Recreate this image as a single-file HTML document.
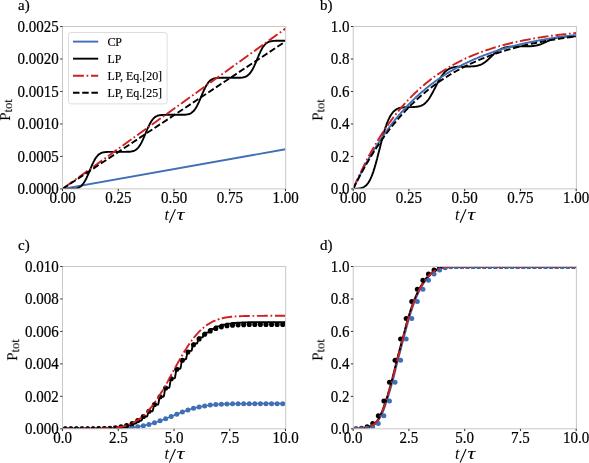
<!DOCTYPE html>
<html><head><meta charset="utf-8"><style>
html,body{margin:0;padding:0;background:#fff;}
svg{display:block;}
.tk{font-family:"Liberation Serif",serif;font-size:15.0px;fill:#000;stroke:#000;stroke-width:0.2px;}
.mt{font-family:"Liberation Serif",serif;font-size:16px;fill:#000;}
svg text{will-change:transform;}
.yl{font-family:"Liberation Serif",serif;font-size:15px;fill:#000;stroke:#000;stroke-width:0.05px;}
.lg{font-family:"Liberation Serif",serif;font-size:11.95px;fill:#000;stroke:#000;stroke-width:0.15px;}
</style></head><body>
<svg width="589" height="463" viewBox="0 0 589 463">
<rect width="589" height="463" fill="#fff"/>
<clipPath id="clipa"><rect x="62.50" y="26.50" width="223.00" height="162.40"/></clipPath>
<g clip-path="url(#clipa)">
<path d="M62.5,188.9 L285.5,149.3" fill="none" stroke="#3f6fb5" stroke-width="1.90" stroke-linejoin="round"/>
<path d="M62.5,188.9 L63.1,188.9 L63.6,188.9 L64.2,188.9 L64.7,188.9 L65.3,188.9 L65.8,188.9 L66.4,188.9 L67.0,188.9 L67.5,188.9 L68.1,188.9 L68.6,188.9 L69.2,188.9 L69.7,188.9 L70.3,188.9 L70.9,188.9 L71.4,188.9 L72.0,188.8 L72.5,188.8 L73.1,188.8 L73.7,188.7 L74.2,188.7 L74.8,188.6 L75.3,188.6 L75.9,188.5 L76.4,188.4 L77.0,188.2 L77.6,188.1 L78.1,187.9 L78.7,187.6 L79.2,187.3 L79.8,187.0 L80.3,186.6 L80.9,186.2 L81.5,185.7 L82.0,185.1 L82.6,184.5 L83.1,183.8 L83.7,183.0 L84.2,182.2 L84.8,181.2 L85.4,180.3 L85.9,179.2 L86.5,178.1 L87.0,176.9 L87.6,175.6 L88.1,174.4 L88.7,173.1 L89.3,171.7 L89.8,170.4 L90.4,169.0 L90.9,167.7 L91.5,166.4 L92.0,165.1 L92.6,163.9 L93.2,162.7 L93.7,161.6 L94.3,160.5 L94.8,159.5 L95.4,158.6 L95.9,157.7 L96.5,157.0 L97.1,156.3 L97.6,155.6 L98.2,155.1 L98.7,154.6 L99.3,154.1 L99.9,153.8 L100.4,153.4 L101.0,153.2 L101.5,152.9 L102.1,152.7 L102.6,152.5 L103.2,152.4 L103.8,152.3 L104.3,152.2 L104.9,152.1 L105.4,152.1 L106.0,152.0 L106.5,152.0 L107.1,152.0 L107.7,151.9 L108.2,151.9 L108.8,151.9 L109.3,151.9 L109.9,151.9 L110.4,151.9 L111.0,151.9 L111.6,151.9 L112.1,151.9 L112.7,151.9 L113.2,151.9 L113.8,151.9 L114.3,151.9 L114.9,151.9 L115.5,151.9 L116.0,151.9 L116.6,151.9 L117.1,151.9 L117.7,151.9 L118.2,151.9 L118.8,151.9 L119.4,151.9 L119.9,151.9 L120.5,151.9 L121.0,151.9 L121.6,151.9 L122.2,151.9 L122.7,151.9 L123.3,151.9 L123.8,151.9 L124.4,151.9 L124.9,151.9 L125.5,151.9 L126.1,151.8 L126.6,151.8 L127.2,151.8 L127.7,151.8 L128.3,151.8 L128.8,151.8 L129.4,151.7 L130.0,151.7 L130.5,151.6 L131.1,151.5 L131.6,151.4 L132.2,151.3 L132.7,151.2 L133.3,151.0 L133.9,150.8 L134.4,150.6 L135.0,150.3 L135.5,150.0 L136.1,149.6 L136.6,149.2 L137.2,148.7 L137.8,148.1 L138.3,147.5 L138.9,146.8 L139.4,146.0 L140.0,145.1 L140.6,144.2 L141.1,143.2 L141.7,142.2 L142.2,141.0 L142.8,139.8 L143.3,138.6 L143.9,137.3 L144.5,136.0 L145.0,134.7 L145.6,133.4 L146.1,132.0 L146.7,130.7 L147.2,129.4 L147.8,128.1 L148.4,126.9 L148.9,125.7 L149.5,124.6 L150.0,123.5 L150.6,122.5 L151.1,121.6 L151.7,120.7 L152.3,119.9 L152.8,119.2 L153.4,118.6 L153.9,118.0 L154.5,117.5 L155.0,117.1 L155.6,116.7 L156.2,116.4 L156.7,116.1 L157.3,115.9 L157.8,115.7 L158.4,115.5 L158.9,115.4 L159.5,115.3 L160.1,115.2 L160.6,115.1 L161.2,115.0 L161.7,115.0 L162.3,115.0 L162.9,114.9 L163.4,114.9 L164.0,114.9 L164.5,114.9 L165.1,114.9 L165.6,114.9 L166.2,114.9 L166.8,114.9 L167.3,114.9 L167.9,114.9 L168.4,114.8 L169.0,114.8 L169.5,114.8 L170.1,114.8 L170.7,114.8 L171.2,114.8 L171.8,114.8 L172.3,114.8 L172.9,114.8 L173.4,114.8 L174.0,114.8 L174.6,114.8 L175.1,114.8 L175.7,114.8 L176.2,114.8 L176.8,114.8 L177.3,114.8 L177.9,114.8 L178.5,114.8 L179.0,114.8 L179.6,114.8 L180.1,114.8 L180.7,114.8 L181.2,114.8 L181.8,114.8 L182.4,114.8 L182.9,114.8 L183.5,114.8 L184.0,114.8 L184.6,114.7 L185.2,114.7 L185.7,114.6 L186.3,114.6 L186.8,114.5 L187.4,114.4 L187.9,114.3 L188.5,114.2 L189.1,114.0 L189.6,113.8 L190.2,113.6 L190.7,113.3 L191.3,113.0 L191.8,112.6 L192.4,112.1 L193.0,111.6 L193.5,111.1 L194.1,110.5 L194.6,109.7 L195.2,109.0 L195.7,108.1 L196.3,107.2 L196.9,106.2 L197.4,105.1 L198.0,104.0 L198.5,102.8 L199.1,101.6 L199.6,100.3 L200.2,99.0 L200.8,97.7 L201.3,96.3 L201.9,95.0 L202.4,93.7 L203.0,92.4 L203.5,91.1 L204.1,89.8 L204.7,88.7 L205.2,87.5 L205.8,86.5 L206.3,85.5 L206.9,84.5 L207.5,83.7 L208.0,82.9 L208.6,82.2 L209.1,81.6 L209.7,81.0 L210.2,80.5 L210.8,80.1 L211.4,79.7 L211.9,79.4 L212.5,79.1 L213.0,78.9 L213.6,78.7 L214.1,78.5 L214.7,78.4 L215.3,78.2 L215.8,78.2 L216.4,78.1 L216.9,78.0 L217.5,78.0 L218.0,77.9 L218.6,77.9 L219.2,77.9 L219.7,77.9 L220.3,77.9 L220.8,77.8 L221.4,77.8 L221.9,77.8 L222.5,77.8 L223.1,77.8 L223.6,77.8 L224.2,77.8 L224.7,77.8 L225.3,77.8 L225.8,77.8 L226.4,77.8 L227.0,77.8 L227.5,77.8 L228.1,77.8 L228.6,77.8 L229.2,77.8 L229.8,77.8 L230.3,77.8 L230.9,77.8 L231.4,77.8 L232.0,77.8 L232.5,77.8 L233.1,77.8 L233.7,77.8 L234.2,77.8 L234.8,77.8 L235.3,77.8 L235.9,77.8 L236.4,77.8 L237.0,77.8 L237.6,77.8 L238.1,77.8 L238.7,77.8 L239.2,77.8 L239.8,77.7 L240.3,77.7 L240.9,77.7 L241.5,77.6 L242.0,77.6 L242.6,77.5 L243.1,77.4 L243.7,77.3 L244.2,77.1 L244.8,77.0 L245.4,76.8 L245.9,76.5 L246.5,76.3 L247.0,75.9 L247.6,75.6 L248.1,75.1 L248.7,74.6 L249.3,74.1 L249.8,73.4 L250.4,72.7 L250.9,71.9 L251.5,71.1 L252.0,70.2 L252.6,69.2 L253.2,68.1 L253.7,67.0 L254.3,65.8 L254.8,64.6 L255.4,63.3 L256.0,62.0 L256.5,60.6 L257.1,59.3 L257.6,58.0 L258.2,56.6 L258.7,55.3 L259.3,54.0 L259.9,52.8 L260.4,51.6 L261.0,50.5 L261.5,49.4 L262.1,48.4 L262.6,47.5 L263.2,46.7 L263.8,45.9 L264.3,45.2 L264.9,44.6 L265.4,44.0 L266.0,43.5 L266.5,43.1 L267.1,42.7 L267.7,42.3 L268.2,42.1 L268.8,41.8 L269.3,41.6 L269.9,41.5 L270.4,41.3 L271.0,41.2 L271.6,41.1 L272.1,41.1 L272.7,41.0 L273.2,40.9 L273.8,40.9 L274.4,40.9 L274.9,40.9 L275.5,40.8 L276.0,40.8 L276.6,40.8 L277.1,40.8 L277.7,40.8 L278.3,40.8 L278.8,40.8 L279.4,40.8 L279.9,40.8 L280.5,40.8 L281.0,40.8 L281.6,40.8 L282.2,40.8 L282.7,40.8 L283.3,40.8 L283.8,40.8 L284.4,40.8 L284.9,40.8 L285.5,40.8" fill="none" stroke="#000000" stroke-width="1.90" stroke-linejoin="round"/>
<path d="M62.5,188.9 L285.5,28.6" fill="none" stroke="#d01f20" stroke-width="1.90" stroke-dasharray="10.9,2.7,1.7,2.7" stroke-linejoin="round" stroke-dashoffset="-2"/>
<path d="M62.5,188.9 L285.5,41.4" fill="none" stroke="#000000" stroke-width="1.90" stroke-dasharray="6.5,2.7" stroke-linejoin="round"/>
</g>
<path d="M62.50,26.00 V189.40 M285.70,26.00 V189.40 M62.00,26.50 H286.20 M62.00,188.90 H286.20" fill="none" stroke="#c8c8c8" stroke-width="1"/>
<line x1="60.20" y1="188.90" x2="62.50" y2="188.90" stroke="#333333" stroke-width="1"/>
<text transform="translate(58.70,194.30) scale(1,1.080)" text-anchor="end" class="tk">0.0000</text>
<line x1="60.20" y1="156.42" x2="62.50" y2="156.42" stroke="#333333" stroke-width="1"/>
<text transform="translate(58.70,161.82) scale(1,1.080)" text-anchor="end" class="tk">0.0005</text>
<line x1="60.20" y1="123.94" x2="62.50" y2="123.94" stroke="#333333" stroke-width="1"/>
<text transform="translate(58.70,129.34) scale(1,1.080)" text-anchor="end" class="tk">0.0010</text>
<line x1="60.20" y1="91.46" x2="62.50" y2="91.46" stroke="#333333" stroke-width="1"/>
<text transform="translate(58.70,96.86) scale(1,1.080)" text-anchor="end" class="tk">0.0015</text>
<line x1="60.20" y1="58.98" x2="62.50" y2="58.98" stroke="#333333" stroke-width="1"/>
<text transform="translate(58.70,64.38) scale(1,1.080)" text-anchor="end" class="tk">0.0020</text>
<line x1="60.20" y1="26.50" x2="62.50" y2="26.50" stroke="#333333" stroke-width="1"/>
<text transform="translate(58.70,31.90) scale(1,1.080)" text-anchor="end" class="tk">0.0025</text>
<line x1="62.50" y1="188.90" x2="62.50" y2="191.20" stroke="#333333" stroke-width="1"/>
<text transform="translate(62.50,202.85) scale(1,1.080)" text-anchor="middle" class="tk">0.00</text>
<line x1="118.25" y1="188.90" x2="118.25" y2="191.20" stroke="#333333" stroke-width="1"/>
<text transform="translate(118.25,202.85) scale(1,1.080)" text-anchor="middle" class="tk">0.25</text>
<line x1="174.00" y1="188.90" x2="174.00" y2="191.20" stroke="#333333" stroke-width="1"/>
<text transform="translate(174.00,202.85) scale(1,1.080)" text-anchor="middle" class="tk">0.50</text>
<line x1="229.75" y1="188.90" x2="229.75" y2="191.20" stroke="#333333" stroke-width="1"/>
<text transform="translate(229.75,202.85) scale(1,1.080)" text-anchor="middle" class="tk">0.75</text>
<line x1="285.50" y1="188.90" x2="285.50" y2="191.20" stroke="#333333" stroke-width="1"/>
<text transform="translate(285.50,202.85) scale(1,1.080)" text-anchor="middle" class="tk">1.00</text>
<text x="18.00" y="10.30" class="tk">a)</text>
<text x="164.40" y="219.55" class="mt" font-style="italic" font-size="14.2">t</text>
<line x1="169.40" y1="222.75" x2="175.40" y2="209.15" stroke="#000" stroke-width="1.1"/>
<text transform="translate(176.60,219.55) scale(1.4,1)" class="mt" font-style="italic" font-size="15">τ</text>
<g transform="translate(10.10,110.00) rotate(-90)"><text x="0" y="0" text-anchor="middle" class="yl">P<tspan font-size="12.6" dy="2.0">tot</tspan></text></g>
<rect x="68.5" y="32.5" width="98.6" height="71.4" rx="2.5" fill="#ffffff" fill-opacity="0.8" stroke="#dddddd" stroke-width="1"/>
<line x1="73.0" y1="41.60" x2="98.2" y2="41.60" stroke="#3f6fb5" stroke-width="1.90"/>
<text x="107.4" y="45.80" class="lg">CP</text>
<line x1="73.0" y1="58.67" x2="98.2" y2="58.67" stroke="#000000" stroke-width="1.90"/>
<text x="107.4" y="62.87" class="lg">LP</text>
<line x1="73.0" y1="75.74" x2="98.2" y2="75.74" stroke="#d01f20" stroke-width="1.90" stroke-dasharray="10.9,2.7,1.7,2.7"/>
<text x="107.4" y="79.94" class="lg">LP, Eq.[20]</text>
<line x1="73.0" y1="92.81" x2="98.2" y2="92.81" stroke="#000000" stroke-width="1.90" stroke-dasharray="6.5,2.7"/>
<text x="107.4" y="97.01" class="lg">LP, Eq.[25]</text>
<clipPath id="clipb"><rect x="353.20" y="26.50" width="223.00" height="162.40"/></clipPath>
<g clip-path="url(#clipb)">
<path d="M353.2,188.9 L353.8,188.9 L354.3,188.9 L354.9,188.9 L355.4,188.8 L356.0,188.8 L356.5,188.8 L357.1,188.7 L357.7,188.7 L358.2,188.6 L358.8,188.5 L359.3,188.5 L359.9,188.4 L360.4,188.3 L361.0,188.1 L361.6,188.0 L362.1,187.8 L362.7,187.6 L363.2,187.3 L363.8,187.0 L364.3,186.7 L364.9,186.3 L365.5,185.9 L366.0,185.4 L366.6,184.9 L367.1,184.2 L367.7,183.6 L368.3,182.8 L368.8,181.9 L369.4,181.0 L369.9,180.0 L370.5,178.9 L371.0,177.6 L371.6,176.3 L372.2,174.9 L372.7,173.4 L373.3,171.8 L373.8,170.1 L374.4,168.4 L374.9,166.5 L375.5,164.6 L376.1,162.6 L376.6,160.5 L377.2,158.4 L377.7,156.3 L378.3,154.1 L378.8,151.9 L379.4,149.7 L380.0,147.5 L380.5,145.3 L381.1,143.1 L381.6,140.9 L382.2,138.8 L382.7,136.8 L383.3,134.8 L383.9,132.8 L384.4,130.9 L385.0,129.1 L385.5,127.4 L386.1,125.8 L386.6,124.2 L387.2,122.7 L387.8,121.3 L388.3,120.0 L388.9,118.8 L389.4,117.7 L390.0,116.6 L390.6,115.6 L391.1,114.7 L391.7,113.9 L392.2,113.2 L392.8,112.5 L393.3,111.8 L393.9,111.3 L394.5,110.8 L395.0,110.3 L395.6,109.9 L396.1,109.5 L396.7,109.2 L397.2,108.9 L397.8,108.7 L398.4,108.4 L398.9,108.2 L399.5,108.1 L400.0,107.9 L400.6,107.8 L401.1,107.7 L401.7,107.6 L402.3,107.5 L402.8,107.5 L403.4,107.4 L403.9,107.4 L404.5,107.3 L405.0,107.3 L405.6,107.3 L406.2,107.2 L406.7,107.2 L407.3,107.2 L407.8,107.2 L408.4,107.2 L408.9,107.2 L409.5,107.1 L410.1,107.1 L410.6,107.1 L411.2,107.1 L411.7,107.1 L412.3,107.1 L412.9,107.1 L413.4,107.0 L414.0,107.0 L414.5,107.0 L415.1,106.9 L415.6,106.9 L416.2,106.8 L416.8,106.8 L417.3,106.7 L417.9,106.6 L418.4,106.5 L419.0,106.4 L419.5,106.2 L420.1,106.1 L420.7,105.9 L421.2,105.7 L421.8,105.4 L422.3,105.1 L422.9,104.8 L423.4,104.5 L424.0,104.1 L424.6,103.7 L425.1,103.2 L425.7,102.7 L426.2,102.2 L426.8,101.6 L427.3,100.9 L427.9,100.2 L428.5,99.5 L429.0,98.7 L429.6,97.8 L430.1,97.0 L430.7,96.0 L431.2,95.1 L431.8,94.1 L432.4,93.1 L432.9,92.0 L433.5,90.9 L434.0,89.9 L434.6,88.8 L435.2,87.7 L435.7,86.6 L436.3,85.5 L436.8,84.4 L437.4,83.3 L437.9,82.3 L438.5,81.3 L439.1,80.3 L439.6,79.3 L440.2,78.4 L440.7,77.5 L441.3,76.6 L441.8,75.8 L442.4,75.0 L443.0,74.3 L443.5,73.6 L444.1,72.9 L444.6,72.3 L445.2,71.8 L445.7,71.3 L446.3,70.8 L446.9,70.3 L447.4,69.9 L448.0,69.5 L448.5,69.2 L449.1,68.9 L449.6,68.6 L450.2,68.3 L450.8,68.1 L451.3,67.9 L451.9,67.7 L452.4,67.6 L453.0,67.4 L453.6,67.3 L454.1,67.2 L454.7,67.1 L455.2,67.0 L455.8,66.9 L456.3,66.9 L456.9,66.8 L457.5,66.8 L458.0,66.7 L458.6,66.7 L459.1,66.7 L459.7,66.7 L460.2,66.6 L460.8,66.6 L461.4,66.6 L461.9,66.6 L462.5,66.6 L463.0,66.6 L463.6,66.6 L464.1,66.6 L464.7,66.6 L465.3,66.5 L465.8,66.5 L466.4,66.5 L466.9,66.5 L467.5,66.5 L468.0,66.5 L468.6,66.5 L469.2,66.5 L469.7,66.5 L470.3,66.5 L470.8,66.4 L471.4,66.4 L471.9,66.4 L472.5,66.4 L473.1,66.3 L473.6,66.3 L474.2,66.2 L474.7,66.2 L475.3,66.1 L475.9,66.0 L476.4,65.9 L477.0,65.8 L477.5,65.7 L478.1,65.6 L478.6,65.4 L479.2,65.2 L479.8,65.0 L480.3,64.8 L480.9,64.6 L481.4,64.3 L482.0,64.1 L482.5,63.8 L483.1,63.4 L483.7,63.1 L484.2,62.7 L484.8,62.3 L485.3,61.9 L485.9,61.5 L486.4,61.0 L487.0,60.6 L487.6,60.1 L488.1,59.6 L488.7,59.0 L489.2,58.5 L489.8,58.0 L490.3,57.4 L490.9,56.9 L491.5,56.3 L492.0,55.8 L492.6,55.3 L493.1,54.7 L493.7,54.2 L494.2,53.7 L494.8,53.2 L495.4,52.7 L495.9,52.3 L496.5,51.8 L497.0,51.4 L497.6,51.0 L498.2,50.6 L498.7,50.2 L499.3,49.9 L499.8,49.6 L500.4,49.3 L500.9,49.0 L501.5,48.7 L502.1,48.5 L502.6,48.3 L503.2,48.1 L503.7,47.9 L504.3,47.7 L504.8,47.5 L505.4,47.4 L506.0,47.3 L506.5,47.2 L507.1,47.1 L507.6,47.0 L508.2,46.9 L508.7,46.8 L509.3,46.8 L509.9,46.7 L510.4,46.7 L511.0,46.6 L511.5,46.6 L512.1,46.6 L512.6,46.5 L513.2,46.5 L513.8,46.5 L514.3,46.5 L514.9,46.5 L515.4,46.4 L516.0,46.4 L516.5,46.4 L517.1,46.4 L517.7,46.4 L518.2,46.4 L518.8,46.4 L519.3,46.4 L519.9,46.4 L520.5,46.4 L521.0,46.4 L521.6,46.4 L522.1,46.4 L522.7,46.4 L523.2,46.4 L523.8,46.4 L524.4,46.4 L524.9,46.4 L525.5,46.4 L526.0,46.3 L526.6,46.3 L527.1,46.3 L527.7,46.3 L528.3,46.3 L528.8,46.3 L529.4,46.3 L529.9,46.2 L530.5,46.2 L531.0,46.2 L531.6,46.1 L532.2,46.1 L532.7,46.0 L533.3,46.0 L533.8,45.9 L534.4,45.8 L534.9,45.7 L535.5,45.6 L536.1,45.5 L536.6,45.4 L537.2,45.3 L537.7,45.2 L538.3,45.0 L538.8,44.8 L539.4,44.7 L540.0,44.5 L540.5,44.3 L541.1,44.1 L541.6,43.9 L542.2,43.6 L542.8,43.4 L543.3,43.2 L543.9,42.9 L544.4,42.7 L545.0,42.4 L545.5,42.1 L546.1,41.9 L546.7,41.6 L547.2,41.3 L547.8,41.0 L548.3,40.8 L548.9,40.5 L549.4,40.3 L550.0,40.0 L550.6,39.8 L551.1,39.5 L551.7,39.3 L552.2,39.1 L552.8,38.9 L553.3,38.7 L553.9,38.5 L554.5,38.3 L555.0,38.1 L555.6,38.0 L556.1,37.8 L556.7,37.7 L557.2,37.5 L557.8,37.4 L558.4,37.3 L558.9,37.2 L559.5,37.1 L560.0,37.0 L560.6,36.9 L561.1,36.9 L561.7,36.8 L562.3,36.8 L562.8,36.7 L563.4,36.7 L563.9,36.6 L564.5,36.6 L565.1,36.6 L565.6,36.5 L566.2,36.5 L566.7,36.5 L567.3,36.5 L567.8,36.5 L568.4,36.4 L569.0,36.4 L569.5,36.4 L570.1,36.4 L570.6,36.4 L571.2,36.4 L571.7,36.4 L572.3,36.4 L572.9,36.4 L573.4,36.4 L574.0,36.4 L574.5,36.4 L575.1,36.4 L575.6,36.4 L576.2,36.4" fill="none" stroke="#000000" stroke-width="1.90" stroke-linejoin="round"/>
<path d="M353.2,188.9 L353.8,187.7 L354.3,186.5 L354.9,185.3 L355.4,184.2 L356.0,183.0 L356.5,181.9 L357.1,180.7 L357.7,179.6 L358.2,178.5 L358.8,177.4 L359.3,176.2 L359.9,175.1 L360.4,174.1 L361.0,173.0 L361.6,171.9 L362.1,170.8 L362.7,169.8 L363.2,168.7 L363.8,167.7 L364.3,166.6 L364.9,165.6 L365.5,164.6 L366.0,163.6 L366.6,162.6 L367.1,161.6 L367.7,160.6 L368.3,159.6 L368.8,158.6 L369.4,157.6 L369.9,156.7 L370.5,155.7 L371.0,154.8 L371.6,153.8 L372.2,152.9 L372.7,152.0 L373.3,151.0 L373.8,150.1 L374.4,149.2 L374.9,148.3 L375.5,147.4 L376.1,146.5 L376.6,145.6 L377.2,144.8 L377.7,143.9 L378.3,143.0 L378.8,142.2 L379.4,141.3 L380.0,140.5 L380.5,139.6 L381.1,138.8 L381.6,138.0 L382.2,137.2 L382.7,136.4 L383.3,135.6 L383.9,134.7 L384.4,134.0 L385.0,133.2 L385.5,132.4 L386.1,131.6 L386.6,130.8 L387.2,130.1 L387.8,129.3 L388.3,128.5 L388.9,127.8 L389.4,127.1 L390.0,126.3 L390.6,125.6 L391.1,124.9 L391.7,124.1 L392.2,123.4 L392.8,122.7 L393.3,122.0 L393.9,121.3 L394.5,120.6 L395.0,119.9 L395.6,119.2 L396.1,118.5 L396.7,117.9 L397.2,117.2 L397.8,116.5 L398.4,115.9 L398.9,115.2 L399.5,114.6 L400.0,113.9 L400.6,113.3 L401.1,112.6 L401.7,112.0 L402.3,111.4 L402.8,110.7 L403.4,110.1 L403.9,109.5 L404.5,108.9 L405.0,108.3 L405.6,107.7 L406.2,107.1 L406.7,106.5 L407.3,105.9 L407.8,105.3 L408.4,104.8 L408.9,104.2 L409.5,103.6 L410.1,103.0 L410.6,102.5 L411.2,101.9 L411.7,101.4 L412.3,100.8 L412.9,100.3 L413.4,99.7 L414.0,99.2 L414.5,98.7 L415.1,98.1 L415.6,97.6 L416.2,97.1 L416.8,96.6 L417.3,96.0 L417.9,95.5 L418.4,95.0 L419.0,94.5 L419.5,94.0 L420.1,93.5 L420.7,93.0 L421.2,92.5 L421.8,92.1 L422.3,91.6 L422.9,91.1 L423.4,90.6 L424.0,90.2 L424.6,89.7 L425.1,89.2 L425.7,88.8 L426.2,88.3 L426.8,87.8 L427.3,87.4 L427.9,86.9 L428.5,86.5 L429.0,86.1 L429.6,85.6 L430.1,85.2 L430.7,84.8 L431.2,84.3 L431.8,83.9 L432.4,83.5 L432.9,83.1 L433.5,82.7 L434.0,82.2 L434.6,81.8 L435.2,81.4 L435.7,81.0 L436.3,80.6 L436.8,80.2 L437.4,79.8 L437.9,79.4 L438.5,79.0 L439.1,78.7 L439.6,78.3 L440.2,77.9 L440.7,77.5 L441.3,77.1 L441.8,76.8 L442.4,76.4 L443.0,76.0 L443.5,75.7 L444.1,75.3 L444.6,75.0 L445.2,74.6 L445.7,74.2 L446.3,73.9 L446.9,73.5 L447.4,73.2 L448.0,72.9 L448.5,72.5 L449.1,72.2 L449.6,71.8 L450.2,71.5 L450.8,71.2 L451.3,70.8 L451.9,70.5 L452.4,70.2 L453.0,69.9 L453.6,69.6 L454.1,69.2 L454.7,68.9 L455.2,68.6 L455.8,68.3 L456.3,68.0 L456.9,67.7 L457.5,67.4 L458.0,67.1 L458.6,66.8 L459.1,66.5 L459.7,66.2 L460.2,65.9 L460.8,65.6 L461.4,65.3 L461.9,65.0 L462.5,64.8 L463.0,64.5 L463.6,64.2 L464.1,63.9 L464.7,63.7 L465.3,63.4 L465.8,63.1 L466.4,62.8 L466.9,62.6 L467.5,62.3 L468.0,62.0 L468.6,61.8 L469.2,61.5 L469.7,61.3 L470.3,61.0 L470.8,60.8 L471.4,60.5 L471.9,60.3 L472.5,60.0 L473.1,59.8 L473.6,59.5 L474.2,59.3 L474.7,59.0 L475.3,58.8 L475.9,58.6 L476.4,58.3 L477.0,58.1 L477.5,57.9 L478.1,57.6 L478.6,57.4 L479.2,57.2 L479.8,56.9 L480.3,56.7 L480.9,56.5 L481.4,56.3 L482.0,56.1 L482.5,55.8 L483.1,55.6 L483.7,55.4 L484.2,55.2 L484.8,55.0 L485.3,54.8 L485.9,54.6 L486.4,54.4 L487.0,54.2 L487.6,54.0 L488.1,53.8 L488.7,53.6 L489.2,53.4 L489.8,53.2 L490.3,53.0 L490.9,52.8 L491.5,52.6 L492.0,52.4 L492.6,52.2 L493.1,52.0 L493.7,51.8 L494.2,51.6 L494.8,51.4 L495.4,51.3 L495.9,51.1 L496.5,50.9 L497.0,50.7 L497.6,50.5 L498.2,50.4 L498.7,50.2 L499.3,50.0 L499.8,49.8 L500.4,49.7 L500.9,49.5 L501.5,49.3 L502.1,49.2 L502.6,49.0 L503.2,48.8 L503.7,48.7 L504.3,48.5 L504.8,48.3 L505.4,48.2 L506.0,48.0 L506.5,47.9 L507.1,47.7 L507.6,47.6 L508.2,47.4 L508.7,47.2 L509.3,47.1 L509.9,46.9 L510.4,46.8 L511.0,46.6 L511.5,46.5 L512.1,46.3 L512.6,46.2 L513.2,46.1 L513.8,45.9 L514.3,45.8 L514.9,45.6 L515.4,45.5 L516.0,45.4 L516.5,45.2 L517.1,45.1 L517.7,44.9 L518.2,44.8 L518.8,44.7 L519.3,44.5 L519.9,44.4 L520.5,44.3 L521.0,44.1 L521.6,44.0 L522.1,43.9 L522.7,43.8 L523.2,43.6 L523.8,43.5 L524.4,43.4 L524.9,43.3 L525.5,43.1 L526.0,43.0 L526.6,42.9 L527.1,42.8 L527.7,42.6 L528.3,42.5 L528.8,42.4 L529.4,42.3 L529.9,42.2 L530.5,42.1 L531.0,41.9 L531.6,41.8 L532.2,41.7 L532.7,41.6 L533.3,41.5 L533.8,41.4 L534.4,41.3 L534.9,41.2 L535.5,41.1 L536.1,41.0 L536.6,40.8 L537.2,40.7 L537.7,40.6 L538.3,40.5 L538.8,40.4 L539.4,40.3 L540.0,40.2 L540.5,40.1 L541.1,40.0 L541.6,39.9 L542.2,39.8 L542.8,39.7 L543.3,39.6 L543.9,39.5 L544.4,39.4 L545.0,39.3 L545.5,39.3 L546.1,39.2 L546.7,39.1 L547.2,39.0 L547.8,38.9 L548.3,38.8 L548.9,38.7 L549.4,38.6 L550.0,38.5 L550.6,38.4 L551.1,38.3 L551.7,38.3 L552.2,38.2 L552.8,38.1 L553.3,38.0 L553.9,37.9 L554.5,37.8 L555.0,37.7 L555.6,37.7 L556.1,37.6 L556.7,37.5 L557.2,37.4 L557.8,37.3 L558.4,37.3 L558.9,37.2 L559.5,37.1 L560.0,37.0 L560.6,36.9 L561.1,36.9 L561.7,36.8 L562.3,36.7 L562.8,36.6 L563.4,36.6 L563.9,36.5 L564.5,36.4 L565.1,36.4 L565.6,36.3 L566.2,36.2 L566.7,36.1 L567.3,36.1 L567.8,36.0 L568.4,35.9 L569.0,35.9 L569.5,35.8 L570.1,35.7 L570.6,35.7 L571.2,35.6 L571.7,35.5 L572.3,35.5 L572.9,35.4 L573.4,35.3 L574.0,35.3 L574.5,35.2 L575.1,35.1 L575.6,35.1 L576.2,35.0" fill="none" stroke="#3f6fb5" stroke-width="1.90" stroke-linejoin="round"/>
<path d="M353.2,188.9 L353.8,187.6 L354.3,186.3 L354.9,185.0 L355.4,183.8 L356.0,182.5 L356.5,181.2 L357.1,180.0 L357.7,178.8 L358.2,177.6 L358.8,176.3 L359.3,175.1 L359.9,173.9 L360.4,172.8 L361.0,171.6 L361.6,170.4 L362.1,169.3 L362.7,168.1 L363.2,167.0 L363.8,165.9 L364.3,164.7 L364.9,163.6 L365.5,162.5 L366.0,161.5 L366.6,160.4 L367.1,159.3 L367.7,158.2 L368.3,157.2 L368.8,156.1 L369.4,155.1 L369.9,154.1 L370.5,153.0 L371.0,152.0 L371.6,151.0 L372.2,150.0 L372.7,149.0 L373.3,148.0 L373.8,147.1 L374.4,146.1 L374.9,145.1 L375.5,144.2 L376.1,143.2 L376.6,142.3 L377.2,141.4 L377.7,140.5 L378.3,139.5 L378.8,138.6 L379.4,137.7 L380.0,136.9 L380.5,136.0 L381.1,135.1 L381.6,134.2 L382.2,133.4 L382.7,132.5 L383.3,131.6 L383.9,130.8 L384.4,130.0 L385.0,129.1 L385.5,128.3 L386.1,127.5 L386.6,126.7 L387.2,125.9 L387.8,125.1 L388.3,124.3 L388.9,123.5 L389.4,122.7 L390.0,122.0 L390.6,121.2 L391.1,120.4 L391.7,119.7 L392.2,118.9 L392.8,118.2 L393.3,117.5 L393.9,116.7 L394.5,116.0 L395.0,115.3 L395.6,114.6 L396.1,113.9 L396.7,113.2 L397.2,112.5 L397.8,111.8 L398.4,111.1 L398.9,110.4 L399.5,109.8 L400.0,109.1 L400.6,108.4 L401.1,107.8 L401.7,107.1 L402.3,106.5 L402.8,105.8 L403.4,105.2 L403.9,104.6 L404.5,103.9 L405.0,103.3 L405.6,102.7 L406.2,102.1 L406.7,101.5 L407.3,100.9 L407.8,100.3 L408.4,99.7 L408.9,99.1 L409.5,98.5 L410.1,97.9 L410.6,97.4 L411.2,96.8 L411.7,96.2 L412.3,95.7 L412.9,95.1 L413.4,94.6 L414.0,94.0 L414.5,93.5 L415.1,93.0 L415.6,92.4 L416.2,91.9 L416.8,91.4 L417.3,90.8 L417.9,90.3 L418.4,89.8 L419.0,89.3 L419.5,88.8 L420.1,88.3 L420.7,87.8 L421.2,87.3 L421.8,86.8 L422.3,86.4 L422.9,85.9 L423.4,85.4 L424.0,84.9 L424.6,84.5 L425.1,84.0 L425.7,83.5 L426.2,83.1 L426.8,82.6 L427.3,82.2 L427.9,81.7 L428.5,81.3 L429.0,80.8 L429.6,80.4 L430.1,80.0 L430.7,79.5 L431.2,79.1 L431.8,78.7 L432.4,78.3 L432.9,77.9 L433.5,77.5 L434.0,77.0 L434.6,76.6 L435.2,76.2 L435.7,75.8 L436.3,75.4 L436.8,75.0 L437.4,74.7 L437.9,74.3 L438.5,73.9 L439.1,73.5 L439.6,73.1 L440.2,72.8 L440.7,72.4 L441.3,72.0 L441.8,71.7 L442.4,71.3 L443.0,70.9 L443.5,70.6 L444.1,70.2 L444.6,69.9 L445.2,69.5 L445.7,69.2 L446.3,68.8 L446.9,68.5 L447.4,68.2 L448.0,67.8 L448.5,67.5 L449.1,67.2 L449.6,66.8 L450.2,66.5 L450.8,66.2 L451.3,65.9 L451.9,65.6 L452.4,65.3 L453.0,64.9 L453.6,64.6 L454.1,64.3 L454.7,64.0 L455.2,63.7 L455.8,63.4 L456.3,63.1 L456.9,62.8 L457.5,62.5 L458.0,62.3 L458.6,62.0 L459.1,61.7 L459.7,61.4 L460.2,61.1 L460.8,60.8 L461.4,60.6 L461.9,60.3 L462.5,60.0 L463.0,59.8 L463.6,59.5 L464.1,59.2 L464.7,59.0 L465.3,58.7 L465.8,58.4 L466.4,58.2 L466.9,57.9 L467.5,57.7 L468.0,57.4 L468.6,57.2 L469.2,56.9 L469.7,56.7 L470.3,56.5 L470.8,56.2 L471.4,56.0 L471.9,55.7 L472.5,55.5 L473.1,55.3 L473.6,55.0 L474.2,54.8 L474.7,54.6 L475.3,54.4 L475.9,54.1 L476.4,53.9 L477.0,53.7 L477.5,53.5 L478.1,53.3 L478.6,53.0 L479.2,52.8 L479.8,52.6 L480.3,52.4 L480.9,52.2 L481.4,52.0 L482.0,51.8 L482.5,51.6 L483.1,51.4 L483.7,51.2 L484.2,51.0 L484.8,50.8 L485.3,50.6 L485.9,50.4 L486.4,50.2 L487.0,50.0 L487.6,49.8 L488.1,49.6 L488.7,49.5 L489.2,49.3 L489.8,49.1 L490.3,48.9 L490.9,48.7 L491.5,48.6 L492.0,48.4 L492.6,48.2 L493.1,48.0 L493.7,47.9 L494.2,47.7 L494.8,47.5 L495.4,47.3 L495.9,47.2 L496.5,47.0 L497.0,46.9 L497.6,46.7 L498.2,46.5 L498.7,46.4 L499.3,46.2 L499.8,46.0 L500.4,45.9 L500.9,45.7 L501.5,45.6 L502.1,45.4 L502.6,45.3 L503.2,45.1 L503.7,45.0 L504.3,44.8 L504.8,44.7 L505.4,44.5 L506.0,44.4 L506.5,44.2 L507.1,44.1 L507.6,44.0 L508.2,43.8 L508.7,43.7 L509.3,43.5 L509.9,43.4 L510.4,43.3 L511.0,43.1 L511.5,43.0 L512.1,42.9 L512.6,42.7 L513.2,42.6 L513.8,42.5 L514.3,42.4 L514.9,42.2 L515.4,42.1 L516.0,42.0 L516.5,41.9 L517.1,41.7 L517.7,41.6 L518.2,41.5 L518.8,41.4 L519.3,41.2 L519.9,41.1 L520.5,41.0 L521.0,40.9 L521.6,40.8 L522.1,40.7 L522.7,40.6 L523.2,40.4 L523.8,40.3 L524.4,40.2 L524.9,40.1 L525.5,40.0 L526.0,39.9 L526.6,39.8 L527.1,39.7 L527.7,39.6 L528.3,39.5 L528.8,39.4 L529.4,39.3 L529.9,39.2 L530.5,39.1 L531.0,39.0 L531.6,38.9 L532.2,38.8 L532.7,38.7 L533.3,38.6 L533.8,38.5 L534.4,38.4 L534.9,38.3 L535.5,38.2 L536.1,38.1 L536.6,38.0 L537.2,37.9 L537.7,37.8 L538.3,37.7 L538.8,37.6 L539.4,37.5 L540.0,37.4 L540.5,37.4 L541.1,37.3 L541.6,37.2 L542.2,37.1 L542.8,37.0 L543.3,36.9 L543.9,36.8 L544.4,36.8 L545.0,36.7 L545.5,36.6 L546.1,36.5 L546.7,36.4 L547.2,36.4 L547.8,36.3 L548.3,36.2 L548.9,36.1 L549.4,36.0 L550.0,36.0 L550.6,35.9 L551.1,35.8 L551.7,35.7 L552.2,35.7 L552.8,35.6 L553.3,35.5 L553.9,35.5 L554.5,35.4 L555.0,35.3 L555.6,35.2 L556.1,35.2 L556.7,35.1 L557.2,35.0 L557.8,35.0 L558.4,34.9 L558.9,34.8 L559.5,34.8 L560.0,34.7 L560.6,34.6 L561.1,34.6 L561.7,34.5 L562.3,34.4 L562.8,34.4 L563.4,34.3 L563.9,34.2 L564.5,34.2 L565.1,34.1 L565.6,34.1 L566.2,34.0 L566.7,33.9 L567.3,33.9 L567.8,33.8 L568.4,33.8 L569.0,33.7 L569.5,33.6 L570.1,33.6 L570.6,33.5 L571.2,33.5 L571.7,33.4 L572.3,33.4 L572.9,33.3 L573.4,33.3 L574.0,33.2 L574.5,33.1 L575.1,33.1 L575.6,33.0 L576.2,33.0" fill="none" stroke="#d01f20" stroke-width="1.90" stroke-dasharray="10.9,2.7,1.7,2.7" stroke-linejoin="round"/>
<path d="M353.2,188.9 L353.8,187.8 L354.3,186.6 L354.9,185.5 L355.4,184.4 L356.0,183.3 L356.5,182.2 L357.1,181.1 L357.7,180.1 L358.2,179.0 L358.8,177.9 L359.3,176.9 L359.9,175.8 L360.4,174.8 L361.0,173.7 L361.6,172.7 L362.1,171.7 L362.7,170.7 L363.2,169.7 L363.8,168.7 L364.3,167.7 L364.9,166.7 L365.5,165.7 L366.0,164.7 L366.6,163.8 L367.1,162.8 L367.7,161.9 L368.3,160.9 L368.8,160.0 L369.4,159.1 L369.9,158.1 L370.5,157.2 L371.0,156.3 L371.6,155.4 L372.2,154.5 L372.7,153.6 L373.3,152.7 L373.8,151.8 L374.4,151.0 L374.9,150.1 L375.5,149.2 L376.1,148.4 L376.6,147.5 L377.2,146.7 L377.7,145.9 L378.3,145.0 L378.8,144.2 L379.4,143.4 L380.0,142.6 L380.5,141.7 L381.1,140.9 L381.6,140.1 L382.2,139.4 L382.7,138.6 L383.3,137.8 L383.9,137.0 L384.4,136.2 L385.0,135.5 L385.5,134.7 L386.1,134.0 L386.6,133.2 L387.2,132.5 L387.8,131.7 L388.3,131.0 L388.9,130.3 L389.4,129.5 L390.0,128.8 L390.6,128.1 L391.1,127.4 L391.7,126.7 L392.2,126.0 L392.8,125.3 L393.3,124.6 L393.9,123.9 L394.5,123.2 L395.0,122.6 L395.6,121.9 L396.1,121.2 L396.7,120.6 L397.2,119.9 L397.8,119.3 L398.4,118.6 L398.9,118.0 L399.5,117.3 L400.0,116.7 L400.6,116.1 L401.1,115.4 L401.7,114.8 L402.3,114.2 L402.8,113.6 L403.4,113.0 L403.9,112.4 L404.5,111.8 L405.0,111.2 L405.6,110.6 L406.2,110.0 L406.7,109.4 L407.3,108.9 L407.8,108.3 L408.4,107.7 L408.9,107.1 L409.5,106.6 L410.1,106.0 L410.6,105.5 L411.2,104.9 L411.7,104.4 L412.3,103.8 L412.9,103.3 L413.4,102.8 L414.0,102.2 L414.5,101.7 L415.1,101.2 L415.6,100.6 L416.2,100.1 L416.8,99.6 L417.3,99.1 L417.9,98.6 L418.4,98.1 L419.0,97.6 L419.5,97.1 L420.1,96.6 L420.7,96.1 L421.2,95.6 L421.8,95.2 L422.3,94.7 L422.9,94.2 L423.4,93.7 L424.0,93.3 L424.6,92.8 L425.1,92.3 L425.7,91.9 L426.2,91.4 L426.8,91.0 L427.3,90.5 L427.9,90.1 L428.5,89.6 L429.0,89.2 L429.6,88.7 L430.1,88.3 L430.7,87.9 L431.2,87.5 L431.8,87.0 L432.4,86.6 L432.9,86.2 L433.5,85.8 L434.0,85.4 L434.6,84.9 L435.2,84.5 L435.7,84.1 L436.3,83.7 L436.8,83.3 L437.4,82.9 L437.9,82.5 L438.5,82.1 L439.1,81.8 L439.6,81.4 L440.2,81.0 L440.7,80.6 L441.3,80.2 L441.8,79.9 L442.4,79.5 L443.0,79.1 L443.5,78.8 L444.1,78.4 L444.6,78.0 L445.2,77.7 L445.7,77.3 L446.3,77.0 L446.9,76.6 L447.4,76.3 L448.0,75.9 L448.5,75.6 L449.1,75.2 L449.6,74.9 L450.2,74.5 L450.8,74.2 L451.3,73.9 L451.9,73.5 L452.4,73.2 L453.0,72.9 L453.6,72.6 L454.1,72.2 L454.7,71.9 L455.2,71.6 L455.8,71.3 L456.3,71.0 L456.9,70.7 L457.5,70.4 L458.0,70.1 L458.6,69.8 L459.1,69.5 L459.7,69.2 L460.2,68.9 L460.8,68.6 L461.4,68.3 L461.9,68.0 L462.5,67.7 L463.0,67.4 L463.6,67.1 L464.1,66.8 L464.7,66.5 L465.3,66.3 L465.8,66.0 L466.4,65.7 L466.9,65.4 L467.5,65.2 L468.0,64.9 L468.6,64.6 L469.2,64.4 L469.7,64.1 L470.3,63.8 L470.8,63.6 L471.4,63.3 L471.9,63.1 L472.5,62.8 L473.1,62.6 L473.6,62.3 L474.2,62.1 L474.7,61.8 L475.3,61.6 L475.9,61.3 L476.4,61.1 L477.0,60.8 L477.5,60.6 L478.1,60.4 L478.6,60.1 L479.2,59.9 L479.8,59.7 L480.3,59.4 L480.9,59.2 L481.4,59.0 L482.0,58.7 L482.5,58.5 L483.1,58.3 L483.7,58.1 L484.2,57.8 L484.8,57.6 L485.3,57.4 L485.9,57.2 L486.4,57.0 L487.0,56.8 L487.6,56.6 L488.1,56.3 L488.7,56.1 L489.2,55.9 L489.8,55.7 L490.3,55.5 L490.9,55.3 L491.5,55.1 L492.0,54.9 L492.6,54.7 L493.1,54.5 L493.7,54.3 L494.2,54.1 L494.8,53.9 L495.4,53.8 L495.9,53.6 L496.5,53.4 L497.0,53.2 L497.6,53.0 L498.2,52.8 L498.7,52.6 L499.3,52.4 L499.8,52.3 L500.4,52.1 L500.9,51.9 L501.5,51.7 L502.1,51.6 L502.6,51.4 L503.2,51.2 L503.7,51.0 L504.3,50.9 L504.8,50.7 L505.4,50.5 L506.0,50.4 L506.5,50.2 L507.1,50.0 L507.6,49.9 L508.2,49.7 L508.7,49.5 L509.3,49.4 L509.9,49.2 L510.4,49.1 L511.0,48.9 L511.5,48.7 L512.1,48.6 L512.6,48.4 L513.2,48.3 L513.8,48.1 L514.3,48.0 L514.9,47.8 L515.4,47.7 L516.0,47.5 L516.5,47.4 L517.1,47.2 L517.7,47.1 L518.2,47.0 L518.8,46.8 L519.3,46.7 L519.9,46.5 L520.5,46.4 L521.0,46.2 L521.6,46.1 L522.1,46.0 L522.7,45.8 L523.2,45.7 L523.8,45.6 L524.4,45.4 L524.9,45.3 L525.5,45.2 L526.0,45.0 L526.6,44.9 L527.1,44.8 L527.7,44.7 L528.3,44.5 L528.8,44.4 L529.4,44.3 L529.9,44.2 L530.5,44.0 L531.0,43.9 L531.6,43.8 L532.2,43.7 L532.7,43.5 L533.3,43.4 L533.8,43.3 L534.4,43.2 L534.9,43.1 L535.5,43.0 L536.1,42.8 L536.6,42.7 L537.2,42.6 L537.7,42.5 L538.3,42.4 L538.8,42.3 L539.4,42.2 L540.0,42.1 L540.5,42.0 L541.1,41.8 L541.6,41.7 L542.2,41.6 L542.8,41.5 L543.3,41.4 L543.9,41.3 L544.4,41.2 L545.0,41.1 L545.5,41.0 L546.1,40.9 L546.7,40.8 L547.2,40.7 L547.8,40.6 L548.3,40.5 L548.9,40.4 L549.4,40.3 L550.0,40.2 L550.6,40.1 L551.1,40.0 L551.7,39.9 L552.2,39.8 L552.8,39.8 L553.3,39.7 L553.9,39.6 L554.5,39.5 L555.0,39.4 L555.6,39.3 L556.1,39.2 L556.7,39.1 L557.2,39.0 L557.8,38.9 L558.4,38.9 L558.9,38.8 L559.5,38.7 L560.0,38.6 L560.6,38.5 L561.1,38.4 L561.7,38.3 L562.3,38.3 L562.8,38.2 L563.4,38.1 L563.9,38.0 L564.5,37.9 L565.1,37.9 L565.6,37.8 L566.2,37.7 L566.7,37.6 L567.3,37.5 L567.8,37.5 L568.4,37.4 L569.0,37.3 L569.5,37.2 L570.1,37.2 L570.6,37.1 L571.2,37.0 L571.7,36.9 L572.3,36.9 L572.9,36.8 L573.4,36.7 L574.0,36.7 L574.5,36.6 L575.1,36.5 L575.6,36.4 L576.2,36.4" fill="none" stroke="#000000" stroke-width="1.90" stroke-dasharray="6.5,2.7" stroke-linejoin="round"/>
</g>
<path d="M353.20,26.00 V189.40 M576.40,26.00 V189.40 M352.70,26.50 H576.90 M352.70,188.90 H576.90" fill="none" stroke="#c8c8c8" stroke-width="1"/>
<line x1="350.90" y1="188.90" x2="353.20" y2="188.90" stroke="#333333" stroke-width="1"/>
<text transform="translate(349.40,194.30) scale(1,1.080)" text-anchor="end" class="tk">0.0</text>
<line x1="350.90" y1="156.42" x2="353.20" y2="156.42" stroke="#333333" stroke-width="1"/>
<text transform="translate(349.40,161.82) scale(1,1.080)" text-anchor="end" class="tk">0.2</text>
<line x1="350.90" y1="123.94" x2="353.20" y2="123.94" stroke="#333333" stroke-width="1"/>
<text transform="translate(349.40,129.34) scale(1,1.080)" text-anchor="end" class="tk">0.4</text>
<line x1="350.90" y1="91.46" x2="353.20" y2="91.46" stroke="#333333" stroke-width="1"/>
<text transform="translate(349.40,96.86) scale(1,1.080)" text-anchor="end" class="tk">0.6</text>
<line x1="350.90" y1="58.98" x2="353.20" y2="58.98" stroke="#333333" stroke-width="1"/>
<text transform="translate(349.40,64.38) scale(1,1.080)" text-anchor="end" class="tk">0.8</text>
<line x1="350.90" y1="26.50" x2="353.20" y2="26.50" stroke="#333333" stroke-width="1"/>
<text transform="translate(349.40,31.90) scale(1,1.080)" text-anchor="end" class="tk">1.0</text>
<line x1="353.20" y1="188.90" x2="353.20" y2="191.20" stroke="#333333" stroke-width="1"/>
<text transform="translate(353.20,202.85) scale(1,1.080)" text-anchor="middle" class="tk">0.00</text>
<line x1="408.95" y1="188.90" x2="408.95" y2="191.20" stroke="#333333" stroke-width="1"/>
<text transform="translate(408.95,202.85) scale(1,1.080)" text-anchor="middle" class="tk">0.25</text>
<line x1="464.70" y1="188.90" x2="464.70" y2="191.20" stroke="#333333" stroke-width="1"/>
<text transform="translate(464.70,202.85) scale(1,1.080)" text-anchor="middle" class="tk">0.50</text>
<line x1="520.45" y1="188.90" x2="520.45" y2="191.20" stroke="#333333" stroke-width="1"/>
<text transform="translate(520.45,202.85) scale(1,1.080)" text-anchor="middle" class="tk">0.75</text>
<line x1="576.20" y1="188.90" x2="576.20" y2="191.20" stroke="#333333" stroke-width="1"/>
<text transform="translate(576.20,202.85) scale(1,1.080)" text-anchor="middle" class="tk">1.00</text>
<text x="320.00" y="10.30" class="tk">b)</text>
<text x="455.10" y="219.55" class="mt" font-style="italic" font-size="14.2">t</text>
<line x1="460.10" y1="222.75" x2="466.10" y2="209.15" stroke="#000" stroke-width="1.1"/>
<text transform="translate(467.30,219.55) scale(1.4,1)" class="mt" font-style="italic" font-size="15">τ</text>
<g transform="translate(322.40,110.00) rotate(-90)"><text x="0" y="0" text-anchor="middle" class="yl">P<tspan font-size="12.6" dy="2.0">tot</tspan></text></g>
<clipPath id="clipc"><rect x="62.50" y="266.50" width="223.00" height="162.30"/></clipPath>
<g clip-path="url(#clipc)">
<path d="M62.5,428.8 L62.6,428.8 L62.8,428.8 L62.9,428.8 L63.1,428.8 L63.2,428.8 L63.3,428.8 L63.5,428.8 L63.6,428.8 L63.8,428.8 L63.9,428.8 L64.0,428.8 L64.2,428.8 L64.3,428.8 L64.5,428.8 L64.6,428.8 L64.7,428.8 L64.9,428.8 L65.0,428.8 L65.1,428.8 L65.3,428.8 L65.4,428.8 L65.6,428.8 L65.7,428.8 L65.8,428.8 L66.0,428.8 L66.1,428.8 L66.3,428.8 L66.4,428.8 L66.5,428.8 L66.7,428.8 L66.8,428.8 L67.0,428.8 L67.1,428.8 L67.2,428.8 L67.4,428.8 L67.5,428.8 L67.7,428.8 L67.8,428.8 L67.9,428.8 L68.1,428.8 L68.2,428.8 L68.4,428.8 L68.5,428.8 L68.6,428.8 L68.8,428.8 L68.9,428.8 L69.1,428.8 L69.2,428.8 L69.3,428.8 L69.5,428.8 L69.6,428.8 L69.7,428.8 L69.9,428.8 L70.0,428.8 L70.2,428.8 L70.3,428.8 L70.4,428.8 L70.6,428.8 L70.7,428.8 L70.9,428.8 L71.0,428.8 L71.1,428.8 L71.3,428.8 L71.4,428.8 L71.6,428.8 L71.7,428.8 L71.8,428.8 L72.0,428.8 L72.1,428.8 L72.3,428.8 L72.4,428.8 L72.5,428.8 L72.7,428.8 L72.8,428.8 L73.0,428.8 L73.1,428.8 L73.2,428.8 L73.4,428.8 L73.5,428.8 L73.7,428.8 L73.8,428.8 L73.9,428.8 L74.1,428.8 L74.2,428.8 L74.3,428.8 L74.5,428.8 L74.6,428.8 L74.8,428.8 L74.9,428.8 L75.0,428.8 L75.2,428.8 L75.3,428.8 L75.5,428.8 L75.6,428.8 L75.7,428.8 L75.9,428.8 L76.0,428.8 L76.2,428.8 L76.3,428.8 L76.4,428.8 L76.6,428.8 L76.7,428.8 L76.9,428.8 L77.0,428.8 L77.1,428.8 L77.3,428.8 L77.4,428.8 L77.6,428.8 L77.7,428.8 L77.8,428.8 L78.0,428.8 L78.1,428.8 L78.2,428.8 L78.4,428.8 L78.5,428.8 L78.7,428.8 L78.8,428.8 L78.9,428.8 L79.1,428.8 L79.2,428.8 L79.4,428.8 L79.5,428.8 L79.6,428.8 L79.8,428.8 L79.9,428.8 L80.1,428.8 L80.2,428.8 L80.3,428.8 L80.5,428.8 L80.6,428.8 L80.8,428.8 L80.9,428.8 L81.0,428.8 L81.2,428.8 L81.3,428.8 L81.5,428.8 L81.6,428.8 L81.7,428.8 L81.9,428.8 L82.0,428.8 L82.2,428.8 L82.3,428.8 L82.4,428.8 L82.6,428.8 L82.7,428.8 L82.8,428.8 L83.0,428.8 L83.1,428.8 L83.3,428.8 L83.4,428.8 L83.5,428.8 L83.7,428.8 L83.8,428.8 L84.0,428.8 L84.1,428.8 L84.2,428.8 L84.4,428.8 L84.5,428.8 L84.7,428.8 L84.8,428.8 L84.9,428.8 L85.1,428.8 L85.2,428.8 L85.4,428.8 L85.5,428.8 L85.6,428.8 L85.8,428.8 L85.9,428.8 L86.1,428.8 L86.2,428.8 L86.3,428.8 L86.5,428.8 L86.6,428.8 L86.8,428.8 L86.9,428.8 L87.0,428.8 L87.2,428.8 L87.3,428.8 L87.4,428.8 L87.6,428.8 L87.7,428.8 L87.9,428.8 L88.0,428.8 L88.1,428.8 L88.3,428.8 L88.4,428.8 L88.6,428.8 L88.7,428.8 L88.8,428.8 L89.0,428.8 L89.1,428.8 L89.3,428.8 L89.4,428.8 L89.5,428.8 L89.7,428.8 L89.8,428.8 L90.0,428.8 L90.1,428.8 L90.2,428.8 L90.4,428.8 L90.5,428.8 L90.7,428.8 L90.8,428.8 L90.9,428.8 L91.1,428.8 L91.2,428.8 L91.4,428.8 L91.5,428.8 L91.6,428.8 L91.8,428.8 L91.9,428.8 L92.0,428.8 L92.2,428.8 L92.3,428.8 L92.5,428.8 L92.6,428.8 L92.7,428.8 L92.9,428.8 L93.0,428.8 L93.2,428.8 L93.3,428.8 L93.4,428.8 L93.6,428.8 L93.7,428.8 L93.9,428.8 L94.0,428.8 L94.1,428.8 L94.3,428.8 L94.4,428.8 L94.6,428.8 L94.7,428.8 L94.8,428.8 L95.0,428.8 L95.1,428.8 L95.3,428.8 L95.4,428.8 L95.5,428.8 L95.7,428.8 L95.8,428.8 L95.9,428.8 L96.1,428.8 L96.2,428.8 L96.4,428.8 L96.5,428.8 L96.6,428.8 L96.8,428.8 L96.9,428.8 L97.1,428.8 L97.2,428.8 L97.3,428.8 L97.5,428.8 L97.6,428.8 L97.8,428.8 L97.9,428.8 L98.0,428.8 L98.2,428.8 L98.3,428.8 L98.5,428.8 L98.6,428.8 L98.7,428.8 L98.9,428.8 L99.0,428.8 L99.2,428.8 L99.3,428.8 L99.4,428.8 L99.6,428.8 L99.7,428.8 L99.9,428.8 L100.0,428.8 L100.1,428.8 L100.3,428.8 L100.4,428.8 L100.5,428.8 L100.7,428.8 L100.8,428.8 L101.0,428.8 L101.1,428.8 L101.2,428.7 L101.4,428.7 L101.5,428.7 L101.7,428.7 L101.8,428.7 L101.9,428.7 L102.1,428.7 L102.2,428.7 L102.4,428.7 L102.5,428.7 L102.6,428.7 L102.8,428.7 L102.9,428.7 L103.1,428.7 L103.2,428.7 L103.3,428.7 L103.5,428.7 L103.6,428.7 L103.8,428.7 L103.9,428.7 L104.0,428.7 L104.2,428.7 L104.3,428.7 L104.5,428.7 L104.6,428.7 L104.7,428.7 L104.9,428.7 L105.0,428.7 L105.1,428.7 L105.3,428.7 L105.4,428.7 L105.6,428.7 L105.7,428.7 L105.8,428.7 L106.0,428.7 L106.1,428.7 L106.3,428.7 L106.4,428.7 L106.5,428.7 L106.7,428.7 L106.8,428.7 L107.0,428.7 L107.1,428.7 L107.2,428.7 L107.4,428.7 L107.5,428.7 L107.7,428.7 L107.8,428.7 L107.9,428.7 L108.1,428.7 L108.2,428.7 L108.4,428.7 L108.5,428.7 L108.6,428.7 L108.8,428.7 L108.9,428.7 L109.1,428.7 L109.2,428.7 L109.3,428.7 L109.5,428.7 L109.6,428.7 L109.7,428.7 L109.9,428.7 L110.0,428.7 L110.2,428.6 L110.3,428.6 L110.4,428.6 L110.6,428.6 L110.7,428.6 L110.9,428.6 L111.0,428.6 L111.1,428.6 L111.3,428.6 L111.4,428.6 L111.6,428.6 L111.7,428.6 L111.8,428.6 L112.0,428.6 L112.1,428.6 L112.3,428.6 L112.4,428.6 L112.5,428.6 L112.7,428.6 L112.8,428.6 L113.0,428.6 L113.1,428.6 L113.2,428.6 L113.4,428.6 L113.5,428.6 L113.7,428.6 L113.8,428.6 L113.9,428.6 L114.1,428.6 L114.2,428.6 L114.3,428.6 L114.5,428.6 L114.6,428.6 L114.8,428.5 L114.9,428.5 L115.0,428.5 L115.2,428.5 L115.3,428.5 L115.5,428.5 L115.6,428.5 L115.7,428.5 L115.9,428.5 L116.0,428.5 L116.2,428.5 L116.3,428.5 L116.4,428.5 L116.6,428.5 L116.7,428.5 L116.9,428.5 L117.0,428.5 L117.1,428.5 L117.3,428.5 L117.4,428.5 L117.6,428.5 L117.7,428.5 L117.8,428.4 L118.0,428.4 L118.1,428.4 L118.2,428.4 L118.4,428.4 L118.5,428.4 L118.7,428.4 L118.8,428.4 L118.9,428.4 L119.1,428.4 L119.2,428.4 L119.4,428.4 L119.5,428.4 L119.6,428.4 L119.8,428.4 L119.9,428.4 L120.1,428.4 L120.2,428.4 L120.3,428.3 L120.5,428.3 L120.6,428.3 L120.8,428.3 L120.9,428.3 L121.0,428.3 L121.2,428.3 L121.3,428.3 L121.5,428.3 L121.6,428.3 L121.7,428.3 L121.9,428.3 L122.0,428.3 L122.2,428.3 L122.3,428.3 L122.4,428.2 L122.6,428.2 L122.7,428.2 L122.8,428.2 L123.0,428.2 L123.1,428.2 L123.3,428.2 L123.4,428.2 L123.5,428.2 L123.7,428.2 L123.8,428.2 L124.0,428.2 L124.1,428.1 L124.2,428.1 L124.4,428.1 L124.5,428.1 L124.7,428.1 L124.8,428.1 L124.9,428.1 L125.1,428.1 L125.2,428.1 L125.4,428.1 L125.5,428.1 L125.6,428.0 L125.8,428.0 L125.9,428.0 L126.1,428.0 L126.2,428.0 L126.3,428.0 L126.5,428.0 L126.6,428.0 L126.8,428.0 L126.9,428.0 L127.0,427.9 L127.2,427.9 L127.3,427.9 L127.4,427.9 L127.6,427.9 L127.7,427.9 L127.9,427.9 L128.0,427.9 L128.1,427.9 L128.3,427.8 L128.4,427.8 L128.6,427.8 L128.7,427.8 L128.8,427.8 L129.0,427.8 L129.1,427.8 L129.3,427.8 L129.4,427.7 L129.5,427.7 L129.7,427.7 L129.8,427.7 L130.0,427.7 L130.1,427.7 L130.2,427.7 L130.4,427.6 L130.5,427.6 L130.7,427.6 L130.8,427.6 L130.9,427.6 L131.1,427.6 L131.2,427.6 L131.4,427.5 L131.5,427.5 L131.6,427.5 L131.8,427.5 L131.9,427.5 L132.0,427.5 L132.2,427.5 L132.3,427.4 L132.5,427.4 L132.6,427.4 L132.7,427.4 L132.9,427.4 L133.0,427.4 L133.2,427.3 L133.3,427.3 L133.4,427.3 L133.6,427.3 L133.7,427.3 L133.9,427.3 L134.0,427.2 L134.1,427.2 L134.3,427.2 L134.4,427.2 L134.6,427.2 L134.7,427.2 L134.8,427.1 L135.0,427.1 L135.1,427.1 L135.3,427.1 L135.4,427.1 L135.5,427.0 L135.7,427.0 L135.8,427.0 L136.0,427.0 L136.1,427.0 L136.2,426.9 L136.4,426.9 L136.5,426.9 L136.6,426.9 L136.8,426.9 L136.9,426.8 L137.1,426.8 L137.2,426.8 L137.3,426.8 L137.5,426.8 L137.6,426.7 L137.8,426.7 L137.9,426.7 L138.0,426.7 L138.2,426.7 L138.3,426.6 L138.5,426.6 L138.6,426.6 L138.7,426.6 L138.9,426.5 L139.0,426.5 L139.2,426.5 L139.3,426.5 L139.4,426.4 L139.6,426.4 L139.7,426.4 L139.9,426.4 L140.0,426.3 L140.1,426.3 L140.3,426.3 L140.4,426.3 L140.6,426.2 L140.7,426.2 L140.8,426.2 L141.0,426.2 L141.1,426.1 L141.2,426.1 L141.4,426.1 L141.5,426.1 L141.7,426.0 L141.8,426.0 L141.9,426.0 L142.1,426.0 L142.2,425.9 L142.4,425.9 L142.5,425.9 L142.6,425.8 L142.8,425.8 L142.9,425.8 L143.1,425.8 L143.2,425.7 L143.3,425.7 L143.5,425.7 L143.6,425.6 L143.8,425.6 L143.9,425.6 L144.0,425.6 L144.2,425.5 L144.3,425.5 L144.5,425.5 L144.6,425.4 L144.7,425.4 L144.9,425.4 L145.0,425.3 L145.1,425.3 L145.3,425.3 L145.4,425.2 L145.6,425.2 L145.7,425.2 L145.8,425.1 L146.0,425.1 L146.1,425.1 L146.3,425.0 L146.4,425.0 L146.5,425.0 L146.7,424.9 L146.8,424.9 L147.0,424.9 L147.1,424.8 L147.2,424.8 L147.4,424.8 L147.5,424.7 L147.7,424.7 L147.8,424.7 L147.9,424.6 L148.1,424.6 L148.2,424.6 L148.4,424.5 L148.5,424.5 L148.6,424.5 L148.8,424.4 L148.9,424.4 L149.1,424.3 L149.2,424.3 L149.3,424.3 L149.5,424.2 L149.6,424.2 L149.7,424.2 L149.9,424.1 L150.0,424.1 L150.2,424.0 L150.3,424.0 L150.4,424.0 L150.6,423.9 L150.7,423.9 L150.9,423.8 L151.0,423.8 L151.1,423.8 L151.3,423.7 L151.4,423.7 L151.6,423.6 L151.7,423.6 L151.8,423.6 L152.0,423.5 L152.1,423.5 L152.3,423.4 L152.4,423.4 L152.5,423.4 L152.7,423.3 L152.8,423.3 L153.0,423.2 L153.1,423.2 L153.2,423.1 L153.4,423.1 L153.5,423.1 L153.7,423.0 L153.8,423.0 L153.9,422.9 L154.1,422.9 L154.2,422.8 L154.3,422.8 L154.5,422.7 L154.6,422.7 L154.8,422.7 L154.9,422.6 L155.0,422.6 L155.2,422.5 L155.3,422.5 L155.5,422.4 L155.6,422.4 L155.7,422.3 L155.9,422.3 L156.0,422.2 L156.2,422.2 L156.3,422.2 L156.4,422.1 L156.6,422.1 L156.7,422.0 L156.9,422.0 L157.0,421.9 L157.1,421.9 L157.3,421.8 L157.4,421.8 L157.6,421.7 L157.7,421.7 L157.8,421.6 L158.0,421.6 L158.1,421.5 L158.3,421.5 L158.4,421.4 L158.5,421.4 L158.7,421.3 L158.8,421.3 L158.9,421.2 L159.1,421.2 L159.2,421.1 L159.4,421.1 L159.5,421.0 L159.6,421.0 L159.8,420.9 L159.9,420.9 L160.1,420.8 L160.2,420.8 L160.3,420.7 L160.5,420.7 L160.6,420.6 L160.8,420.6 L160.9,420.5 L161.0,420.5 L161.2,420.4 L161.3,420.4 L161.5,420.3 L161.6,420.3 L161.7,420.2 L161.9,420.2 L162.0,420.1 L162.2,420.1 L162.3,420.0 L162.4,420.0 L162.6,419.9 L162.7,419.8 L162.9,419.8 L163.0,419.7 L163.1,419.7 L163.3,419.6 L163.4,419.6 L163.5,419.5 L163.7,419.5 L163.8,419.4 L164.0,419.4 L164.1,419.3 L164.2,419.3 L164.4,419.2 L164.5,419.1 L164.7,419.1 L164.8,419.0 L164.9,419.0 L165.1,418.9 L165.2,418.9 L165.4,418.8 L165.5,418.8 L165.6,418.7 L165.8,418.6 L165.9,418.6 L166.1,418.5 L166.2,418.5 L166.3,418.4 L166.5,418.4 L166.6,418.3 L166.8,418.3 L166.9,418.2 L167.0,418.1 L167.2,418.1 L167.3,418.0 L167.4,418.0 L167.6,417.9 L167.7,417.9 L167.9,417.8 L168.0,417.8 L168.1,417.7 L168.3,417.6 L168.4,417.6 L168.6,417.5 L168.7,417.5 L168.8,417.4 L169.0,417.4 L169.1,417.3 L169.3,417.2 L169.4,417.2 L169.5,417.1 L169.7,417.1 L169.8,417.0 L170.0,417.0 L170.1,416.9 L170.2,416.8 L170.4,416.8 L170.5,416.7 L170.7,416.7 L170.8,416.6 L170.9,416.6 L171.1,416.5 L171.2,416.4 L171.4,416.4 L171.5,416.3 L171.6,416.3 L171.8,416.2 L171.9,416.2 L172.0,416.1 L172.2,416.1 L172.3,416.0 L172.5,415.9 L172.6,415.9 L172.7,415.8 L172.9,415.8 L173.0,415.7 L173.2,415.7 L173.3,415.6 L173.4,415.5 L173.6,415.5 L173.7,415.4 L173.9,415.4 L174.0,415.3 L174.1,415.3 L174.3,415.2 L174.4,415.1 L174.6,415.1 L174.7,415.0 L174.8,415.0 L175.0,414.9 L175.1,414.9 L175.3,414.8 L175.4,414.7 L175.5,414.7 L175.7,414.6 L175.8,414.6 L176.0,414.5 L176.1,414.5 L176.2,414.4 L176.4,414.4 L176.5,414.3 L176.6,414.2 L176.8,414.2 L176.9,414.1 L177.1,414.1 L177.2,414.0 L177.3,414.0 L177.5,413.9 L177.6,413.8 L177.8,413.8 L177.9,413.7 L178.0,413.7 L178.2,413.6 L178.3,413.6 L178.5,413.5 L178.6,413.5 L178.7,413.4 L178.9,413.4 L179.0,413.3 L179.2,413.2 L179.3,413.2 L179.4,413.1 L179.6,413.1 L179.7,413.0 L179.9,413.0 L180.0,412.9 L180.1,412.9 L180.3,412.8 L180.4,412.8 L180.6,412.7 L180.7,412.7 L180.8,412.6 L181.0,412.5 L181.1,412.5 L181.2,412.4 L181.4,412.4 L181.5,412.3 L181.7,412.3 L181.8,412.2 L181.9,412.2 L182.1,412.1 L182.2,412.1 L182.4,412.0 L182.5,412.0 L182.6,411.9 L182.8,411.9 L182.9,411.8 L183.1,411.8 L183.2,411.7 L183.3,411.7 L183.5,411.6 L183.6,411.6 L183.8,411.5 L183.9,411.5 L184.0,411.4 L184.2,411.4 L184.3,411.3 L184.5,411.3 L184.6,411.2 L184.7,411.2 L184.9,411.1 L185.0,411.1 L185.2,411.0 L185.3,411.0 L185.4,410.9 L185.6,410.9 L185.7,410.8 L185.8,410.8 L186.0,410.7 L186.1,410.7 L186.3,410.6 L186.4,410.6 L186.5,410.5 L186.7,410.5 L186.8,410.4 L187.0,410.4 L187.1,410.3 L187.2,410.3 L187.4,410.2 L187.5,410.2 L187.7,410.1 L187.8,410.1 L187.9,410.1 L188.1,410.0 L188.2,410.0 L188.4,409.9 L188.5,409.9 L188.6,409.8 L188.8,409.8 L188.9,409.7 L189.1,409.7 L189.2,409.7 L189.3,409.6 L189.5,409.6 L189.6,409.5 L189.7,409.5 L189.9,409.4 L190.0,409.4 L190.2,409.3 L190.3,409.3 L190.4,409.3 L190.6,409.2 L190.7,409.2 L190.9,409.1 L191.0,409.1 L191.1,409.0 L191.3,409.0 L191.4,409.0 L191.6,408.9 L191.7,408.9 L191.8,408.8 L192.0,408.8 L192.1,408.8 L192.3,408.7 L192.4,408.7 L192.5,408.6 L192.7,408.6 L192.8,408.6 L193.0,408.5 L193.1,408.5 L193.2,408.4 L193.4,408.4 L193.5,408.4 L193.7,408.3 L193.8,408.3 L193.9,408.3 L194.1,408.2 L194.2,408.2 L194.3,408.1 L194.5,408.1 L194.6,408.1 L194.8,408.0 L194.9,408.0 L195.0,408.0 L195.2,407.9 L195.3,407.9 L195.5,407.8 L195.6,407.8 L195.7,407.8 L195.9,407.7 L196.0,407.7 L196.2,407.7 L196.3,407.6 L196.4,407.6 L196.6,407.6 L196.7,407.5 L196.9,407.5 L197.0,407.5 L197.1,407.4 L197.3,407.4 L197.4,407.4 L197.6,407.3 L197.7,407.3 L197.8,407.3 L198.0,407.2 L198.1,407.2 L198.3,407.2 L198.4,407.1 L198.5,407.1 L198.7,407.1 L198.8,407.0 L198.9,407.0 L199.1,407.0 L199.2,407.0 L199.4,406.9 L199.5,406.9 L199.6,406.9 L199.8,406.8 L199.9,406.8 L200.1,406.8 L200.2,406.7 L200.3,406.7 L200.5,406.7 L200.6,406.7 L200.8,406.6 L200.9,406.6 L201.0,406.6 L201.2,406.5 L201.3,406.5 L201.5,406.5 L201.6,406.5 L201.7,406.4 L201.9,406.4 L202.0,406.4 L202.2,406.4 L202.3,406.3 L202.4,406.3 L202.6,406.3 L202.7,406.2 L202.9,406.2 L203.0,406.2 L203.1,406.2 L203.3,406.1 L203.4,406.1 L203.5,406.1 L203.7,406.1 L203.8,406.0 L204.0,406.0 L204.1,406.0 L204.2,406.0 L204.4,406.0 L204.5,405.9 L204.7,405.9 L204.8,405.9 L204.9,405.9 L205.1,405.8 L205.2,405.8 L205.4,405.8 L205.5,405.8 L205.6,405.7 L205.8,405.7 L205.9,405.7 L206.1,405.7 L206.2,405.7 L206.3,405.6 L206.5,405.6 L206.6,405.6 L206.8,405.6 L206.9,405.6 L207.0,405.5 L207.2,405.5 L207.3,405.5 L207.5,405.5 L207.6,405.5 L207.7,405.4 L207.9,405.4 L208.0,405.4 L208.1,405.4 L208.3,405.4 L208.4,405.3 L208.6,405.3 L208.7,405.3 L208.8,405.3 L209.0,405.3 L209.1,405.3 L209.3,405.2 L209.4,405.2 L209.5,405.2 L209.7,405.2 L209.8,405.2 L210.0,405.1 L210.1,405.1 L210.2,405.1 L210.4,405.1 L210.5,405.1 L210.7,405.1 L210.8,405.0 L210.9,405.0 L211.1,405.0 L211.2,405.0 L211.4,405.0 L211.5,405.0 L211.6,405.0 L211.8,404.9 L211.9,404.9 L212.0,404.9 L212.2,404.9 L212.3,404.9 L212.5,404.9 L212.6,404.9 L212.7,404.8 L212.9,404.8 L213.0,404.8 L213.2,404.8 L213.3,404.8 L213.4,404.8 L213.6,404.8 L213.7,404.7 L213.9,404.7 L214.0,404.7 L214.1,404.7 L214.3,404.7 L214.4,404.7 L214.6,404.7 L214.7,404.7 L214.8,404.6 L215.0,404.6 L215.1,404.6 L215.3,404.6 L215.4,404.6 L215.5,404.6 L215.7,404.6 L215.8,404.6 L216.0,404.5 L216.1,404.5 L216.2,404.5 L216.4,404.5 L216.5,404.5 L216.6,404.5 L216.8,404.5 L216.9,404.5 L217.1,404.5 L217.2,404.4 L217.3,404.4 L217.5,404.4 L217.6,404.4 L217.8,404.4 L217.9,404.4 L218.0,404.4 L218.2,404.4 L218.3,404.4 L218.5,404.4 L218.6,404.4 L218.7,404.3 L218.9,404.3 L219.0,404.3 L219.2,404.3 L219.3,404.3 L219.4,404.3 L219.6,404.3 L219.7,404.3 L219.9,404.3 L220.0,404.3 L220.1,404.3 L220.3,404.2 L220.4,404.2 L220.6,404.2 L220.7,404.2 L220.8,404.2 L221.0,404.2 L221.1,404.2 L221.2,404.2 L221.4,404.2 L221.5,404.2 L221.7,404.2 L221.8,404.2 L221.9,404.2 L222.1,404.1 L222.2,404.1 L222.4,404.1 L222.5,404.1 L222.6,404.1 L222.8,404.1 L222.9,404.1 L223.1,404.1 L223.2,404.1 L223.3,404.1 L223.5,404.1 L223.6,404.1 L223.8,404.1 L223.9,404.1 L224.0,404.1 L224.2,404.1 L224.3,404.0 L224.5,404.0 L224.6,404.0 L224.7,404.0 L224.9,404.0 L225.0,404.0 L225.2,404.0 L225.3,404.0 L225.4,404.0 L225.6,404.0 L225.7,404.0 L225.8,404.0 L226.0,404.0 L226.1,404.0 L226.3,404.0 L226.4,404.0 L226.5,404.0 L226.7,404.0 L226.8,404.0 L227.0,404.0 L227.1,403.9 L227.2,403.9 L227.4,403.9 L227.5,403.9 L227.7,403.9 L227.8,403.9 L227.9,403.9 L228.1,403.9 L228.2,403.9 L228.4,403.9 L228.5,403.9 L228.6,403.9 L228.8,403.9 L228.9,403.9 L229.1,403.9 L229.2,403.9 L229.3,403.9 L229.5,403.9 L229.6,403.9 L229.8,403.9 L229.9,403.9 L230.0,403.9 L230.2,403.9 L230.3,403.9 L230.4,403.9 L230.6,403.9 L230.7,403.8 L230.9,403.8 L231.0,403.8 L231.1,403.8 L231.3,403.8 L231.4,403.8 L231.6,403.8 L231.7,403.8 L231.8,403.8 L232.0,403.8 L232.1,403.8 L232.3,403.8 L232.4,403.8 L232.5,403.8 L232.7,403.8 L232.8,403.8 L233.0,403.8 L233.1,403.8 L233.2,403.8 L233.4,403.8 L233.5,403.8 L233.7,403.8 L233.8,403.8 L233.9,403.8 L234.1,403.8 L234.2,403.8 L234.3,403.8 L234.5,403.8 L234.6,403.8 L234.8,403.8 L234.9,403.8 L235.0,403.8 L235.2,403.8 L235.3,403.8 L235.5,403.8 L235.6,403.8 L235.7,403.8 L235.9,403.8 L236.0,403.8 L236.2,403.8 L236.3,403.8 L236.4,403.7 L236.6,403.7 L236.7,403.7 L236.9,403.7 L237.0,403.7 L237.1,403.7 L237.3,403.7 L237.4,403.7 L237.6,403.7 L237.7,403.7 L237.8,403.7 L238.0,403.7 L238.1,403.7 L238.3,403.7 L238.4,403.7 L238.5,403.7 L238.7,403.7 L238.8,403.7 L238.9,403.7 L239.1,403.7 L239.2,403.7 L239.4,403.7 L239.5,403.7 L239.6,403.7 L239.8,403.7 L239.9,403.7 L240.1,403.7 L240.2,403.7 L240.3,403.7 L240.5,403.7 L240.6,403.7 L240.8,403.7 L240.9,403.7 L241.0,403.7 L241.2,403.7 L241.3,403.7 L241.5,403.7 L241.6,403.7 L241.7,403.7 L241.9,403.7 L242.0,403.7 L242.2,403.7 L242.3,403.7 L242.4,403.7 L242.6,403.7 L242.7,403.7 L242.9,403.7 L243.0,403.7 L243.1,403.7 L243.3,403.7 L243.4,403.7 L243.5,403.7 L243.7,403.7 L243.8,403.7 L244.0,403.7 L244.1,403.7 L244.2,403.7 L244.4,403.7 L244.5,403.7 L244.7,403.7 L244.8,403.7 L244.9,403.7 L245.1,403.7 L245.2,403.7 L245.4,403.7 L245.5,403.7 L245.6,403.7 L245.8,403.7 L245.9,403.7 L246.1,403.7 L246.2,403.7 L246.3,403.7 L246.5,403.7 L246.6,403.7 L246.8,403.7 L246.9,403.7 L247.0,403.7 L247.2,403.7 L247.3,403.7 L247.5,403.7 L247.6,403.7 L247.7,403.7 L247.9,403.7 L248.0,403.7 L248.1,403.7 L248.3,403.7 L248.4,403.7 L248.6,403.7 L248.7,403.7 L248.8,403.7 L249.0,403.7 L249.1,403.7 L249.3,403.7 L249.4,403.7 L249.5,403.7 L249.7,403.7 L249.8,403.7 L250.0,403.7 L250.1,403.7 L250.2,403.7 L250.4,403.7 L250.5,403.7 L250.7,403.7 L250.8,403.7 L250.9,403.7 L251.1,403.7 L251.2,403.7 L251.4,403.7 L251.5,403.7 L251.6,403.7 L251.8,403.7 L251.9,403.7 L252.0,403.7 L252.2,403.7 L252.3,403.7 L252.5,403.7 L252.6,403.7 L252.7,403.7 L252.9,403.7 L253.0,403.7 L253.2,403.7 L253.3,403.7 L253.4,403.7 L253.6,403.7 L253.7,403.7 L253.9,403.7 L254.0,403.7 L254.1,403.7 L254.3,403.7 L254.4,403.7 L254.6,403.7 L254.7,403.7 L254.8,403.7 L255.0,403.7 L255.1,403.7 L255.3,403.7 L255.4,403.7 L255.5,403.7 L255.7,403.7 L255.8,403.7 L256.0,403.7 L256.1,403.7 L256.2,403.7 L256.4,403.7 L256.5,403.7 L256.6,403.7 L256.8,403.7 L256.9,403.7 L257.1,403.6 L257.2,403.6 L257.3,403.6 L257.5,403.6 L257.6,403.6 L257.8,403.6 L257.9,403.6 L258.0,403.6 L258.2,403.6 L258.3,403.6 L258.5,403.6 L258.6,403.6 L258.7,403.6 L258.9,403.6 L259.0,403.6 L259.2,403.6 L259.3,403.6 L259.4,403.6 L259.6,403.6 L259.7,403.6 L259.9,403.6 L260.0,403.6 L260.1,403.6 L260.3,403.6 L260.4,403.6 L260.6,403.6 L260.7,403.6 L260.8,403.6 L261.0,403.6 L261.1,403.6 L261.2,403.6 L261.4,403.6 L261.5,403.6 L261.7,403.6 L261.8,403.6 L261.9,403.6 L262.1,403.6 L262.2,403.6 L262.4,403.6 L262.5,403.6 L262.6,403.6 L262.8,403.6 L262.9,403.6 L263.1,403.6 L263.2,403.6 L263.3,403.6 L263.5,403.6 L263.6,403.6 L263.8,403.6 L263.9,403.6 L264.0,403.6 L264.2,403.6 L264.3,403.6 L264.5,403.6 L264.6,403.6 L264.7,403.6 L264.9,403.6 L265.0,403.6 L265.2,403.6 L265.3,403.6 L265.4,403.6 L265.6,403.6 L265.7,403.6 L265.8,403.6 L266.0,403.6 L266.1,403.6 L266.3,403.6 L266.4,403.6 L266.5,403.6 L266.7,403.6 L266.8,403.6 L267.0,403.6 L267.1,403.6 L267.2,403.6 L267.4,403.6 L267.5,403.6 L267.7,403.6 L267.8,403.6 L267.9,403.6 L268.1,403.6 L268.2,403.6 L268.4,403.6 L268.5,403.6 L268.6,403.6 L268.8,403.6 L268.9,403.6 L269.1,403.6 L269.2,403.6 L269.3,403.6 L269.5,403.6 L269.6,403.6 L269.8,403.6 L269.9,403.6 L270.0,403.6 L270.2,403.6 L270.3,403.6 L270.4,403.6 L270.6,403.6 L270.7,403.6 L270.9,403.6 L271.0,403.6 L271.1,403.6 L271.3,403.6 L271.4,403.6 L271.6,403.6 L271.7,403.6 L271.8,403.6 L272.0,403.6 L272.1,403.6 L272.3,403.6 L272.4,403.6 L272.5,403.6 L272.7,403.6 L272.8,403.6 L273.0,403.6 L273.1,403.6 L273.2,403.6 L273.4,403.6 L273.5,403.6 L273.7,403.6 L273.8,403.6 L273.9,403.6 L274.1,403.6 L274.2,403.6 L274.4,403.6 L274.5,403.6 L274.6,403.6 L274.8,403.6 L274.9,403.6 L275.0,403.6 L275.2,403.6 L275.3,403.6 L275.5,403.6 L275.6,403.6 L275.7,403.6 L275.9,403.6 L276.0,403.6 L276.2,403.6 L276.3,403.6 L276.4,403.6 L276.6,403.6 L276.7,403.6 L276.9,403.6 L277.0,403.6 L277.1,403.6 L277.3,403.6 L277.4,403.6 L277.6,403.6 L277.7,403.6 L277.8,403.6 L278.0,403.6 L278.1,403.6 L278.3,403.6 L278.4,403.6 L278.5,403.6 L278.7,403.6 L278.8,403.6 L278.9,403.6 L279.1,403.6 L279.2,403.6 L279.4,403.6 L279.5,403.6 L279.6,403.6 L279.8,403.6 L279.9,403.6 L280.1,403.6 L280.2,403.6 L280.3,403.6 L280.5,403.6 L280.6,403.6 L280.8,403.6 L280.9,403.6 L281.0,403.6 L281.2,403.6 L281.3,403.6 L281.5,403.6 L281.6,403.6 L281.7,403.6 L281.9,403.6 L282.0,403.6 L282.2,403.6 L282.3,403.6 L282.4,403.6 L282.6,403.6 L282.7,403.6 L282.9,403.6 L283.0,403.6 L283.1,403.6 L283.3,403.6 L283.4,403.6 L283.5,403.6 L283.7,403.6 L283.8,403.6 L284.0,403.6 L284.1,403.6 L284.2,403.6 L284.4,403.6 L284.5,403.6 L284.7,403.6 L284.8,403.6 L284.9,403.6 L285.1,403.6 L285.2,403.6 L285.4,403.6 L285.5,403.6" fill="none" stroke="#3f6fb5" stroke-width="1.50" stroke-linejoin="round"/>
<circle cx="65.29" cy="428.80" r="2.50" fill="#3f6fb5"/>
<circle cx="70.86" cy="428.80" r="2.50" fill="#3f6fb5"/>
<circle cx="76.44" cy="428.80" r="2.50" fill="#3f6fb5"/>
<circle cx="82.01" cy="428.80" r="2.50" fill="#3f6fb5"/>
<circle cx="87.59" cy="428.79" r="2.50" fill="#3f6fb5"/>
<circle cx="93.16" cy="428.78" r="2.50" fill="#3f6fb5"/>
<circle cx="98.74" cy="428.76" r="2.50" fill="#3f6fb5"/>
<circle cx="104.31" cy="428.73" r="2.50" fill="#3f6fb5"/>
<circle cx="109.89" cy="428.65" r="2.50" fill="#3f6fb5"/>
<circle cx="115.46" cy="428.53" r="2.50" fill="#3f6fb5"/>
<circle cx="121.04" cy="428.31" r="2.50" fill="#3f6fb5"/>
<circle cx="126.61" cy="427.97" r="2.50" fill="#3f6fb5"/>
<circle cx="132.19" cy="427.46" r="2.50" fill="#3f6fb5"/>
<circle cx="137.76" cy="426.72" r="2.50" fill="#3f6fb5"/>
<circle cx="143.34" cy="425.70" r="2.50" fill="#3f6fb5"/>
<circle cx="148.91" cy="424.38" r="2.50" fill="#3f6fb5"/>
<circle cx="154.49" cy="422.75" r="2.50" fill="#3f6fb5"/>
<circle cx="160.06" cy="420.84" r="2.50" fill="#3f6fb5"/>
<circle cx="165.64" cy="418.70" r="2.50" fill="#3f6fb5"/>
<circle cx="171.21" cy="416.45" r="2.50" fill="#3f6fb5"/>
<circle cx="176.79" cy="414.18" r="2.50" fill="#3f6fb5"/>
<circle cx="182.36" cy="412.02" r="2.50" fill="#3f6fb5"/>
<circle cx="187.94" cy="410.06" r="2.50" fill="#3f6fb5"/>
<circle cx="193.51" cy="408.37" r="2.50" fill="#3f6fb5"/>
<circle cx="199.09" cy="406.98" r="2.50" fill="#3f6fb5"/>
<circle cx="204.66" cy="405.91" r="2.50" fill="#3f6fb5"/>
<circle cx="210.24" cy="405.11" r="2.50" fill="#3f6fb5"/>
<circle cx="215.81" cy="404.56" r="2.50" fill="#3f6fb5"/>
<circle cx="221.39" cy="404.19" r="2.50" fill="#3f6fb5"/>
<circle cx="226.96" cy="403.95" r="2.50" fill="#3f6fb5"/>
<circle cx="232.54" cy="403.81" r="2.50" fill="#3f6fb5"/>
<circle cx="238.11" cy="403.73" r="2.50" fill="#3f6fb5"/>
<circle cx="243.69" cy="403.69" r="2.50" fill="#3f6fb5"/>
<circle cx="249.26" cy="403.66" r="2.50" fill="#3f6fb5"/>
<circle cx="254.84" cy="403.65" r="2.50" fill="#3f6fb5"/>
<circle cx="260.41" cy="403.65" r="2.50" fill="#3f6fb5"/>
<circle cx="265.99" cy="403.65" r="2.50" fill="#3f6fb5"/>
<circle cx="271.56" cy="403.64" r="2.50" fill="#3f6fb5"/>
<circle cx="277.14" cy="403.64" r="2.50" fill="#3f6fb5"/>
<circle cx="282.71" cy="403.64" r="2.50" fill="#3f6fb5"/>
<path d="M62.5,428.8 L62.6,428.8 L62.8,428.8 L62.9,428.8 L63.1,428.8 L63.2,428.8 L63.3,428.8 L63.5,428.8 L63.6,428.8 L63.8,428.8 L63.9,428.8 L64.0,428.8 L64.2,428.8 L64.3,428.8 L64.5,428.8 L64.6,428.8 L64.7,428.8 L64.9,428.8 L65.0,428.8 L65.1,428.8 L65.3,428.8 L65.4,428.8 L65.6,428.8 L65.7,428.8 L65.8,428.8 L66.0,428.8 L66.1,428.8 L66.3,428.8 L66.4,428.8 L66.5,428.8 L66.7,428.8 L66.8,428.8 L67.0,428.8 L67.1,428.8 L67.2,428.8 L67.4,428.8 L67.5,428.8 L67.7,428.8 L67.8,428.8 L67.9,428.8 L68.1,428.8 L68.2,428.8 L68.4,428.8 L68.5,428.8 L68.6,428.8 L68.8,428.8 L68.9,428.8 L69.1,428.8 L69.2,428.8 L69.3,428.8 L69.5,428.8 L69.6,428.8 L69.7,428.8 L69.9,428.8 L70.0,428.8 L70.2,428.8 L70.3,428.8 L70.4,428.8 L70.6,428.8 L70.7,428.8 L70.9,428.8 L71.0,428.8 L71.1,428.8 L71.3,428.8 L71.4,428.8 L71.6,428.8 L71.7,428.8 L71.8,428.8 L72.0,428.8 L72.1,428.8 L72.3,428.8 L72.4,428.8 L72.5,428.8 L72.7,428.8 L72.8,428.8 L73.0,428.8 L73.1,428.8 L73.2,428.8 L73.4,428.8 L73.5,428.8 L73.7,428.8 L73.8,428.8 L73.9,428.8 L74.1,428.8 L74.2,428.8 L74.3,428.8 L74.5,428.8 L74.6,428.8 L74.8,428.8 L74.9,428.8 L75.0,428.8 L75.2,428.8 L75.3,428.8 L75.5,428.8 L75.6,428.8 L75.7,428.8 L75.9,428.8 L76.0,428.8 L76.2,428.8 L76.3,428.8 L76.4,428.8 L76.6,428.8 L76.7,428.8 L76.9,428.8 L77.0,428.8 L77.1,428.8 L77.3,428.8 L77.4,428.8 L77.6,428.8 L77.7,428.8 L77.8,428.8 L78.0,428.8 L78.1,428.8 L78.2,428.8 L78.4,428.8 L78.5,428.8 L78.7,428.8 L78.8,428.8 L78.9,428.8 L79.1,428.8 L79.2,428.8 L79.4,428.8 L79.5,428.8 L79.6,428.8 L79.8,428.8 L79.9,428.8 L80.1,428.8 L80.2,428.8 L80.3,428.8 L80.5,428.8 L80.6,428.8 L80.8,428.8 L80.9,428.8 L81.0,428.8 L81.2,428.8 L81.3,428.8 L81.5,428.8 L81.6,428.8 L81.7,428.8 L81.9,428.8 L82.0,428.8 L82.2,428.8 L82.3,428.8 L82.4,428.8 L82.6,428.8 L82.7,428.8 L82.8,428.8 L83.0,428.8 L83.1,428.8 L83.3,428.8 L83.4,428.8 L83.5,428.8 L83.7,428.8 L83.8,428.8 L84.0,428.8 L84.1,428.8 L84.2,428.8 L84.4,428.8 L84.5,428.8 L84.7,428.8 L84.8,428.8 L84.9,428.8 L85.1,428.8 L85.2,428.8 L85.4,428.8 L85.5,428.8 L85.6,428.8 L85.8,428.8 L85.9,428.8 L86.1,428.8 L86.2,428.8 L86.3,428.8 L86.5,428.8 L86.6,428.8 L86.8,428.8 L86.9,428.8 L87.0,428.8 L87.2,428.8 L87.3,428.8 L87.4,428.8 L87.6,428.8 L87.7,428.8 L87.9,428.8 L88.0,428.8 L88.1,428.8 L88.3,428.8 L88.4,428.8 L88.6,428.8 L88.7,428.8 L88.8,428.8 L89.0,428.8 L89.1,428.8 L89.3,428.8 L89.4,428.8 L89.5,428.8 L89.7,428.8 L89.8,428.8 L90.0,428.8 L90.1,428.8 L90.2,428.8 L90.4,428.8 L90.5,428.8 L90.7,428.8 L90.8,428.8 L90.9,428.8 L91.1,428.8 L91.2,428.8 L91.4,428.8 L91.5,428.8 L91.6,428.8 L91.8,428.8 L91.9,428.8 L92.0,428.8 L92.2,428.8 L92.3,428.8 L92.5,428.7 L92.6,428.7 L92.7,428.7 L92.9,428.7 L93.0,428.7 L93.2,428.7 L93.3,428.7 L93.4,428.7 L93.6,428.7 L93.7,428.7 L93.9,428.7 L94.0,428.7 L94.1,428.7 L94.3,428.7 L94.4,428.7 L94.6,428.7 L94.7,428.7 L94.8,428.7 L95.0,428.7 L95.1,428.7 L95.3,428.7 L95.4,428.7 L95.5,428.7 L95.7,428.7 L95.8,428.7 L95.9,428.7 L96.1,428.7 L96.2,428.7 L96.4,428.7 L96.5,428.7 L96.6,428.7 L96.8,428.7 L96.9,428.7 L97.1,428.7 L97.2,428.7 L97.3,428.7 L97.5,428.7 L97.6,428.7 L97.8,428.7 L97.9,428.7 L98.0,428.7 L98.2,428.7 L98.3,428.7 L98.5,428.7 L98.6,428.7 L98.7,428.7 L98.9,428.7 L99.0,428.7 L99.2,428.7 L99.3,428.7 L99.4,428.7 L99.6,428.7 L99.7,428.7 L99.9,428.7 L100.0,428.7 L100.1,428.7 L100.3,428.7 L100.4,428.7 L100.5,428.7 L100.7,428.7 L100.8,428.7 L101.0,428.7 L101.1,428.7 L101.2,428.7 L101.4,428.7 L101.5,428.7 L101.7,428.7 L101.8,428.7 L101.9,428.7 L102.1,428.7 L102.2,428.7 L102.4,428.7 L102.5,428.7 L102.6,428.6 L102.8,428.6 L102.9,428.6 L103.1,428.6 L103.2,428.6 L103.3,428.6 L103.5,428.6 L103.6,428.6 L103.8,428.6 L103.9,428.5 L104.0,428.5 L104.2,428.5 L104.3,428.5 L104.5,428.5 L104.6,428.5 L104.7,428.5 L104.9,428.5 L105.0,428.5 L105.1,428.5 L105.3,428.5 L105.4,428.5 L105.6,428.5 L105.7,428.5 L105.8,428.5 L106.0,428.5 L106.1,428.5 L106.3,428.5 L106.4,428.5 L106.5,428.5 L106.7,428.5 L106.8,428.5 L107.0,428.5 L107.1,428.5 L107.2,428.5 L107.4,428.5 L107.5,428.5 L107.7,428.5 L107.8,428.5 L107.9,428.5 L108.1,428.5 L108.2,428.5 L108.4,428.5 L108.5,428.5 L108.6,428.4 L108.8,428.4 L108.9,428.4 L109.1,428.4 L109.2,428.3 L109.3,428.3 L109.5,428.3 L109.6,428.3 L109.7,428.3 L109.9,428.3 L110.0,428.3 L110.2,428.3 L110.3,428.3 L110.4,428.3 L110.6,428.3 L110.7,428.3 L110.9,428.3 L111.0,428.3 L111.1,428.3 L111.3,428.3 L111.4,428.3 L111.6,428.3 L111.7,428.3 L111.8,428.3 L112.0,428.3 L112.1,428.3 L112.3,428.3 L112.4,428.3 L112.5,428.3 L112.7,428.3 L112.8,428.3 L113.0,428.3 L113.1,428.3 L113.2,428.3 L113.4,428.3 L113.5,428.2 L113.7,428.2 L113.8,428.2 L113.9,428.2 L114.1,428.1 L114.2,428.1 L114.3,428.0 L114.5,428.0 L114.6,428.0 L114.8,427.9 L114.9,427.9 L115.0,427.8 L115.2,427.8 L115.3,427.8 L115.5,427.8 L115.6,427.8 L115.7,427.8 L115.9,427.8 L116.0,427.8 L116.2,427.8 L116.3,427.8 L116.4,427.8 L116.6,427.8 L116.7,427.8 L116.9,427.8 L117.0,427.8 L117.1,427.8 L117.3,427.8 L117.4,427.8 L117.6,427.8 L117.7,427.8 L117.8,427.8 L118.0,427.8 L118.1,427.8 L118.2,427.8 L118.4,427.8 L118.5,427.8 L118.7,427.8 L118.8,427.8 L118.9,427.8 L119.1,427.7 L119.2,427.7 L119.4,427.7 L119.5,427.6 L119.6,427.6 L119.8,427.5 L119.9,427.4 L120.1,427.3 L120.2,427.3 L120.3,427.2 L120.5,427.1 L120.6,427.1 L120.8,427.0 L120.9,427.0 L121.0,427.0 L121.2,427.0 L121.3,427.0 L121.5,427.0 L121.6,427.0 L121.7,427.0 L121.9,427.0 L122.0,427.0 L122.2,427.0 L122.3,427.0 L122.4,427.0 L122.6,427.0 L122.7,427.0 L122.8,427.0 L123.0,427.0 L123.1,427.0 L123.3,427.0 L123.4,427.0 L123.5,427.0 L123.7,427.0 L123.8,427.0 L124.0,427.0 L124.1,427.0 L124.2,427.0 L124.4,427.0 L124.5,426.9 L124.7,426.9 L124.8,426.9 L124.9,426.8 L125.1,426.7 L125.2,426.6 L125.4,426.5 L125.5,426.4 L125.6,426.2 L125.8,426.1 L125.9,426.0 L126.1,425.9 L126.2,425.8 L126.3,425.7 L126.5,425.7 L126.6,425.6 L126.8,425.6 L126.9,425.6 L127.0,425.6 L127.2,425.6 L127.3,425.6 L127.4,425.6 L127.6,425.6 L127.7,425.6 L127.9,425.6 L128.0,425.6 L128.1,425.6 L128.3,425.6 L128.4,425.6 L128.6,425.6 L128.7,425.6 L128.8,425.6 L129.0,425.6 L129.1,425.6 L129.3,425.6 L129.4,425.6 L129.5,425.6 L129.7,425.6 L129.8,425.6 L130.0,425.6 L130.1,425.6 L130.2,425.6 L130.4,425.5 L130.5,425.4 L130.7,425.2 L130.8,425.1 L130.9,424.9 L131.1,424.7 L131.2,424.5 L131.4,424.4 L131.5,424.2 L131.6,424.0 L131.8,423.8 L131.9,423.7 L132.0,423.7 L132.2,423.6 L132.3,423.6 L132.5,423.6 L132.6,423.6 L132.7,423.6 L132.9,423.6 L133.0,423.6 L133.2,423.6 L133.3,423.6 L133.4,423.6 L133.6,423.6 L133.7,423.6 L133.9,423.6 L134.0,423.6 L134.1,423.6 L134.3,423.6 L134.4,423.6 L134.6,423.6 L134.7,423.6 L134.8,423.6 L135.0,423.6 L135.1,423.6 L135.3,423.6 L135.4,423.6 L135.5,423.6 L135.7,423.6 L135.8,423.5 L136.0,423.4 L136.1,423.2 L136.2,423.0 L136.4,422.8 L136.5,422.6 L136.6,422.3 L136.8,422.0 L136.9,421.7 L137.1,421.5 L137.2,421.2 L137.3,421.0 L137.5,420.8 L137.6,420.7 L137.8,420.7 L137.9,420.7 L138.0,420.7 L138.2,420.7 L138.3,420.7 L138.5,420.7 L138.6,420.7 L138.7,420.7 L138.9,420.7 L139.0,420.7 L139.2,420.7 L139.3,420.7 L139.4,420.7 L139.6,420.7 L139.7,420.7 L139.9,420.7 L140.0,420.7 L140.1,420.7 L140.3,420.7 L140.4,420.7 L140.6,420.7 L140.7,420.7 L140.8,420.7 L141.0,420.7 L141.1,420.7 L141.2,420.6 L141.4,420.5 L141.5,420.4 L141.7,420.1 L141.8,419.9 L141.9,419.5 L142.1,419.2 L142.2,418.8 L142.4,418.4 L142.5,418.0 L142.6,417.7 L142.8,417.3 L142.9,417.1 L143.1,416.8 L143.2,416.7 L143.3,416.6 L143.5,416.6 L143.6,416.6 L143.8,416.6 L143.9,416.6 L144.0,416.6 L144.2,416.6 L144.3,416.6 L144.5,416.6 L144.6,416.6 L144.7,416.6 L144.9,416.6 L145.0,416.6 L145.1,416.6 L145.3,416.6 L145.4,416.6 L145.6,416.6 L145.7,416.6 L145.8,416.6 L146.0,416.6 L146.1,416.6 L146.3,416.6 L146.4,416.6 L146.5,416.6 L146.7,416.6 L146.8,416.6 L147.0,416.4 L147.1,416.2 L147.2,415.9 L147.4,415.5 L147.5,415.1 L147.7,414.6 L147.8,414.1 L147.9,413.6 L148.1,413.1 L148.2,412.6 L148.4,412.2 L148.5,411.8 L148.6,411.5 L148.8,411.4 L148.9,411.3 L149.1,411.3 L149.2,411.3 L149.3,411.3 L149.5,411.3 L149.6,411.3 L149.7,411.3 L149.9,411.3 L150.0,411.3 L150.2,411.3 L150.3,411.3 L150.4,411.3 L150.6,411.3 L150.7,411.3 L150.9,411.3 L151.0,411.3 L151.1,411.3 L151.3,411.3 L151.4,411.3 L151.6,411.3 L151.7,411.3 L151.8,411.3 L152.0,411.3 L152.1,411.3 L152.3,411.3 L152.4,411.2 L152.5,411.0 L152.7,410.7 L152.8,410.3 L153.0,409.9 L153.1,409.3 L153.2,408.7 L153.4,408.1 L153.5,407.5 L153.7,406.9 L153.8,406.3 L153.9,405.8 L154.1,405.3 L154.2,404.9 L154.3,404.7 L154.5,404.6 L154.6,404.6 L154.8,404.6 L154.9,404.6 L155.0,404.6 L155.2,404.6 L155.3,404.6 L155.5,404.6 L155.6,404.6 L155.7,404.6 L155.9,404.6 L156.0,404.6 L156.2,404.6 L156.3,404.6 L156.4,404.6 L156.6,404.6 L156.7,404.6 L156.9,404.6 L157.0,404.6 L157.1,404.6 L157.3,404.6 L157.4,404.6 L157.6,404.6 L157.7,404.6 L157.8,404.6 L158.0,404.6 L158.1,404.3 L158.3,404.0 L158.4,403.5 L158.5,402.9 L158.7,402.3 L158.8,401.6 L158.9,400.8 L159.1,400.1 L159.2,399.4 L159.4,398.7 L159.5,398.1 L159.6,397.5 L159.8,397.1 L159.9,396.8 L160.1,396.7 L160.2,396.7 L160.3,396.7 L160.5,396.7 L160.6,396.7 L160.8,396.7 L160.9,396.7 L161.0,396.7 L161.2,396.7 L161.3,396.7 L161.5,396.7 L161.6,396.7 L161.7,396.7 L161.9,396.7 L162.0,396.7 L162.2,396.7 L162.3,396.7 L162.4,396.7 L162.6,396.7 L162.7,396.7 L162.9,396.7 L163.0,396.7 L163.1,396.7 L163.3,396.7 L163.4,396.7 L163.5,396.7 L163.7,396.4 L163.8,396.0 L164.0,395.4 L164.1,394.8 L164.2,394.0 L164.4,393.2 L164.5,392.4 L164.7,391.6 L164.8,390.8 L164.9,390.0 L165.1,389.3 L165.2,388.7 L165.4,388.3 L165.5,388.0 L165.6,387.9 L165.8,387.9 L165.9,387.9 L166.1,387.9 L166.2,387.9 L166.3,387.9 L166.5,387.9 L166.6,387.9 L166.8,387.9 L166.9,387.9 L167.0,387.9 L167.2,387.9 L167.3,387.9 L167.4,387.9 L167.6,387.9 L167.7,387.9 L167.9,387.9 L168.0,387.9 L168.1,387.9 L168.3,387.9 L168.4,387.9 L168.6,387.9 L168.7,387.9 L168.8,387.9 L169.0,387.9 L169.1,387.8 L169.3,387.5 L169.4,387.0 L169.5,386.4 L169.7,385.7 L169.8,384.9 L170.0,384.1 L170.1,383.2 L170.2,382.3 L170.4,381.4 L170.5,380.6 L170.7,379.9 L170.8,379.3 L170.9,378.8 L171.1,378.5 L171.2,378.4 L171.4,378.4 L171.5,378.4 L171.6,378.4 L171.8,378.4 L171.9,378.4 L172.0,378.4 L172.2,378.4 L172.3,378.4 L172.5,378.4 L172.6,378.4 L172.7,378.4 L172.9,378.4 L173.0,378.4 L173.2,378.4 L173.3,378.4 L173.4,378.4 L173.6,378.4 L173.7,378.4 L173.9,378.4 L174.0,378.4 L174.1,378.4 L174.3,378.4 L174.4,378.4 L174.6,378.4 L174.7,378.3 L174.8,378.0 L175.0,377.5 L175.1,376.9 L175.3,376.1 L175.4,375.3 L175.5,374.5 L175.7,373.6 L175.8,372.7 L176.0,371.8 L176.1,371.0 L176.2,370.2 L176.4,369.6 L176.5,369.2 L176.6,368.9 L176.8,368.7 L176.9,368.7 L177.1,368.7 L177.2,368.7 L177.3,368.7 L177.5,368.7 L177.6,368.7 L177.8,368.7 L177.9,368.7 L178.0,368.7 L178.2,368.7 L178.3,368.7 L178.5,368.7 L178.6,368.7 L178.7,368.7 L178.9,368.7 L179.0,368.7 L179.2,368.7 L179.3,368.7 L179.4,368.7 L179.6,368.7 L179.7,368.7 L179.9,368.7 L180.0,368.7 L180.1,368.7 L180.3,368.6 L180.4,368.3 L180.6,367.9 L180.7,367.3 L180.8,366.5 L181.0,365.7 L181.1,364.9 L181.2,364.0 L181.4,363.2 L181.5,362.3 L181.7,361.6 L181.8,360.9 L181.9,360.3 L182.1,359.8 L182.2,359.5 L182.4,359.4 L182.5,359.4 L182.6,359.4 L182.8,359.4 L182.9,359.4 L183.1,359.4 L183.2,359.4 L183.3,359.4 L183.5,359.4 L183.6,359.4 L183.8,359.4 L183.9,359.4 L184.0,359.4 L184.2,359.4 L184.3,359.4 L184.5,359.4 L184.6,359.4 L184.7,359.4 L184.9,359.4 L185.0,359.4 L185.2,359.4 L185.3,359.4 L185.4,359.4 L185.6,359.4 L185.7,359.4 L185.8,359.3 L186.0,359.1 L186.1,358.6 L186.3,358.1 L186.4,357.4 L186.5,356.7 L186.7,355.9 L186.8,355.1 L187.0,354.3 L187.1,353.5 L187.2,352.8 L187.4,352.2 L187.5,351.7 L187.7,351.3 L187.8,351.0 L187.9,350.9 L188.1,350.9 L188.2,350.9 L188.4,350.9 L188.5,350.9 L188.6,350.9 L188.8,350.9 L188.9,350.9 L189.1,350.9 L189.2,350.9 L189.3,350.9 L189.5,350.9 L189.6,350.9 L189.7,350.9 L189.9,350.9 L190.0,350.9 L190.2,350.9 L190.3,350.9 L190.4,350.9 L190.6,350.9 L190.7,350.9 L190.9,350.9 L191.0,350.9 L191.1,350.9 L191.3,350.9 L191.4,350.8 L191.6,350.6 L191.7,350.2 L191.8,349.7 L192.0,349.1 L192.1,348.5 L192.3,347.8 L192.4,347.1 L192.5,346.4 L192.7,345.7 L192.8,345.1 L193.0,344.6 L193.1,344.1 L193.2,343.8 L193.4,343.6 L193.5,343.5 L193.7,343.5 L193.8,343.5 L193.9,343.5 L194.1,343.5 L194.2,343.5 L194.3,343.5 L194.5,343.5 L194.6,343.5 L194.8,343.5 L194.9,343.5 L195.0,343.5 L195.2,343.5 L195.3,343.5 L195.5,343.5 L195.6,343.5 L195.7,343.5 L195.9,343.5 L196.0,343.5 L196.2,343.5 L196.3,343.5 L196.4,343.5 L196.6,343.5 L196.7,343.5 L196.9,343.5 L197.0,343.4 L197.1,343.2 L197.3,342.9 L197.4,342.5 L197.6,342.0 L197.7,341.4 L197.8,340.9 L198.0,340.3 L198.1,339.7 L198.3,339.2 L198.4,338.7 L198.5,338.3 L198.7,337.9 L198.8,337.6 L198.9,337.4 L199.1,337.4 L199.2,337.4 L199.4,337.4 L199.5,337.4 L199.6,337.4 L199.8,337.4 L199.9,337.4 L200.1,337.4 L200.2,337.4 L200.3,337.4 L200.5,337.4 L200.6,337.4 L200.8,337.4 L200.9,337.4 L201.0,337.4 L201.2,337.4 L201.3,337.4 L201.5,337.4 L201.6,337.4 L201.7,337.4 L201.9,337.4 L202.0,337.4 L202.2,337.4 L202.3,337.4 L202.4,337.4 L202.6,337.3 L202.7,337.2 L202.9,336.9 L203.0,336.5 L203.1,336.2 L203.3,335.7 L203.4,335.3 L203.5,334.8 L203.7,334.4 L203.8,334.0 L204.0,333.6 L204.1,333.2 L204.2,333.0 L204.4,332.8 L204.5,332.6 L204.7,332.6 L204.8,332.6 L204.9,332.6 L205.1,332.6 L205.2,332.6 L205.4,332.6 L205.5,332.6 L205.6,332.6 L205.8,332.6 L205.9,332.6 L206.1,332.6 L206.2,332.6 L206.3,332.6 L206.5,332.6 L206.6,332.6 L206.8,332.6 L206.9,332.6 L207.0,332.6 L207.2,332.6 L207.3,332.6 L207.5,332.6 L207.6,332.6 L207.7,332.6 L207.9,332.6 L208.0,332.6 L208.1,332.5 L208.3,332.4 L208.4,332.2 L208.6,331.9 L208.7,331.6 L208.8,331.3 L209.0,331.0 L209.1,330.6 L209.3,330.3 L209.4,330.0 L209.5,329.7 L209.7,329.5 L209.8,329.3 L210.0,329.1 L210.1,329.0 L210.2,329.0 L210.4,329.0 L210.5,329.0 L210.7,329.0 L210.8,329.0 L210.9,329.0 L211.1,329.0 L211.2,329.0 L211.4,329.0 L211.5,329.0 L211.6,329.0 L211.8,329.0 L211.9,329.0 L212.0,329.0 L212.2,329.0 L212.3,329.0 L212.5,329.0 L212.6,329.0 L212.7,329.0 L212.9,329.0 L213.0,329.0 L213.2,329.0 L213.3,329.0 L213.4,329.0 L213.6,329.0 L213.7,329.0 L213.9,328.9 L214.0,328.7 L214.1,328.5 L214.3,328.3 L214.4,328.1 L214.6,327.8 L214.7,327.6 L214.8,327.4 L215.0,327.1 L215.1,326.9 L215.3,326.8 L215.4,326.6 L215.5,326.5 L215.7,326.5 L215.8,326.4 L216.0,326.4 L216.1,326.4 L216.2,326.4 L216.4,326.4 L216.5,326.4 L216.6,326.4 L216.8,326.4 L216.9,326.4 L217.1,326.4 L217.2,326.4 L217.3,326.4 L217.5,326.4 L217.6,326.4 L217.8,326.4 L217.9,326.4 L218.0,326.4 L218.2,326.4 L218.3,326.4 L218.5,326.4 L218.6,326.4 L218.7,326.4 L218.9,326.4 L219.0,326.4 L219.2,326.4 L219.3,326.4 L219.4,326.4 L219.6,326.3 L219.7,326.1 L219.9,326.0 L220.0,325.8 L220.1,325.7 L220.3,325.5 L220.4,325.3 L220.6,325.2 L220.7,325.1 L220.8,325.0 L221.0,324.9 L221.1,324.8 L221.2,324.7 L221.4,324.7 L221.5,324.7 L221.7,324.7 L221.8,324.7 L221.9,324.7 L222.1,324.7 L222.2,324.7 L222.4,324.7 L222.5,324.7 L222.6,324.7 L222.8,324.7 L222.9,324.7 L223.1,324.7 L223.2,324.7 L223.3,324.7 L223.5,324.7 L223.6,324.7 L223.8,324.7 L223.9,324.7 L224.0,324.7 L224.2,324.7 L224.3,324.7 L224.5,324.7 L224.6,324.7 L224.7,324.7 L224.9,324.7 L225.0,324.7 L225.2,324.6 L225.3,324.5 L225.4,324.4 L225.6,324.3 L225.7,324.2 L225.8,324.1 L226.0,324.0 L226.1,323.9 L226.3,323.8 L226.4,323.8 L226.5,323.7 L226.7,323.7 L226.8,323.6 L227.0,323.6 L227.1,323.6 L227.2,323.6 L227.4,323.6 L227.5,323.6 L227.7,323.6 L227.8,323.6 L227.9,323.6 L228.1,323.6 L228.2,323.6 L228.4,323.6 L228.5,323.6 L228.6,323.6 L228.8,323.6 L228.9,323.6 L229.1,323.6 L229.2,323.6 L229.3,323.6 L229.5,323.6 L229.6,323.6 L229.8,323.6 L229.9,323.6 L230.0,323.6 L230.2,323.6 L230.3,323.6 L230.4,323.6 L230.6,323.6 L230.7,323.6 L230.9,323.5 L231.0,323.4 L231.1,323.4 L231.3,323.3 L231.4,323.3 L231.6,323.2 L231.7,323.1 L231.8,323.1 L232.0,323.1 L232.1,323.0 L232.3,323.0 L232.4,323.0 L232.5,323.0 L232.7,323.0 L232.8,323.0 L233.0,323.0 L233.1,323.0 L233.2,323.0 L233.4,323.0 L233.5,323.0 L233.7,323.0 L233.8,323.0 L233.9,323.0 L234.1,323.0 L234.2,323.0 L234.3,323.0 L234.5,323.0 L234.6,323.0 L234.8,323.0 L234.9,323.0 L235.0,323.0 L235.2,323.0 L235.3,323.0 L235.5,323.0 L235.6,323.0 L235.7,323.0 L235.9,323.0 L236.0,323.0 L236.2,322.9 L236.3,322.9 L236.4,322.9 L236.6,322.9 L236.7,322.8 L236.9,322.8 L237.0,322.8 L237.1,322.7 L237.3,322.7 L237.4,322.7 L237.6,322.6 L237.7,322.6 L237.8,322.6 L238.0,322.6 L238.1,322.6 L238.3,322.6 L238.4,322.6 L238.5,322.6 L238.7,322.6 L238.8,322.6 L238.9,322.6 L239.1,322.6 L239.2,322.6 L239.4,322.6 L239.5,322.6 L239.6,322.6 L239.8,322.6 L239.9,322.6 L240.1,322.6 L240.2,322.6 L240.3,322.6 L240.5,322.6 L240.6,322.6 L240.8,322.6 L240.9,322.6 L241.0,322.6 L241.2,322.6 L241.3,322.6 L241.5,322.6 L241.6,322.6 L241.7,322.6 L241.9,322.6 L242.0,322.5 L242.2,322.5 L242.3,322.5 L242.4,322.5 L242.6,322.5 L242.7,322.4 L242.9,322.4 L243.0,322.4 L243.1,322.4 L243.3,322.4 L243.4,322.4 L243.5,322.4 L243.7,322.4 L243.8,322.4 L244.0,322.4 L244.1,322.4 L244.2,322.4 L244.4,322.4 L244.5,322.4 L244.7,322.4 L244.8,322.4 L244.9,322.4 L245.1,322.4 L245.2,322.4 L245.4,322.4 L245.5,322.4 L245.6,322.4 L245.8,322.4 L245.9,322.4 L246.1,322.4 L246.2,322.4 L246.3,322.4 L246.5,322.4 L246.6,322.4 L246.8,322.4 L246.9,322.4 L247.0,322.4 L247.2,322.4 L247.3,322.4 L247.5,322.4 L247.6,322.4 L247.7,322.3 L247.9,322.3 L248.0,322.3 L248.1,322.3 L248.3,322.3 L248.4,322.3 L248.6,322.3 L248.7,322.3 L248.8,322.3 L249.0,322.3 L249.1,322.3 L249.3,322.3 L249.4,322.3 L249.5,322.3 L249.7,322.3 L249.8,322.3 L250.0,322.3 L250.1,322.3 L250.2,322.3 L250.4,322.3 L250.5,322.3 L250.7,322.3 L250.8,322.3 L250.9,322.3 L251.1,322.3 L251.2,322.3 L251.4,322.3 L251.5,322.3 L251.6,322.3 L251.8,322.3 L251.9,322.3 L252.0,322.3 L252.2,322.3 L252.3,322.3 L252.5,322.3 L252.6,322.3 L252.7,322.3 L252.9,322.3 L253.0,322.3 L253.2,322.3 L253.3,322.3 L253.4,322.2 L253.6,322.2 L253.7,322.2 L253.9,322.2 L254.0,322.2 L254.1,322.2 L254.3,322.2 L254.4,322.2 L254.6,322.2 L254.7,322.2 L254.8,322.2 L255.0,322.2 L255.1,322.2 L255.3,322.2 L255.4,322.2 L255.5,322.2 L255.7,322.2 L255.8,322.2 L256.0,322.2 L256.1,322.2 L256.2,322.2 L256.4,322.2 L256.5,322.2 L256.6,322.2 L256.8,322.2 L256.9,322.2 L257.1,322.2 L257.2,322.2 L257.3,322.2 L257.5,322.2 L257.6,322.2 L257.8,322.2 L257.9,322.2 L258.0,322.2 L258.2,322.2 L258.3,322.2 L258.5,322.2 L258.6,322.2 L258.7,322.2 L258.9,322.2 L259.0,322.2 L259.2,322.2 L259.3,322.2 L259.4,322.2 L259.6,322.2 L259.7,322.2 L259.9,322.2 L260.0,322.2 L260.1,322.2 L260.3,322.2 L260.4,322.2 L260.6,322.2 L260.7,322.2 L260.8,322.2 L261.0,322.2 L261.1,322.2 L261.2,322.2 L261.4,322.2 L261.5,322.2 L261.7,322.2 L261.8,322.2 L261.9,322.2 L262.1,322.2 L262.2,322.2 L262.4,322.2 L262.5,322.2 L262.6,322.2 L262.8,322.2 L262.9,322.2 L263.1,322.2 L263.2,322.2 L263.3,322.2 L263.5,322.2 L263.6,322.2 L263.8,322.2 L263.9,322.2 L264.0,322.2 L264.2,322.2 L264.3,322.2 L264.5,322.2 L264.6,322.2 L264.7,322.2 L264.9,322.2 L265.0,322.2 L265.2,322.2 L265.3,322.2 L265.4,322.2 L265.6,322.2 L265.7,322.2 L265.8,322.2 L266.0,322.2 L266.1,322.2 L266.3,322.2 L266.4,322.2 L266.5,322.2 L266.7,322.2 L266.8,322.2 L267.0,322.2 L267.1,322.2 L267.2,322.2 L267.4,322.2 L267.5,322.2 L267.7,322.2 L267.8,322.2 L267.9,322.2 L268.1,322.2 L268.2,322.2 L268.4,322.2 L268.5,322.2 L268.6,322.2 L268.8,322.2 L268.9,322.2 L269.1,322.2 L269.2,322.2 L269.3,322.2 L269.5,322.2 L269.6,322.2 L269.8,322.2 L269.9,322.2 L270.0,322.2 L270.2,322.2 L270.3,322.2 L270.4,322.2 L270.6,322.2 L270.7,322.2 L270.9,322.2 L271.0,322.2 L271.1,322.2 L271.3,322.2 L271.4,322.2 L271.6,322.2 L271.7,322.2 L271.8,322.2 L272.0,322.2 L272.1,322.2 L272.3,322.2 L272.4,322.2 L272.5,322.2 L272.7,322.2 L272.8,322.2 L273.0,322.2 L273.1,322.2 L273.2,322.2 L273.4,322.2 L273.5,322.2 L273.7,322.2 L273.8,322.2 L273.9,322.2 L274.1,322.2 L274.2,322.2 L274.4,322.2 L274.5,322.2 L274.6,322.2 L274.8,322.2 L274.9,322.2 L275.0,322.2 L275.2,322.2 L275.3,322.2 L275.5,322.2 L275.6,322.2 L275.7,322.2 L275.9,322.2 L276.0,322.2 L276.2,322.2 L276.3,322.2 L276.4,322.2 L276.6,322.2 L276.7,322.2 L276.9,322.2 L277.0,322.2 L277.1,322.2 L277.3,322.2 L277.4,322.2 L277.6,322.2 L277.7,322.2 L277.8,322.2 L278.0,322.2 L278.1,322.2 L278.3,322.2 L278.4,322.2 L278.5,322.2 L278.7,322.2 L278.8,322.2 L278.9,322.2 L279.1,322.2 L279.2,322.2 L279.4,322.2 L279.5,322.2 L279.6,322.2 L279.8,322.2 L279.9,322.2 L280.1,322.2 L280.2,322.2 L280.3,322.2 L280.5,322.2 L280.6,322.2 L280.8,322.2 L280.9,322.2 L281.0,322.2 L281.2,322.2 L281.3,322.2 L281.5,322.2 L281.6,322.2 L281.7,322.2 L281.9,322.2 L282.0,322.2 L282.2,322.2 L282.3,322.2 L282.4,322.2 L282.6,322.2 L282.7,322.2 L282.9,322.2 L283.0,322.2 L283.1,322.2 L283.3,322.2 L283.4,322.2 L283.5,322.2 L283.7,322.2 L283.8,322.2 L284.0,322.2 L284.1,322.2 L284.2,322.2 L284.4,322.2 L284.5,322.2 L284.7,322.2 L284.8,322.2 L284.9,322.2 L285.1,322.2 L285.2,322.2 L285.4,322.2 L285.5,322.2" fill="none" stroke="#000000" stroke-width="1.90" stroke-linejoin="round"/>
<circle cx="65.29" cy="428.80" r="2.55" fill="#000000"/>
<circle cx="70.86" cy="428.80" r="2.55" fill="#000000"/>
<circle cx="76.44" cy="428.80" r="2.55" fill="#000000"/>
<circle cx="82.01" cy="428.79" r="2.55" fill="#000000"/>
<circle cx="87.59" cy="428.77" r="2.55" fill="#000000"/>
<circle cx="93.16" cy="428.74" r="2.55" fill="#000000"/>
<circle cx="98.74" cy="428.66" r="2.55" fill="#000000"/>
<circle cx="104.31" cy="428.51" r="2.55" fill="#000000"/>
<circle cx="109.89" cy="428.24" r="2.55" fill="#000000"/>
<circle cx="115.46" cy="427.75" r="2.55" fill="#000000"/>
<circle cx="121.04" cy="426.91" r="2.55" fill="#000000"/>
<circle cx="126.61" cy="425.58" r="2.55" fill="#000000"/>
<circle cx="132.19" cy="423.54" r="2.55" fill="#000000"/>
<circle cx="137.76" cy="420.58" r="2.55" fill="#000000"/>
<circle cx="143.34" cy="416.51" r="2.55" fill="#000000"/>
<circle cx="148.91" cy="411.19" r="2.55" fill="#000000"/>
<circle cx="154.49" cy="404.57" r="2.55" fill="#000000"/>
<circle cx="160.06" cy="396.77" r="2.55" fill="#000000"/>
<circle cx="165.64" cy="388.02" r="2.55" fill="#000000"/>
<circle cx="171.21" cy="378.70" r="2.55" fill="#000000"/>
<circle cx="176.79" cy="369.28" r="2.55" fill="#000000"/>
<circle cx="182.36" cy="360.23" r="2.55" fill="#000000"/>
<circle cx="187.94" cy="351.97" r="2.55" fill="#000000"/>
<circle cx="193.51" cy="344.81" r="2.55" fill="#000000"/>
<circle cx="199.09" cy="338.91" r="2.55" fill="#000000"/>
<circle cx="204.66" cy="334.30" r="2.55" fill="#000000"/>
<circle cx="210.24" cy="330.88" r="2.55" fill="#000000"/>
<circle cx="215.81" cy="328.46" r="2.55" fill="#000000"/>
<circle cx="221.39" cy="326.84" r="2.55" fill="#000000"/>
<circle cx="226.96" cy="325.81" r="2.55" fill="#000000"/>
<circle cx="232.54" cy="325.19" r="2.55" fill="#000000"/>
<circle cx="238.11" cy="324.83" r="2.55" fill="#000000"/>
<circle cx="243.69" cy="324.63" r="2.55" fill="#000000"/>
<circle cx="249.26" cy="324.53" r="2.55" fill="#000000"/>
<circle cx="254.84" cy="324.48" r="2.55" fill="#000000"/>
<circle cx="260.41" cy="324.46" r="2.55" fill="#000000"/>
<circle cx="265.99" cy="324.45" r="2.55" fill="#000000"/>
<circle cx="271.56" cy="324.44" r="2.55" fill="#000000"/>
<circle cx="277.14" cy="324.44" r="2.55" fill="#000000"/>
<circle cx="282.71" cy="324.44" r="2.55" fill="#000000"/>
<path d="M62.5,428.8 L62.6,428.8 L62.8,428.8 L62.9,428.8 L63.1,428.8 L63.2,428.8 L63.3,428.8 L63.5,428.8 L63.6,428.8 L63.8,428.8 L63.9,428.8 L64.0,428.8 L64.2,428.8 L64.3,428.8 L64.5,428.8 L64.6,428.8 L64.7,428.8 L64.9,428.8 L65.0,428.8 L65.1,428.8 L65.3,428.8 L65.4,428.8 L65.6,428.8 L65.7,428.8 L65.8,428.8 L66.0,428.8 L66.1,428.8 L66.3,428.8 L66.4,428.8 L66.5,428.8 L66.7,428.8 L66.8,428.8 L67.0,428.8 L67.1,428.8 L67.2,428.8 L67.4,428.8 L67.5,428.8 L67.7,428.8 L67.8,428.8 L67.9,428.8 L68.1,428.8 L68.2,428.8 L68.4,428.8 L68.5,428.8 L68.6,428.8 L68.8,428.8 L68.9,428.8 L69.1,428.8 L69.2,428.8 L69.3,428.8 L69.5,428.8 L69.6,428.8 L69.7,428.8 L69.9,428.8 L70.0,428.8 L70.2,428.8 L70.3,428.8 L70.4,428.8 L70.6,428.8 L70.7,428.8 L70.9,428.8 L71.0,428.8 L71.1,428.8 L71.3,428.8 L71.4,428.8 L71.6,428.8 L71.7,428.8 L71.8,428.8 L72.0,428.8 L72.1,428.8 L72.3,428.8 L72.4,428.8 L72.5,428.8 L72.7,428.8 L72.8,428.8 L73.0,428.8 L73.1,428.8 L73.2,428.8 L73.4,428.8 L73.5,428.8 L73.7,428.8 L73.8,428.8 L73.9,428.8 L74.1,428.8 L74.2,428.8 L74.3,428.8 L74.5,428.8 L74.6,428.8 L74.8,428.8 L74.9,428.8 L75.0,428.8 L75.2,428.8 L75.3,428.8 L75.5,428.8 L75.6,428.8 L75.7,428.8 L75.9,428.8 L76.0,428.8 L76.2,428.8 L76.3,428.8 L76.4,428.8 L76.6,428.8 L76.7,428.8 L76.9,428.8 L77.0,428.8 L77.1,428.8 L77.3,428.8 L77.4,428.8 L77.6,428.8 L77.7,428.8 L77.8,428.8 L78.0,428.8 L78.1,428.8 L78.2,428.8 L78.4,428.8 L78.5,428.8 L78.7,428.8 L78.8,428.8 L78.9,428.8 L79.1,428.8 L79.2,428.8 L79.4,428.8 L79.5,428.8 L79.6,428.8 L79.8,428.8 L79.9,428.8 L80.1,428.8 L80.2,428.8 L80.3,428.8 L80.5,428.8 L80.6,428.8 L80.8,428.8 L80.9,428.8 L81.0,428.8 L81.2,428.8 L81.3,428.8 L81.5,428.8 L81.6,428.8 L81.7,428.8 L81.9,428.8 L82.0,428.8 L82.2,428.8 L82.3,428.8 L82.4,428.8 L82.6,428.8 L82.7,428.8 L82.8,428.8 L83.0,428.8 L83.1,428.8 L83.3,428.8 L83.4,428.8 L83.5,428.8 L83.7,428.8 L83.8,428.8 L84.0,428.8 L84.1,428.8 L84.2,428.8 L84.4,428.8 L84.5,428.8 L84.7,428.8 L84.8,428.8 L84.9,428.8 L85.1,428.8 L85.2,428.8 L85.4,428.8 L85.5,428.8 L85.6,428.8 L85.8,428.8 L85.9,428.8 L86.1,428.8 L86.2,428.8 L86.3,428.8 L86.5,428.8 L86.6,428.8 L86.8,428.8 L86.9,428.8 L87.0,428.8 L87.2,428.8 L87.3,428.8 L87.4,428.8 L87.6,428.8 L87.7,428.8 L87.9,428.8 L88.0,428.8 L88.1,428.8 L88.3,428.8 L88.4,428.8 L88.6,428.8 L88.7,428.8 L88.8,428.8 L89.0,428.8 L89.1,428.8 L89.3,428.8 L89.4,428.8 L89.5,428.8 L89.7,428.8 L89.8,428.8 L90.0,428.8 L90.1,428.8 L90.2,428.8 L90.4,428.8 L90.5,428.8 L90.7,428.8 L90.8,428.8 L90.9,428.8 L91.1,428.8 L91.2,428.7 L91.4,428.7 L91.5,428.7 L91.6,428.7 L91.8,428.7 L91.9,428.7 L92.0,428.7 L92.2,428.7 L92.3,428.7 L92.5,428.7 L92.6,428.7 L92.7,428.7 L92.9,428.7 L93.0,428.7 L93.2,428.7 L93.3,428.7 L93.4,428.7 L93.6,428.7 L93.7,428.7 L93.9,428.7 L94.0,428.7 L94.1,428.7 L94.3,428.7 L94.4,428.7 L94.6,428.7 L94.7,428.7 L94.8,428.7 L95.0,428.7 L95.1,428.7 L95.3,428.7 L95.4,428.7 L95.5,428.7 L95.7,428.7 L95.8,428.7 L95.9,428.7 L96.1,428.7 L96.2,428.7 L96.4,428.7 L96.5,428.7 L96.6,428.7 L96.8,428.7 L96.9,428.7 L97.1,428.7 L97.2,428.7 L97.3,428.7 L97.5,428.7 L97.6,428.7 L97.8,428.7 L97.9,428.7 L98.0,428.7 L98.2,428.7 L98.3,428.7 L98.5,428.7 L98.6,428.7 L98.7,428.7 L98.9,428.7 L99.0,428.6 L99.2,428.6 L99.3,428.6 L99.4,428.6 L99.6,428.6 L99.7,428.6 L99.9,428.6 L100.0,428.6 L100.1,428.6 L100.3,428.6 L100.4,428.6 L100.5,428.6 L100.7,428.6 L100.8,428.6 L101.0,428.6 L101.1,428.6 L101.2,428.6 L101.4,428.6 L101.5,428.6 L101.7,428.6 L101.8,428.6 L101.9,428.6 L102.1,428.6 L102.2,428.6 L102.4,428.6 L102.5,428.6 L102.6,428.6 L102.8,428.6 L102.9,428.5 L103.1,428.5 L103.2,428.5 L103.3,428.5 L103.5,428.5 L103.6,428.5 L103.8,428.5 L103.9,428.5 L104.0,428.5 L104.2,428.5 L104.3,428.5 L104.5,428.5 L104.6,428.5 L104.7,428.5 L104.9,428.5 L105.0,428.5 L105.1,428.5 L105.3,428.5 L105.4,428.5 L105.6,428.4 L105.7,428.4 L105.8,428.4 L106.0,428.4 L106.1,428.4 L106.3,428.4 L106.4,428.4 L106.5,428.4 L106.7,428.4 L106.8,428.4 L107.0,428.4 L107.1,428.4 L107.2,428.4 L107.4,428.4 L107.5,428.4 L107.7,428.3 L107.8,428.3 L107.9,428.3 L108.1,428.3 L108.2,428.3 L108.4,428.3 L108.5,428.3 L108.6,428.3 L108.8,428.3 L108.9,428.3 L109.1,428.3 L109.2,428.3 L109.3,428.2 L109.5,428.2 L109.6,428.2 L109.7,428.2 L109.9,428.2 L110.0,428.2 L110.2,428.2 L110.3,428.2 L110.4,428.2 L110.6,428.2 L110.7,428.1 L110.9,428.1 L111.0,428.1 L111.1,428.1 L111.3,428.1 L111.4,428.1 L111.6,428.1 L111.7,428.1 L111.8,428.1 L112.0,428.0 L112.1,428.0 L112.3,428.0 L112.4,428.0 L112.5,428.0 L112.7,428.0 L112.8,428.0 L113.0,428.0 L113.1,427.9 L113.2,427.9 L113.4,427.9 L113.5,427.9 L113.7,427.9 L113.8,427.9 L113.9,427.9 L114.1,427.8 L114.2,427.8 L114.3,427.8 L114.5,427.8 L114.6,427.8 L114.8,427.8 L114.9,427.8 L115.0,427.7 L115.2,427.7 L115.3,427.7 L115.5,427.7 L115.6,427.7 L115.7,427.7 L115.9,427.6 L116.0,427.6 L116.2,427.6 L116.3,427.6 L116.4,427.6 L116.6,427.5 L116.7,427.5 L116.9,427.5 L117.0,427.5 L117.1,427.5 L117.3,427.4 L117.4,427.4 L117.6,427.4 L117.7,427.4 L117.8,427.4 L118.0,427.3 L118.1,427.3 L118.2,427.3 L118.4,427.3 L118.5,427.3 L118.7,427.2 L118.8,427.2 L118.9,427.2 L119.1,427.2 L119.2,427.1 L119.4,427.1 L119.5,427.1 L119.6,427.1 L119.8,427.0 L119.9,427.0 L120.1,427.0 L120.2,427.0 L120.3,426.9 L120.5,426.9 L120.6,426.9 L120.8,426.9 L120.9,426.8 L121.0,426.8 L121.2,426.8 L121.3,426.7 L121.5,426.7 L121.6,426.7 L121.7,426.7 L121.9,426.6 L122.0,426.6 L122.2,426.6 L122.3,426.5 L122.4,426.5 L122.6,426.5 L122.7,426.4 L122.8,426.4 L123.0,426.4 L123.1,426.3 L123.3,426.3 L123.4,426.3 L123.5,426.2 L123.7,426.2 L123.8,426.2 L124.0,426.1 L124.1,426.1 L124.2,426.1 L124.4,426.0 L124.5,426.0 L124.7,426.0 L124.8,425.9 L124.9,425.9 L125.1,425.8 L125.2,425.8 L125.4,425.8 L125.5,425.7 L125.6,425.7 L125.8,425.6 L125.9,425.6 L126.1,425.6 L126.2,425.5 L126.3,425.5 L126.5,425.4 L126.6,425.4 L126.8,425.3 L126.9,425.3 L127.0,425.3 L127.2,425.2 L127.3,425.2 L127.4,425.1 L127.6,425.1 L127.7,425.0 L127.9,425.0 L128.0,424.9 L128.1,424.9 L128.3,424.8 L128.4,424.8 L128.6,424.7 L128.7,424.7 L128.8,424.6 L129.0,424.6 L129.1,424.5 L129.3,424.5 L129.4,424.4 L129.5,424.4 L129.7,424.3 L129.8,424.2 L130.0,424.2 L130.1,424.1 L130.2,424.1 L130.4,424.0 L130.5,424.0 L130.7,423.9 L130.8,423.8 L130.9,423.8 L131.1,423.7 L131.2,423.7 L131.4,423.6 L131.5,423.5 L131.6,423.5 L131.8,423.4 L131.9,423.3 L132.0,423.3 L132.2,423.2 L132.3,423.1 L132.5,423.1 L132.6,423.0 L132.7,422.9 L132.9,422.9 L133.0,422.8 L133.2,422.7 L133.3,422.7 L133.4,422.6 L133.6,422.5 L133.7,422.5 L133.9,422.4 L134.0,422.3 L134.1,422.2 L134.3,422.2 L134.4,422.1 L134.6,422.0 L134.7,421.9 L134.8,421.8 L135.0,421.8 L135.1,421.7 L135.3,421.6 L135.4,421.5 L135.5,421.5 L135.7,421.4 L135.8,421.3 L136.0,421.2 L136.1,421.1 L136.2,421.0 L136.4,420.9 L136.5,420.9 L136.6,420.8 L136.8,420.7 L136.9,420.6 L137.1,420.5 L137.2,420.4 L137.3,420.3 L137.5,420.2 L137.6,420.1 L137.8,420.1 L137.9,420.0 L138.0,419.9 L138.2,419.8 L138.3,419.7 L138.5,419.6 L138.6,419.5 L138.7,419.4 L138.9,419.3 L139.0,419.2 L139.2,419.1 L139.3,419.0 L139.4,418.9 L139.6,418.8 L139.7,418.7 L139.9,418.6 L140.0,418.5 L140.1,418.4 L140.3,418.3 L140.4,418.1 L140.6,418.0 L140.7,417.9 L140.8,417.8 L141.0,417.7 L141.1,417.6 L141.2,417.5 L141.4,417.4 L141.5,417.3 L141.7,417.1 L141.8,417.0 L141.9,416.9 L142.1,416.8 L142.2,416.7 L142.4,416.6 L142.5,416.4 L142.6,416.3 L142.8,416.2 L142.9,416.1 L143.1,416.0 L143.2,415.8 L143.3,415.7 L143.5,415.6 L143.6,415.4 L143.8,415.3 L143.9,415.2 L144.0,415.1 L144.2,414.9 L144.3,414.8 L144.5,414.7 L144.6,414.5 L144.7,414.4 L144.9,414.3 L145.0,414.1 L145.1,414.0 L145.3,413.9 L145.4,413.7 L145.6,413.6 L145.7,413.4 L145.8,413.3 L146.0,413.2 L146.1,413.0 L146.3,412.9 L146.4,412.7 L146.5,412.6 L146.7,412.4 L146.8,412.3 L147.0,412.2 L147.1,412.0 L147.2,411.9 L147.4,411.7 L147.5,411.6 L147.7,411.4 L147.8,411.2 L147.9,411.1 L148.1,410.9 L148.2,410.8 L148.4,410.6 L148.5,410.5 L148.6,410.3 L148.8,410.2 L148.9,410.0 L149.1,409.8 L149.2,409.7 L149.3,409.5 L149.5,409.3 L149.6,409.2 L149.7,409.0 L149.9,408.9 L150.0,408.7 L150.2,408.5 L150.3,408.3 L150.4,408.2 L150.6,408.0 L150.7,407.8 L150.9,407.7 L151.0,407.5 L151.1,407.3 L151.3,407.1 L151.4,407.0 L151.6,406.8 L151.7,406.6 L151.8,406.4 L152.0,406.3 L152.1,406.1 L152.3,405.9 L152.4,405.7 L152.5,405.5 L152.7,405.3 L152.8,405.2 L153.0,405.0 L153.1,404.8 L153.2,404.6 L153.4,404.4 L153.5,404.2 L153.7,404.0 L153.8,403.9 L153.9,403.7 L154.1,403.5 L154.2,403.3 L154.3,403.1 L154.5,402.9 L154.6,402.7 L154.8,402.5 L154.9,402.3 L155.0,402.1 L155.2,401.9 L155.3,401.7 L155.5,401.5 L155.6,401.3 L155.7,401.1 L155.9,400.9 L156.0,400.7 L156.2,400.5 L156.3,400.3 L156.4,400.1 L156.6,399.9 L156.7,399.7 L156.9,399.5 L157.0,399.3 L157.1,399.0 L157.3,398.8 L157.4,398.6 L157.6,398.4 L157.7,398.2 L157.8,398.0 L158.0,397.8 L158.1,397.6 L158.3,397.3 L158.4,397.1 L158.5,396.9 L158.7,396.7 L158.8,396.5 L158.9,396.3 L159.1,396.0 L159.2,395.8 L159.4,395.6 L159.5,395.4 L159.6,395.2 L159.8,394.9 L159.9,394.7 L160.1,394.5 L160.2,394.3 L160.3,394.0 L160.5,393.8 L160.6,393.6 L160.8,393.4 L160.9,393.1 L161.0,392.9 L161.2,392.7 L161.3,392.4 L161.5,392.2 L161.6,392.0 L161.7,391.7 L161.9,391.5 L162.0,391.3 L162.2,391.1 L162.3,390.8 L162.4,390.6 L162.6,390.3 L162.7,390.1 L162.9,389.9 L163.0,389.6 L163.1,389.4 L163.3,389.2 L163.4,388.9 L163.5,388.7 L163.7,388.4 L163.8,388.2 L164.0,388.0 L164.1,387.7 L164.2,387.5 L164.4,387.2 L164.5,387.0 L164.7,386.8 L164.8,386.5 L164.9,386.3 L165.1,386.0 L165.2,385.8 L165.4,385.5 L165.5,385.3 L165.6,385.1 L165.8,384.8 L165.9,384.6 L166.1,384.3 L166.2,384.1 L166.3,383.8 L166.5,383.6 L166.6,383.3 L166.8,383.1 L166.9,382.8 L167.0,382.6 L167.2,382.3 L167.3,382.1 L167.4,381.8 L167.6,381.6 L167.7,381.3 L167.9,381.1 L168.0,380.8 L168.1,380.6 L168.3,380.3 L168.4,380.1 L168.6,379.8 L168.7,379.6 L168.8,379.3 L169.0,379.1 L169.1,378.8 L169.3,378.5 L169.4,378.3 L169.5,378.0 L169.7,377.8 L169.8,377.5 L170.0,377.3 L170.1,377.0 L170.2,376.8 L170.4,376.5 L170.5,376.3 L170.7,376.0 L170.8,375.7 L170.9,375.5 L171.1,375.2 L171.2,375.0 L171.4,374.7 L171.5,374.5 L171.6,374.2 L171.8,374.0 L171.9,373.7 L172.0,373.4 L172.2,373.2 L172.3,372.9 L172.5,372.7 L172.6,372.4 L172.7,372.2 L172.9,371.9 L173.0,371.7 L173.2,371.4 L173.3,371.1 L173.4,370.9 L173.6,370.6 L173.7,370.4 L173.9,370.1 L174.0,369.9 L174.1,369.6 L174.3,369.4 L174.4,369.1 L174.6,368.8 L174.7,368.6 L174.8,368.3 L175.0,368.1 L175.1,367.8 L175.3,367.6 L175.4,367.3 L175.5,367.1 L175.7,366.8 L175.8,366.5 L176.0,366.3 L176.1,366.0 L176.2,365.8 L176.4,365.5 L176.5,365.3 L176.6,365.0 L176.8,364.8 L176.9,364.5 L177.1,364.3 L177.2,364.0 L177.3,363.8 L177.5,363.5 L177.6,363.3 L177.8,363.0 L177.9,362.8 L178.0,362.5 L178.2,362.3 L178.3,362.0 L178.5,361.8 L178.6,361.5 L178.7,361.3 L178.9,361.0 L179.0,360.8 L179.2,360.5 L179.3,360.3 L179.4,360.0 L179.6,359.8 L179.7,359.5 L179.9,359.3 L180.0,359.0 L180.1,358.8 L180.3,358.6 L180.4,358.3 L180.6,358.1 L180.7,357.8 L180.8,357.6 L181.0,357.3 L181.1,357.1 L181.2,356.9 L181.4,356.6 L181.5,356.4 L181.7,356.1 L181.8,355.9 L181.9,355.7 L182.1,355.4 L182.2,355.2 L182.4,355.0 L182.5,354.7 L182.6,354.5 L182.8,354.2 L182.9,354.0 L183.1,353.8 L183.2,353.5 L183.3,353.3 L183.5,353.1 L183.6,352.8 L183.8,352.6 L183.9,352.4 L184.0,352.2 L184.2,351.9 L184.3,351.7 L184.5,351.5 L184.6,351.2 L184.7,351.0 L184.9,350.8 L185.0,350.6 L185.2,350.3 L185.3,350.1 L185.4,349.9 L185.6,349.7 L185.7,349.4 L185.8,349.2 L186.0,349.0 L186.1,348.8 L186.3,348.6 L186.4,348.3 L186.5,348.1 L186.7,347.9 L186.8,347.7 L187.0,347.5 L187.1,347.2 L187.2,347.0 L187.4,346.8 L187.5,346.6 L187.7,346.4 L187.8,346.2 L187.9,346.0 L188.1,345.8 L188.2,345.5 L188.4,345.3 L188.5,345.1 L188.6,344.9 L188.8,344.7 L188.9,344.5 L189.1,344.3 L189.2,344.1 L189.3,343.9 L189.5,343.7 L189.6,343.5 L189.7,343.3 L189.9,343.1 L190.0,342.9 L190.2,342.7 L190.3,342.5 L190.4,342.3 L190.6,342.1 L190.7,341.9 L190.9,341.7 L191.0,341.5 L191.1,341.3 L191.3,341.1 L191.4,340.9 L191.6,340.7 L191.7,340.6 L191.8,340.4 L192.0,340.2 L192.1,340.0 L192.3,339.8 L192.4,339.6 L192.5,339.4 L192.7,339.3 L192.8,339.1 L193.0,338.9 L193.1,338.7 L193.2,338.5 L193.4,338.3 L193.5,338.2 L193.7,338.0 L193.8,337.8 L193.9,337.6 L194.1,337.5 L194.2,337.3 L194.3,337.1 L194.5,336.9 L194.6,336.8 L194.8,336.6 L194.9,336.4 L195.0,336.3 L195.2,336.1 L195.3,335.9 L195.5,335.8 L195.6,335.6 L195.7,335.4 L195.9,335.3 L196.0,335.1 L196.2,334.9 L196.3,334.8 L196.4,334.6 L196.6,334.5 L196.7,334.3 L196.9,334.1 L197.0,334.0 L197.1,333.8 L197.3,333.7 L197.4,333.5 L197.6,333.4 L197.7,333.2 L197.8,333.1 L198.0,332.9 L198.1,332.8 L198.3,332.6 L198.4,332.5 L198.5,332.3 L198.7,332.2 L198.8,332.0 L198.9,331.9 L199.1,331.7 L199.2,331.6 L199.4,331.4 L199.5,331.3 L199.6,331.2 L199.8,331.0 L199.9,330.9 L200.1,330.7 L200.2,330.6 L200.3,330.5 L200.5,330.3 L200.6,330.2 L200.8,330.1 L200.9,329.9 L201.0,329.8 L201.2,329.7 L201.3,329.5 L201.5,329.4 L201.6,329.3 L201.7,329.2 L201.9,329.0 L202.0,328.9 L202.2,328.8 L202.3,328.7 L202.4,328.5 L202.6,328.4 L202.7,328.3 L202.9,328.2 L203.0,328.1 L203.1,327.9 L203.3,327.8 L203.4,327.7 L203.5,327.6 L203.7,327.5 L203.8,327.4 L204.0,327.2 L204.1,327.1 L204.2,327.0 L204.4,326.9 L204.5,326.8 L204.7,326.7 L204.8,326.6 L204.9,326.5 L205.1,326.4 L205.2,326.3 L205.4,326.1 L205.5,326.0 L205.6,325.9 L205.8,325.8 L205.9,325.7 L206.1,325.6 L206.2,325.5 L206.3,325.4 L206.5,325.3 L206.6,325.2 L206.8,325.1 L206.9,325.0 L207.0,324.9 L207.2,324.8 L207.3,324.8 L207.5,324.7 L207.6,324.6 L207.7,324.5 L207.9,324.4 L208.0,324.3 L208.1,324.2 L208.3,324.1 L208.4,324.0 L208.6,323.9 L208.7,323.8 L208.8,323.8 L209.0,323.7 L209.1,323.6 L209.3,323.5 L209.4,323.4 L209.5,323.3 L209.7,323.3 L209.8,323.2 L210.0,323.1 L210.1,323.0 L210.2,322.9 L210.4,322.9 L210.5,322.8 L210.7,322.7 L210.8,322.6 L210.9,322.5 L211.1,322.5 L211.2,322.4 L211.4,322.3 L211.5,322.2 L211.6,322.2 L211.8,322.1 L211.9,322.0 L212.0,322.0 L212.2,321.9 L212.3,321.8 L212.5,321.7 L212.6,321.7 L212.7,321.6 L212.9,321.5 L213.0,321.5 L213.2,321.4 L213.3,321.3 L213.4,321.3 L213.6,321.2 L213.7,321.2 L213.9,321.1 L214.0,321.0 L214.1,321.0 L214.3,320.9 L214.4,320.8 L214.6,320.8 L214.7,320.7 L214.8,320.7 L215.0,320.6 L215.1,320.6 L215.3,320.5 L215.4,320.4 L215.5,320.4 L215.7,320.3 L215.8,320.3 L216.0,320.2 L216.1,320.2 L216.2,320.1 L216.4,320.1 L216.5,320.0 L216.6,320.0 L216.8,319.9 L216.9,319.9 L217.1,319.8 L217.2,319.8 L217.3,319.7 L217.5,319.7 L217.6,319.6 L217.8,319.6 L217.9,319.5 L218.0,319.5 L218.2,319.4 L218.3,319.4 L218.5,319.3 L218.6,319.3 L218.7,319.2 L218.9,319.2 L219.0,319.2 L219.2,319.1 L219.3,319.1 L219.4,319.0 L219.6,319.0 L219.7,319.0 L219.9,318.9 L220.0,318.9 L220.1,318.8 L220.3,318.8 L220.4,318.8 L220.6,318.7 L220.7,318.7 L220.8,318.6 L221.0,318.6 L221.1,318.6 L221.2,318.5 L221.4,318.5 L221.5,318.5 L221.7,318.4 L221.8,318.4 L221.9,318.4 L222.1,318.3 L222.2,318.3 L222.4,318.3 L222.5,318.2 L222.6,318.2 L222.8,318.2 L222.9,318.1 L223.1,318.1 L223.2,318.1 L223.3,318.0 L223.5,318.0 L223.6,318.0 L223.8,317.9 L223.9,317.9 L224.0,317.9 L224.2,317.9 L224.3,317.8 L224.5,317.8 L224.6,317.8 L224.7,317.7 L224.9,317.7 L225.0,317.7 L225.2,317.7 L225.3,317.6 L225.4,317.6 L225.6,317.6 L225.7,317.6 L225.8,317.5 L226.0,317.5 L226.1,317.5 L226.3,317.5 L226.4,317.4 L226.5,317.4 L226.7,317.4 L226.8,317.4 L227.0,317.4 L227.1,317.3 L227.2,317.3 L227.4,317.3 L227.5,317.3 L227.7,317.2 L227.8,317.2 L227.9,317.2 L228.1,317.2 L228.2,317.2 L228.4,317.1 L228.5,317.1 L228.6,317.1 L228.8,317.1 L228.9,317.1 L229.1,317.1 L229.2,317.0 L229.3,317.0 L229.5,317.0 L229.6,317.0 L229.8,317.0 L229.9,316.9 L230.0,316.9 L230.2,316.9 L230.3,316.9 L230.4,316.9 L230.6,316.9 L230.7,316.9 L230.9,316.8 L231.0,316.8 L231.1,316.8 L231.3,316.8 L231.4,316.8 L231.6,316.8 L231.7,316.7 L231.8,316.7 L232.0,316.7 L232.1,316.7 L232.3,316.7 L232.4,316.7 L232.5,316.7 L232.7,316.7 L232.8,316.6 L233.0,316.6 L233.1,316.6 L233.2,316.6 L233.4,316.6 L233.5,316.6 L233.7,316.6 L233.8,316.6 L233.9,316.5 L234.1,316.5 L234.2,316.5 L234.3,316.5 L234.5,316.5 L234.6,316.5 L234.8,316.5 L234.9,316.5 L235.0,316.5 L235.2,316.4 L235.3,316.4 L235.5,316.4 L235.6,316.4 L235.7,316.4 L235.9,316.4 L236.0,316.4 L236.2,316.4 L236.3,316.4 L236.4,316.4 L236.6,316.4 L236.7,316.3 L236.9,316.3 L237.0,316.3 L237.1,316.3 L237.3,316.3 L237.4,316.3 L237.6,316.3 L237.7,316.3 L237.8,316.3 L238.0,316.3 L238.1,316.3 L238.3,316.3 L238.4,316.3 L238.5,316.2 L238.7,316.2 L238.8,316.2 L238.9,316.2 L239.1,316.2 L239.2,316.2 L239.4,316.2 L239.5,316.2 L239.6,316.2 L239.8,316.2 L239.9,316.2 L240.1,316.2 L240.2,316.2 L240.3,316.2 L240.5,316.2 L240.6,316.2 L240.8,316.1 L240.9,316.1 L241.0,316.1 L241.2,316.1 L241.3,316.1 L241.5,316.1 L241.6,316.1 L241.7,316.1 L241.9,316.1 L242.0,316.1 L242.2,316.1 L242.3,316.1 L242.4,316.1 L242.6,316.1 L242.7,316.1 L242.9,316.1 L243.0,316.1 L243.1,316.1 L243.3,316.1 L243.4,316.1 L243.5,316.1 L243.7,316.1 L243.8,316.0 L244.0,316.0 L244.1,316.0 L244.2,316.0 L244.4,316.0 L244.5,316.0 L244.7,316.0 L244.8,316.0 L244.9,316.0 L245.1,316.0 L245.2,316.0 L245.4,316.0 L245.5,316.0 L245.6,316.0 L245.8,316.0 L245.9,316.0 L246.1,316.0 L246.2,316.0 L246.3,316.0 L246.5,316.0 L246.6,316.0 L246.8,316.0 L246.9,316.0 L247.0,316.0 L247.2,316.0 L247.3,316.0 L247.5,316.0 L247.6,316.0 L247.7,316.0 L247.9,316.0 L248.0,316.0 L248.1,316.0 L248.3,316.0 L248.4,316.0 L248.6,316.0 L248.7,315.9 L248.8,315.9 L249.0,315.9 L249.1,315.9 L249.3,315.9 L249.4,315.9 L249.5,315.9 L249.7,315.9 L249.8,315.9 L250.0,315.9 L250.1,315.9 L250.2,315.9 L250.4,315.9 L250.5,315.9 L250.7,315.9 L250.8,315.9 L250.9,315.9 L251.1,315.9 L251.2,315.9 L251.4,315.9 L251.5,315.9 L251.6,315.9 L251.8,315.9 L251.9,315.9 L252.0,315.9 L252.2,315.9 L252.3,315.9 L252.5,315.9 L252.6,315.9 L252.7,315.9 L252.9,315.9 L253.0,315.9 L253.2,315.9 L253.3,315.9 L253.4,315.9 L253.6,315.9 L253.7,315.9 L253.9,315.9 L254.0,315.9 L254.1,315.9 L254.3,315.9 L254.4,315.9 L254.6,315.9 L254.7,315.9 L254.8,315.9 L255.0,315.9 L255.1,315.9 L255.3,315.9 L255.4,315.9 L255.5,315.9 L255.7,315.9 L255.8,315.9 L256.0,315.9 L256.1,315.9 L256.2,315.9 L256.4,315.9 L256.5,315.9 L256.6,315.9 L256.8,315.9 L256.9,315.9 L257.1,315.9 L257.2,315.9 L257.3,315.9 L257.5,315.9 L257.6,315.9 L257.8,315.9 L257.9,315.9 L258.0,315.9 L258.2,315.9 L258.3,315.9 L258.5,315.9 L258.6,315.9 L258.7,315.9 L258.9,315.9 L259.0,315.9 L259.2,315.9 L259.3,315.9 L259.4,315.9 L259.6,315.9 L259.7,315.9 L259.9,315.9 L260.0,315.9 L260.1,315.9 L260.3,315.9 L260.4,315.9 L260.6,315.9 L260.7,315.9 L260.8,315.9 L261.0,315.9 L261.1,315.9 L261.2,315.9 L261.4,315.9 L261.5,315.9 L261.7,315.9 L261.8,315.9 L261.9,315.9 L262.1,315.9 L262.2,315.9 L262.4,315.9 L262.5,315.9 L262.6,315.9 L262.8,315.9 L262.9,315.9 L263.1,315.9 L263.2,315.9 L263.3,315.9 L263.5,315.9 L263.6,315.9 L263.8,315.9 L263.9,315.9 L264.0,315.9 L264.2,315.8 L264.3,315.8 L264.5,315.8 L264.6,315.8 L264.7,315.8 L264.9,315.8 L265.0,315.8 L265.2,315.8 L265.3,315.8 L265.4,315.8 L265.6,315.8 L265.7,315.8 L265.8,315.8 L266.0,315.8 L266.1,315.8 L266.3,315.8 L266.4,315.8 L266.5,315.8 L266.7,315.8 L266.8,315.8 L267.0,315.8 L267.1,315.8 L267.2,315.8 L267.4,315.8 L267.5,315.8 L267.7,315.8 L267.8,315.8 L267.9,315.8 L268.1,315.8 L268.2,315.8 L268.4,315.8 L268.5,315.8 L268.6,315.8 L268.8,315.8 L268.9,315.8 L269.1,315.8 L269.2,315.8 L269.3,315.8 L269.5,315.8 L269.6,315.8 L269.8,315.8 L269.9,315.8 L270.0,315.8 L270.2,315.8 L270.3,315.8 L270.4,315.8 L270.6,315.8 L270.7,315.8 L270.9,315.8 L271.0,315.8 L271.1,315.8 L271.3,315.8 L271.4,315.8 L271.6,315.8 L271.7,315.8 L271.8,315.8 L272.0,315.8 L272.1,315.8 L272.3,315.8 L272.4,315.8 L272.5,315.8 L272.7,315.8 L272.8,315.8 L273.0,315.8 L273.1,315.8 L273.2,315.8 L273.4,315.8 L273.5,315.8 L273.7,315.8 L273.8,315.8 L273.9,315.8 L274.1,315.8 L274.2,315.8 L274.4,315.8 L274.5,315.8 L274.6,315.8 L274.8,315.8 L274.9,315.8 L275.0,315.8 L275.2,315.8 L275.3,315.8 L275.5,315.8 L275.6,315.8 L275.7,315.8 L275.9,315.8 L276.0,315.8 L276.2,315.8 L276.3,315.8 L276.4,315.8 L276.6,315.8 L276.7,315.8 L276.9,315.8 L277.0,315.8 L277.1,315.8 L277.3,315.8 L277.4,315.8 L277.6,315.8 L277.7,315.8 L277.8,315.8 L278.0,315.8 L278.1,315.8 L278.3,315.8 L278.4,315.8 L278.5,315.8 L278.7,315.8 L278.8,315.8 L278.9,315.8 L279.1,315.8 L279.2,315.8 L279.4,315.8 L279.5,315.8 L279.6,315.8 L279.8,315.8 L279.9,315.8 L280.1,315.8 L280.2,315.8 L280.3,315.8 L280.5,315.8 L280.6,315.8 L280.8,315.8 L280.9,315.8 L281.0,315.8 L281.2,315.8 L281.3,315.8 L281.5,315.8 L281.6,315.8 L281.7,315.8 L281.9,315.8 L282.0,315.8 L282.2,315.8 L282.3,315.8 L282.4,315.8 L282.6,315.8 L282.7,315.8 L282.9,315.8 L283.0,315.8 L283.1,315.8 L283.3,315.8 L283.4,315.8 L283.5,315.8 L283.7,315.8 L283.8,315.8 L284.0,315.8 L284.1,315.8 L284.2,315.8 L284.4,315.8 L284.5,315.8 L284.7,315.8 L284.8,315.8 L284.9,315.8 L285.1,315.8 L285.2,315.8 L285.4,315.8 L285.5,315.8" fill="none" stroke="#d01f20" stroke-width="1.90" stroke-dasharray="10.9,2.7,1.7,2.7" stroke-linejoin="round"/>
</g>
<path d="M62.50,266.00 V429.30 M285.70,266.00 V429.30 M62.00,266.50 H286.20 M62.00,428.80 H286.20" fill="none" stroke="#c8c8c8" stroke-width="1"/>
<line x1="60.20" y1="428.80" x2="62.50" y2="428.80" stroke="#333333" stroke-width="1"/>
<text transform="translate(58.70,434.20) scale(1,1.080)" text-anchor="end" class="tk">0.000</text>
<line x1="60.20" y1="396.34" x2="62.50" y2="396.34" stroke="#333333" stroke-width="1"/>
<text transform="translate(58.70,401.74) scale(1,1.080)" text-anchor="end" class="tk">0.002</text>
<line x1="60.20" y1="363.88" x2="62.50" y2="363.88" stroke="#333333" stroke-width="1"/>
<text transform="translate(58.70,369.28) scale(1,1.080)" text-anchor="end" class="tk">0.004</text>
<line x1="60.20" y1="331.42" x2="62.50" y2="331.42" stroke="#333333" stroke-width="1"/>
<text transform="translate(58.70,336.82) scale(1,1.080)" text-anchor="end" class="tk">0.006</text>
<line x1="60.20" y1="298.96" x2="62.50" y2="298.96" stroke="#333333" stroke-width="1"/>
<text transform="translate(58.70,304.36) scale(1,1.080)" text-anchor="end" class="tk">0.008</text>
<line x1="60.20" y1="266.50" x2="62.50" y2="266.50" stroke="#333333" stroke-width="1"/>
<text transform="translate(58.70,271.90) scale(1,1.080)" text-anchor="end" class="tk">0.010</text>
<line x1="62.50" y1="428.80" x2="62.50" y2="431.10" stroke="#333333" stroke-width="1"/>
<text transform="translate(62.50,442.75) scale(1,1.080)" text-anchor="middle" class="tk">0.0</text>
<line x1="118.25" y1="428.80" x2="118.25" y2="431.10" stroke="#333333" stroke-width="1"/>
<text transform="translate(118.25,442.75) scale(1,1.080)" text-anchor="middle" class="tk">2.5</text>
<line x1="174.00" y1="428.80" x2="174.00" y2="431.10" stroke="#333333" stroke-width="1"/>
<text transform="translate(174.00,442.75) scale(1,1.080)" text-anchor="middle" class="tk">5.0</text>
<line x1="229.75" y1="428.80" x2="229.75" y2="431.10" stroke="#333333" stroke-width="1"/>
<text transform="translate(229.75,442.75) scale(1,1.080)" text-anchor="middle" class="tk">7.5</text>
<line x1="285.50" y1="428.80" x2="285.50" y2="431.10" stroke="#333333" stroke-width="1"/>
<text transform="translate(285.50,442.75) scale(1,1.080)" text-anchor="middle" class="tk">10.0</text>
<text x="18.00" y="250.30" class="tk">c)</text>
<text x="164.40" y="459.45" class="mt" font-style="italic" font-size="14.2">t</text>
<line x1="169.40" y1="462.65" x2="175.40" y2="449.05" stroke="#000" stroke-width="1.1"/>
<text transform="translate(176.60,459.45) scale(1.4,1)" class="mt" font-style="italic" font-size="15">τ</text>
<g transform="translate(17.20,350.00) rotate(-90)"><text x="0" y="0" text-anchor="middle" class="yl">P<tspan font-size="12.6" dy="2.0">tot</tspan></text></g>
<clipPath id="clipd"><rect x="353.20" y="266.50" width="223.00" height="162.30"/></clipPath>
<g clip-path="url(#clipd)">
<path d="M353.2,428.8 L353.5,428.8 L353.8,428.8 L354.0,428.8 L354.3,428.8 L354.6,428.8 L354.9,428.8 L355.2,428.8 L355.4,428.8 L355.7,428.8 L356.0,428.8 L356.3,428.8 L356.5,428.8 L356.8,428.8 L357.1,428.8 L357.4,428.8 L357.7,428.8 L357.9,428.8 L358.2,428.8 L358.5,428.8 L358.8,428.7 L359.1,428.7 L359.3,428.7 L359.6,428.7 L359.9,428.7 L360.2,428.7 L360.4,428.6 L360.7,428.6 L361.0,428.6 L361.3,428.6 L361.6,428.6 L361.8,428.5 L362.1,428.5 L362.4,428.5 L362.7,428.5 L363.0,428.5 L363.2,428.4 L363.5,428.4 L363.8,428.4 L364.1,428.4 L364.3,428.3 L364.6,428.3 L364.9,428.3 L365.2,428.2 L365.5,428.2 L365.7,428.1 L366.0,428.1 L366.3,428.0 L366.6,427.9 L366.9,427.9 L367.1,427.8 L367.4,427.7 L367.7,427.6 L368.0,427.6 L368.3,427.5 L368.5,427.4 L368.8,427.3 L369.1,427.2 L369.4,427.1 L369.6,427.0 L369.9,426.9 L370.2,426.8 L370.5,426.7 L370.8,426.6 L371.0,426.5 L371.3,426.3 L371.6,426.2 L371.9,426.1 L372.2,425.9 L372.4,425.8 L372.7,425.6 L373.0,425.5 L373.3,425.3 L373.5,425.1 L373.8,424.9 L374.1,424.7 L374.4,424.5 L374.7,424.3 L374.9,424.1 L375.2,423.9 L375.5,423.7 L375.8,423.5 L376.1,423.2 L376.3,422.9 L376.6,422.6 L376.9,422.3 L377.2,422.0 L377.5,421.6 L377.7,421.3 L378.0,420.9 L378.3,420.5 L378.6,420.1 L378.8,419.7 L379.1,419.2 L379.4,418.8 L379.7,418.3 L380.0,417.8 L380.2,417.4 L380.5,416.9 L380.8,416.4 L381.1,415.9 L381.4,415.3 L381.6,414.8 L381.9,414.2 L382.2,413.6 L382.5,413.0 L382.7,412.3 L383.0,411.6 L383.3,410.9 L383.6,410.2 L383.9,409.4 L384.1,408.7 L384.4,407.9 L384.7,407.1 L385.0,406.3 L385.3,405.5 L385.5,404.7 L385.8,403.8 L386.1,403.0 L386.4,402.2 L386.6,401.4 L386.9,400.6 L387.2,399.7 L387.5,398.9 L387.8,398.0 L388.0,397.1 L388.3,396.2 L388.6,395.3 L388.9,394.4 L389.2,393.4 L389.4,392.5 L389.7,391.5 L390.0,390.6 L390.3,389.6 L390.6,388.6 L390.8,387.6 L391.1,386.7 L391.4,385.7 L391.7,384.6 L391.9,383.6 L392.2,382.6 L392.5,381.6 L392.8,380.6 L393.1,379.5 L393.3,378.4 L393.6,377.4 L393.9,376.3 L394.2,375.2 L394.5,374.0 L394.7,372.9 L395.0,371.8 L395.3,370.7 L395.6,369.5 L395.8,368.4 L396.1,367.3 L396.4,366.1 L396.7,365.0 L397.0,363.9 L397.2,362.8 L397.5,361.7 L397.8,360.6 L398.1,359.5 L398.4,358.4 L398.6,357.4 L398.9,356.3 L399.2,355.2 L399.5,354.2 L399.8,353.1 L400.0,352.0 L400.3,351.0 L400.6,349.9 L400.9,348.9 L401.1,347.8 L401.4,346.8 L401.7,345.7 L402.0,344.7 L402.3,343.6 L402.5,342.6 L402.8,341.6 L403.1,340.5 L403.4,339.5 L403.7,338.4 L403.9,337.4 L404.2,336.3 L404.5,335.3 L404.8,334.2 L405.0,333.1 L405.3,332.1 L405.6,331.0 L405.9,329.9 L406.2,328.9 L406.4,327.8 L406.7,326.8 L407.0,325.7 L407.3,324.7 L407.6,323.7 L407.8,322.7 L408.1,321.7 L408.4,320.7 L408.7,319.8 L408.9,318.8 L409.2,317.9 L409.5,317.0 L409.8,316.0 L410.1,315.1 L410.3,314.2 L410.6,313.3 L410.9,312.4 L411.2,311.5 L411.5,310.7 L411.7,309.8 L412.0,308.9 L412.3,308.1 L412.6,307.3 L412.9,306.5 L413.1,305.6 L413.4,304.9 L413.7,304.1 L414.0,303.3 L414.2,302.6 L414.5,301.8 L414.8,301.1 L415.1,300.4 L415.4,299.7 L415.6,299.1 L415.9,298.4 L416.2,297.7 L416.5,297.1 L416.8,296.4 L417.0,295.8 L417.3,295.2 L417.6,294.5 L417.9,293.9 L418.1,293.3 L418.4,292.8 L418.7,292.2 L419.0,291.6 L419.3,291.1 L419.5,290.5 L419.8,290.0 L420.1,289.4 L420.4,288.9 L420.7,288.4 L420.9,287.9 L421.2,287.4 L421.5,286.9 L421.8,286.4 L422.1,285.9 L422.3,285.4 L422.6,284.9 L422.9,284.5 L423.2,284.0 L423.4,283.6 L423.7,283.1 L424.0,282.7 L424.3,282.3 L424.6,281.8 L424.8,281.4 L425.1,281.0 L425.4,280.7 L425.7,280.3 L426.0,279.9 L426.2,279.6 L426.5,279.2 L426.8,278.8 L427.1,278.5 L427.3,278.2 L427.6,277.8 L427.9,277.5 L428.2,277.2 L428.5,276.9 L428.7,276.5 L429.0,276.2 L429.3,275.9 L429.6,275.7 L429.9,275.4 L430.1,275.1 L430.4,274.8 L430.7,274.6 L431.0,274.3 L431.2,274.1 L431.5,273.8 L431.8,273.6 L432.1,273.4 L432.4,273.1 L432.6,272.9 L432.9,272.7 L433.2,272.5 L433.5,272.3 L433.8,272.1 L434.0,271.9 L434.3,271.7 L434.6,271.5 L434.9,271.3 L435.2,271.1 L435.4,270.9 L435.7,270.8 L436.0,270.6 L436.3,270.4 L436.5,270.3 L436.8,270.1 L437.1,270.0 L437.4,269.8 L437.7,269.7 L437.9,269.6 L438.2,269.4 L438.5,269.3 L438.8,269.2 L439.1,269.0 L439.3,268.9 L439.6,268.8 L439.9,268.7 L440.2,268.6 L440.4,268.5 L440.7,268.3 L441.0,268.2 L441.3,268.2 L441.6,268.1 L441.8,268.0 L442.1,267.9 L442.4,267.8 L442.7,267.8 L443.0,267.7 L443.2,267.6 L443.5,267.6 L443.8,267.5 L444.1,267.4 L444.4,267.4 L444.6,267.3 L444.9,267.3 L445.2,267.2 L445.5,267.2 L445.7,267.1 L446.0,267.1 L446.3,267.0 L446.6,267.0 L446.9,266.9 L447.1,266.9 L447.4,266.9 L447.7,266.9 L448.0,266.8 L448.3,266.8 L448.5,266.8 L448.8,266.8 L449.1,266.8 L449.4,266.7 L449.6,266.7 L449.9,266.7 L450.2,266.7 L450.5,266.7 L450.8,266.7 L451.0,266.6 L451.3,266.6 L451.6,266.6 L451.9,266.6 L452.2,266.6 L452.4,266.6 L452.7,266.6 L453.0,266.6 L453.3,266.6 L453.6,266.5 L453.8,266.5 L454.1,266.5 L454.4,266.5 L454.7,266.5 L454.9,266.5 L455.2,266.5 L455.5,266.5 L455.8,266.5 L456.1,266.5 L456.3,266.5 L456.6,266.5 L456.9,266.5 L457.2,266.5 L457.5,266.5 L457.7,266.5 L458.0,266.5 L458.3,266.5 L458.6,266.5 L458.8,266.5 L459.1,266.5 L459.4,266.5 L459.7,266.5 L460.0,266.5 L460.2,266.5 L460.5,266.5 L460.8,266.5 L461.1,266.5 L461.4,266.5 L461.6,266.5 L461.9,266.5 L462.2,266.5 L462.5,266.5 L462.7,266.5 L463.0,266.5 L463.3,266.5 L463.6,266.5 L463.9,266.5 L464.1,266.5 L464.4,266.5 L464.7,266.5 L465.0,266.5 L465.3,266.5 L465.5,266.5 L465.8,266.5 L466.1,266.5 L466.4,266.5 L466.7,266.5 L466.9,266.5 L467.2,266.5 L467.5,266.5 L467.8,266.5 L468.0,266.5 L468.3,266.5 L468.6,266.5 L468.9,266.5 L469.2,266.5 L469.4,266.5 L469.7,266.5 L470.0,266.5 L470.3,266.5 L470.6,266.5 L470.8,266.5 L471.1,266.5 L471.4,266.5 L471.7,266.5 L471.9,266.5 L472.2,266.5 L472.5,266.5 L472.8,266.5 L473.1,266.5 L473.3,266.5 L473.6,266.5 L473.9,266.5 L474.2,266.5 L474.5,266.5 L474.7,266.5 L475.0,266.5 L475.3,266.5 L475.6,266.5 L475.9,266.5 L476.1,266.5 L476.4,266.5 L476.7,266.5 L477.0,266.5 L477.2,266.5 L477.5,266.5 L477.8,266.5 L478.1,266.5 L478.4,266.5 L478.6,266.5 L478.9,266.5 L479.2,266.5 L479.5,266.5 L479.8,266.5 L480.0,266.5 L480.3,266.5 L480.6,266.5 L480.9,266.5 L481.1,266.5 L481.4,266.5 L481.7,266.5 L482.0,266.5 L482.3,266.5 L482.5,266.5 L482.8,266.5 L483.1,266.5 L483.4,266.5 L483.7,266.5 L483.9,266.5 L484.2,266.5 L484.5,266.5 L484.8,266.5 L485.0,266.5 L485.3,266.5 L485.6,266.5 L485.9,266.5 L486.2,266.5 L486.4,266.5 L486.7,266.5 L487.0,266.5 L487.3,266.5 L487.6,266.5 L487.8,266.5 L488.1,266.5 L488.4,266.5 L488.7,266.5 L489.0,266.5 L489.2,266.5 L489.5,266.5 L489.8,266.5 L490.1,266.5 L490.3,266.5 L490.6,266.5 L490.9,266.5 L491.2,266.5 L491.5,266.5 L491.7,266.5 L492.0,266.5 L492.3,266.5 L492.6,266.5 L492.9,266.5 L493.1,266.5 L493.4,266.5 L493.7,266.5 L494.0,266.5 L494.2,266.5 L494.5,266.5 L494.8,266.5 L495.1,266.5 L495.4,266.5 L495.6,266.5 L495.9,266.5 L496.2,266.5 L496.5,266.5 L496.8,266.5 L497.0,266.5 L497.3,266.5 L497.6,266.5 L497.9,266.5 L498.2,266.5 L498.4,266.5 L498.7,266.5 L499.0,266.5 L499.3,266.5 L499.5,266.5 L499.8,266.5 L500.1,266.5 L500.4,266.5 L500.7,266.5 L500.9,266.5 L501.2,266.5 L501.5,266.5 L501.8,266.5 L502.1,266.5 L502.3,266.5 L502.6,266.5 L502.9,266.5 L503.2,266.5 L503.4,266.5 L503.7,266.5 L504.0,266.5 L504.3,266.5 L504.6,266.5 L504.8,266.5 L505.1,266.5 L505.4,266.5 L505.7,266.5 L506.0,266.5 L506.2,266.5 L506.5,266.5 L506.8,266.5 L507.1,266.5 L507.3,266.5 L507.6,266.5 L507.9,266.5 L508.2,266.5 L508.5,266.5 L508.7,266.5 L509.0,266.5 L509.3,266.5 L509.6,266.5 L509.9,266.5 L510.1,266.5 L510.4,266.5 L510.7,266.5 L511.0,266.5 L511.3,266.5 L511.5,266.5 L511.8,266.5 L512.1,266.5 L512.4,266.5 L512.6,266.5 L512.9,266.5 L513.2,266.5 L513.5,266.5 L513.8,266.5 L514.0,266.5 L514.3,266.5 L514.6,266.5 L514.9,266.5 L515.2,266.5 L515.4,266.5 L515.7,266.5 L516.0,266.5 L516.3,266.5 L516.5,266.5 L516.8,266.5 L517.1,266.5 L517.4,266.5 L517.7,266.5 L517.9,266.5 L518.2,266.5 L518.5,266.5 L518.8,266.5 L519.1,266.5 L519.3,266.5 L519.6,266.5 L519.9,266.5 L520.2,266.5 L520.5,266.5 L520.7,266.5 L521.0,266.5 L521.3,266.5 L521.6,266.5 L521.8,266.5 L522.1,266.5 L522.4,266.5 L522.7,266.5 L523.0,266.5 L523.2,266.5 L523.5,266.5 L523.8,266.5 L524.1,266.5 L524.4,266.5 L524.6,266.5 L524.9,266.5 L525.2,266.5 L525.5,266.5 L525.7,266.5 L526.0,266.5 L526.3,266.5 L526.6,266.5 L526.9,266.5 L527.1,266.5 L527.4,266.5 L527.7,266.5 L528.0,266.5 L528.3,266.5 L528.5,266.5 L528.8,266.5 L529.1,266.5 L529.4,266.5 L529.6,266.5 L529.9,266.5 L530.2,266.5 L530.5,266.5 L530.8,266.5 L531.0,266.5 L531.3,266.5 L531.6,266.5 L531.9,266.5 L532.2,266.5 L532.4,266.5 L532.7,266.5 L533.0,266.5 L533.3,266.5 L533.6,266.5 L533.8,266.5 L534.1,266.5 L534.4,266.5 L534.7,266.5 L534.9,266.5 L535.2,266.5 L535.5,266.5 L535.8,266.5 L536.1,266.5 L536.3,266.5 L536.6,266.5 L536.9,266.5 L537.2,266.5 L537.5,266.5 L537.7,266.5 L538.0,266.5 L538.3,266.5 L538.6,266.5 L538.8,266.5 L539.1,266.5 L539.4,266.5 L539.7,266.5 L540.0,266.5 L540.2,266.5 L540.5,266.5 L540.8,266.5 L541.1,266.5 L541.4,266.5 L541.6,266.5 L541.9,266.5 L542.2,266.5 L542.5,266.5 L542.8,266.5 L543.0,266.5 L543.3,266.5 L543.6,266.5 L543.9,266.5 L544.1,266.5 L544.4,266.5 L544.7,266.5 L545.0,266.5 L545.3,266.5 L545.5,266.5 L545.8,266.5 L546.1,266.5 L546.4,266.5 L546.7,266.5 L546.9,266.5 L547.2,266.5 L547.5,266.5 L547.8,266.5 L548.0,266.5 L548.3,266.5 L548.6,266.5 L548.9,266.5 L549.2,266.5 L549.4,266.5 L549.7,266.5 L550.0,266.5 L550.3,266.5 L550.6,266.5 L550.8,266.5 L551.1,266.5 L551.4,266.5 L551.7,266.5 L551.9,266.5 L552.2,266.5 L552.5,266.5 L552.8,266.5 L553.1,266.5 L553.3,266.5 L553.6,266.5 L553.9,266.5 L554.2,266.5 L554.5,266.5 L554.7,266.5 L555.0,266.5 L555.3,266.5 L555.6,266.5 L555.9,266.5 L556.1,266.5 L556.4,266.5 L556.7,266.5 L557.0,266.5 L557.2,266.5 L557.5,266.5 L557.8,266.5 L558.1,266.5 L558.4,266.5 L558.6,266.5 L558.9,266.5 L559.2,266.5 L559.5,266.5 L559.8,266.5 L560.0,266.5 L560.3,266.5 L560.6,266.5 L560.9,266.5 L561.1,266.5 L561.4,266.5 L561.7,266.5 L562.0,266.5 L562.3,266.5 L562.5,266.5 L562.8,266.5 L563.1,266.5 L563.4,266.5 L563.7,266.5 L563.9,266.5 L564.2,266.5 L564.5,266.5 L564.8,266.5 L565.1,266.5 L565.3,266.5 L565.6,266.5 L565.9,266.5 L566.2,266.5 L566.4,266.5 L566.7,266.5 L567.0,266.5 L567.3,266.5 L567.6,266.5 L567.8,266.5 L568.1,266.5 L568.4,266.5 L568.7,266.5 L569.0,266.5 L569.2,266.5 L569.5,266.5 L569.8,266.5 L570.1,266.5 L570.3,266.5 L570.6,266.5 L570.9,266.5 L571.2,266.5 L571.5,266.5 L571.7,266.5 L572.0,266.5 L572.3,266.5 L572.6,266.5 L572.9,266.5 L573.1,266.5 L573.4,266.5 L573.7,266.5 L574.0,266.5 L574.2,266.5 L574.5,266.5 L574.8,266.5 L575.1,266.5 L575.4,266.5 L575.6,266.5 L575.9,266.5 L576.2,266.5" fill="none" stroke="#3f6fb5" stroke-width="1.80" stroke-linejoin="round"/>
<path d="M353.2,428.8 L353.5,428.8 L353.8,428.8 L354.0,428.8 L354.3,428.8 L354.6,428.8 L354.9,428.8 L355.2,428.8 L355.4,428.8 L355.7,428.8 L356.0,428.8 L356.3,428.8 L356.5,428.8 L356.8,428.8 L357.1,428.8 L357.4,428.8 L357.7,428.7 L357.9,428.7 L358.2,428.7 L358.5,428.7 L358.8,428.7 L359.1,428.7 L359.3,428.7 L359.6,428.6 L359.9,428.6 L360.2,428.6 L360.4,428.6 L360.7,428.6 L361.0,428.5 L361.3,428.5 L361.6,428.5 L361.8,428.5 L362.1,428.4 L362.4,428.4 L362.7,428.4 L363.0,428.4 L363.2,428.3 L363.5,428.3 L363.8,428.3 L364.1,428.2 L364.3,428.2 L364.6,428.1 L364.9,428.1 L365.2,428.0 L365.5,428.0 L365.7,427.9 L366.0,427.8 L366.3,427.7 L366.6,427.7 L366.9,427.6 L367.1,427.5 L367.4,427.4 L367.7,427.3 L368.0,427.2 L368.3,427.1 L368.5,427.0 L368.8,426.9 L369.1,426.8 L369.4,426.7 L369.6,426.6 L369.9,426.5 L370.2,426.4 L370.5,426.3 L370.8,426.1 L371.0,426.0 L371.3,425.8 L371.6,425.7 L371.9,425.5 L372.2,425.4 L372.4,425.2 L372.7,425.0 L373.0,424.8 L373.3,424.6 L373.5,424.4 L373.8,424.2 L374.1,424.0 L374.4,423.8 L374.7,423.6 L374.9,423.3 L375.2,423.0 L375.5,422.8 L375.8,422.5 L376.1,422.1 L376.3,421.8 L376.6,421.4 L376.9,421.1 L377.2,420.7 L377.5,420.3 L377.7,419.8 L378.0,419.4 L378.3,419.0 L378.6,418.5 L378.8,418.0 L379.1,417.6 L379.4,417.1 L379.7,416.6 L380.0,416.1 L380.2,415.6 L380.5,415.0 L380.8,414.4 L381.1,413.8 L381.4,413.2 L381.6,412.6 L381.9,411.9 L382.2,411.2 L382.5,410.5 L382.7,409.7 L383.0,409.0 L383.3,408.2 L383.6,407.4 L383.9,406.6 L384.1,405.8 L384.4,405.0 L384.7,404.2 L385.0,403.4 L385.3,402.5 L385.5,401.7 L385.8,400.9 L386.1,400.0 L386.4,399.2 L386.6,398.3 L386.9,397.5 L387.2,396.6 L387.5,395.7 L387.8,394.7 L388.0,393.8 L388.3,392.9 L388.6,391.9 L388.9,391.0 L389.2,390.0 L389.4,389.0 L389.7,388.0 L390.0,387.0 L390.3,386.1 L390.6,385.1 L390.8,384.0 L391.1,383.0 L391.4,382.0 L391.7,381.0 L391.9,379.9 L392.2,378.9 L392.5,377.8 L392.8,376.7 L393.1,375.6 L393.3,374.5 L393.6,373.4 L393.9,372.2 L394.2,371.1 L394.5,370.0 L394.7,368.8 L395.0,367.7 L395.3,366.6 L395.6,365.5 L395.8,364.3 L396.1,363.2 L396.4,362.1 L396.7,361.0 L397.0,359.9 L397.2,358.9 L397.5,357.8 L397.8,356.7 L398.1,355.6 L398.4,354.6 L398.6,353.5 L398.9,352.5 L399.2,351.4 L399.5,350.3 L399.8,349.3 L400.0,348.2 L400.3,347.2 L400.6,346.1 L400.9,345.1 L401.1,344.1 L401.4,343.0 L401.7,342.0 L402.0,340.9 L402.3,339.9 L402.5,338.8 L402.8,337.8 L403.1,336.7 L403.4,335.7 L403.7,334.6 L403.9,333.6 L404.2,332.5 L404.5,331.4 L404.8,330.4 L405.0,329.3 L405.3,328.2 L405.6,327.2 L405.9,326.2 L406.2,325.1 L406.4,324.1 L406.7,323.1 L407.0,322.1 L407.3,321.1 L407.6,320.1 L407.8,319.2 L408.1,318.3 L408.4,317.3 L408.7,316.4 L408.9,315.5 L409.2,314.6 L409.5,313.7 L409.8,312.8 L410.1,311.9 L410.3,311.0 L410.6,310.1 L410.9,309.3 L411.2,308.4 L411.5,307.6 L411.7,306.8 L412.0,306.0 L412.3,305.2 L412.6,304.4 L412.9,303.6 L413.1,302.9 L413.4,302.1 L413.7,301.4 L414.0,300.7 L414.2,300.0 L414.5,299.3 L414.8,298.6 L415.1,298.0 L415.4,297.3 L415.6,296.7 L415.9,296.0 L416.2,295.4 L416.5,294.8 L416.8,294.2 L417.0,293.6 L417.3,293.0 L417.6,292.4 L417.9,291.8 L418.1,291.3 L418.4,290.7 L418.7,290.2 L419.0,289.6 L419.3,289.1 L419.5,288.6 L419.8,288.1 L420.1,287.6 L420.4,287.1 L420.7,286.6 L420.9,286.1 L421.2,285.6 L421.5,285.1 L421.8,284.7 L422.1,284.2 L422.3,283.7 L422.6,283.3 L422.9,282.9 L423.2,282.4 L423.4,282.0 L423.7,281.6 L424.0,281.2 L424.3,280.8 L424.6,280.4 L424.8,280.1 L425.1,279.7 L425.4,279.3 L425.7,279.0 L426.0,278.6 L426.2,278.3 L426.5,278.0 L426.8,277.6 L427.1,277.3 L427.3,277.0 L427.6,276.7 L427.9,276.4 L428.2,276.1 L428.5,275.8 L428.7,275.5 L429.0,275.2 L429.3,274.9 L429.6,274.7 L429.9,274.4 L430.1,274.2 L430.4,273.9 L430.7,273.7 L431.0,273.4 L431.2,273.2 L431.5,273.0 L431.8,272.8 L432.1,272.6 L432.4,272.3 L432.6,272.1 L432.9,271.9 L433.2,271.7 L433.5,271.5 L433.8,271.4 L434.0,271.2 L434.3,271.0 L434.6,270.8 L434.9,270.7 L435.2,270.5 L435.4,270.3 L435.7,270.2 L436.0,270.0 L436.3,269.9 L436.5,269.8 L436.8,269.6 L437.1,269.5 L437.4,269.3 L437.7,269.2 L437.9,269.1 L438.2,269.0 L438.5,268.8 L438.8,268.7 L439.1,268.6 L439.3,268.5 L439.6,268.4 L439.9,268.3 L440.2,268.2 L440.4,268.1 L440.7,268.0 L441.0,267.9 L441.3,267.9 L441.6,267.8 L441.8,267.7 L442.1,267.7 L442.4,267.6 L442.7,267.5 L443.0,267.5 L443.2,267.4 L443.5,267.3 L443.8,267.3 L444.1,267.2 L444.4,267.2 L444.6,267.1 L444.9,267.1 L445.2,267.0 L445.5,267.0 L445.7,267.0 L446.0,266.9 L446.3,266.9 L446.6,266.9 L446.9,266.8 L447.1,266.8 L447.4,266.8 L447.7,266.8 L448.0,266.8 L448.3,266.7 L448.5,266.7 L448.8,266.7 L449.1,266.7 L449.4,266.7 L449.6,266.7 L449.9,266.7 L450.2,266.6 L450.5,266.6 L450.8,266.6 L451.0,266.6 L451.3,266.6 L451.6,266.6 L451.9,266.6 L452.2,266.6 L452.4,266.5 L452.7,266.5 L453.0,266.5 L453.3,266.5 L453.6,266.5 L453.8,266.5 L454.1,266.5 L454.4,266.5 L454.7,266.5 L454.9,266.5 L455.2,266.5 L455.5,266.5 L455.8,266.5 L456.1,266.5 L456.3,266.5 L456.6,266.5 L456.9,266.5 L457.2,266.5 L457.5,266.5 L457.7,266.5 L458.0,266.5 L458.3,266.5 L458.6,266.5 L458.8,266.5 L459.1,266.5 L459.4,266.5 L459.7,266.5 L460.0,266.5 L460.2,266.5 L460.5,266.5 L460.8,266.5 L461.1,266.5 L461.4,266.5 L461.6,266.5 L461.9,266.5 L462.2,266.5 L462.5,266.5 L462.7,266.5 L463.0,266.5 L463.3,266.5 L463.6,266.5 L463.9,266.5 L464.1,266.5 L464.4,266.5 L464.7,266.5 L465.0,266.5 L465.3,266.5 L465.5,266.5 L465.8,266.5 L466.1,266.5 L466.4,266.5 L466.7,266.5 L466.9,266.5 L467.2,266.5 L467.5,266.5 L467.8,266.5 L468.0,266.5 L468.3,266.5 L468.6,266.5 L468.9,266.5 L469.2,266.5 L469.4,266.5 L469.7,266.5 L470.0,266.5 L470.3,266.5 L470.6,266.5 L470.8,266.5 L471.1,266.5 L471.4,266.5 L471.7,266.5 L471.9,266.5 L472.2,266.5 L472.5,266.5 L472.8,266.5 L473.1,266.5 L473.3,266.5 L473.6,266.5 L473.9,266.5 L474.2,266.5 L474.5,266.5 L474.7,266.5 L475.0,266.5 L475.3,266.5 L475.6,266.5 L475.9,266.5 L476.1,266.5 L476.4,266.5 L476.7,266.5 L477.0,266.5 L477.2,266.5 L477.5,266.5 L477.8,266.5 L478.1,266.5 L478.4,266.5 L478.6,266.5 L478.9,266.5 L479.2,266.5 L479.5,266.5 L479.8,266.5 L480.0,266.5 L480.3,266.5 L480.6,266.5 L480.9,266.5 L481.1,266.5 L481.4,266.5 L481.7,266.5 L482.0,266.5 L482.3,266.5 L482.5,266.5 L482.8,266.5 L483.1,266.5 L483.4,266.5 L483.7,266.5 L483.9,266.5 L484.2,266.5 L484.5,266.5 L484.8,266.5 L485.0,266.5 L485.3,266.5 L485.6,266.5 L485.9,266.5 L486.2,266.5 L486.4,266.5 L486.7,266.5 L487.0,266.5 L487.3,266.5 L487.6,266.5 L487.8,266.5 L488.1,266.5 L488.4,266.5 L488.7,266.5 L489.0,266.5 L489.2,266.5 L489.5,266.5 L489.8,266.5 L490.1,266.5 L490.3,266.5 L490.6,266.5 L490.9,266.5 L491.2,266.5 L491.5,266.5 L491.7,266.5 L492.0,266.5 L492.3,266.5 L492.6,266.5 L492.9,266.5 L493.1,266.5 L493.4,266.5 L493.7,266.5 L494.0,266.5 L494.2,266.5 L494.5,266.5 L494.8,266.5 L495.1,266.5 L495.4,266.5 L495.6,266.5 L495.9,266.5 L496.2,266.5 L496.5,266.5 L496.8,266.5 L497.0,266.5 L497.3,266.5 L497.6,266.5 L497.9,266.5 L498.2,266.5 L498.4,266.5 L498.7,266.5 L499.0,266.5 L499.3,266.5 L499.5,266.5 L499.8,266.5 L500.1,266.5 L500.4,266.5 L500.7,266.5 L500.9,266.5 L501.2,266.5 L501.5,266.5 L501.8,266.5 L502.1,266.5 L502.3,266.5 L502.6,266.5 L502.9,266.5 L503.2,266.5 L503.4,266.5 L503.7,266.5 L504.0,266.5 L504.3,266.5 L504.6,266.5 L504.8,266.5 L505.1,266.5 L505.4,266.5 L505.7,266.5 L506.0,266.5 L506.2,266.5 L506.5,266.5 L506.8,266.5 L507.1,266.5 L507.3,266.5 L507.6,266.5 L507.9,266.5 L508.2,266.5 L508.5,266.5 L508.7,266.5 L509.0,266.5 L509.3,266.5 L509.6,266.5 L509.9,266.5 L510.1,266.5 L510.4,266.5 L510.7,266.5 L511.0,266.5 L511.3,266.5 L511.5,266.5 L511.8,266.5 L512.1,266.5 L512.4,266.5 L512.6,266.5 L512.9,266.5 L513.2,266.5 L513.5,266.5 L513.8,266.5 L514.0,266.5 L514.3,266.5 L514.6,266.5 L514.9,266.5 L515.2,266.5 L515.4,266.5 L515.7,266.5 L516.0,266.5 L516.3,266.5 L516.5,266.5 L516.8,266.5 L517.1,266.5 L517.4,266.5 L517.7,266.5 L517.9,266.5 L518.2,266.5 L518.5,266.5 L518.8,266.5 L519.1,266.5 L519.3,266.5 L519.6,266.5 L519.9,266.5 L520.2,266.5 L520.5,266.5 L520.7,266.5 L521.0,266.5 L521.3,266.5 L521.6,266.5 L521.8,266.5 L522.1,266.5 L522.4,266.5 L522.7,266.5 L523.0,266.5 L523.2,266.5 L523.5,266.5 L523.8,266.5 L524.1,266.5 L524.4,266.5 L524.6,266.5 L524.9,266.5 L525.2,266.5 L525.5,266.5 L525.7,266.5 L526.0,266.5 L526.3,266.5 L526.6,266.5 L526.9,266.5 L527.1,266.5 L527.4,266.5 L527.7,266.5 L528.0,266.5 L528.3,266.5 L528.5,266.5 L528.8,266.5 L529.1,266.5 L529.4,266.5 L529.6,266.5 L529.9,266.5 L530.2,266.5 L530.5,266.5 L530.8,266.5 L531.0,266.5 L531.3,266.5 L531.6,266.5 L531.9,266.5 L532.2,266.5 L532.4,266.5 L532.7,266.5 L533.0,266.5 L533.3,266.5 L533.6,266.5 L533.8,266.5 L534.1,266.5 L534.4,266.5 L534.7,266.5 L534.9,266.5 L535.2,266.5 L535.5,266.5 L535.8,266.5 L536.1,266.5 L536.3,266.5 L536.6,266.5 L536.9,266.5 L537.2,266.5 L537.5,266.5 L537.7,266.5 L538.0,266.5 L538.3,266.5 L538.6,266.5 L538.8,266.5 L539.1,266.5 L539.4,266.5 L539.7,266.5 L540.0,266.5 L540.2,266.5 L540.5,266.5 L540.8,266.5 L541.1,266.5 L541.4,266.5 L541.6,266.5 L541.9,266.5 L542.2,266.5 L542.5,266.5 L542.8,266.5 L543.0,266.5 L543.3,266.5 L543.6,266.5 L543.9,266.5 L544.1,266.5 L544.4,266.5 L544.7,266.5 L545.0,266.5 L545.3,266.5 L545.5,266.5 L545.8,266.5 L546.1,266.5 L546.4,266.5 L546.7,266.5 L546.9,266.5 L547.2,266.5 L547.5,266.5 L547.8,266.5 L548.0,266.5 L548.3,266.5 L548.6,266.5 L548.9,266.5 L549.2,266.5 L549.4,266.5 L549.7,266.5 L550.0,266.5 L550.3,266.5 L550.6,266.5 L550.8,266.5 L551.1,266.5 L551.4,266.5 L551.7,266.5 L551.9,266.5 L552.2,266.5 L552.5,266.5 L552.8,266.5 L553.1,266.5 L553.3,266.5 L553.6,266.5 L553.9,266.5 L554.2,266.5 L554.5,266.5 L554.7,266.5 L555.0,266.5 L555.3,266.5 L555.6,266.5 L555.9,266.5 L556.1,266.5 L556.4,266.5 L556.7,266.5 L557.0,266.5 L557.2,266.5 L557.5,266.5 L557.8,266.5 L558.1,266.5 L558.4,266.5 L558.6,266.5 L558.9,266.5 L559.2,266.5 L559.5,266.5 L559.8,266.5 L560.0,266.5 L560.3,266.5 L560.6,266.5 L560.9,266.5 L561.1,266.5 L561.4,266.5 L561.7,266.5 L562.0,266.5 L562.3,266.5 L562.5,266.5 L562.8,266.5 L563.1,266.5 L563.4,266.5 L563.7,266.5 L563.9,266.5 L564.2,266.5 L564.5,266.5 L564.8,266.5 L565.1,266.5 L565.3,266.5 L565.6,266.5 L565.9,266.5 L566.2,266.5 L566.4,266.5 L566.7,266.5 L567.0,266.5 L567.3,266.5 L567.6,266.5 L567.8,266.5 L568.1,266.5 L568.4,266.5 L568.7,266.5 L569.0,266.5 L569.2,266.5 L569.5,266.5 L569.8,266.5 L570.1,266.5 L570.3,266.5 L570.6,266.5 L570.9,266.5 L571.2,266.5 L571.5,266.5 L571.7,266.5 L572.0,266.5 L572.3,266.5 L572.6,266.5 L572.9,266.5 L573.1,266.5 L573.4,266.5 L573.7,266.5 L574.0,266.5 L574.2,266.5 L574.5,266.5 L574.8,266.5 L575.1,266.5 L575.4,266.5 L575.6,266.5 L575.9,266.5 L576.2,266.5" fill="none" stroke="#000000" stroke-width="1.90" stroke-linejoin="round"/>
<circle cx="355.99" cy="428.74" r="2.50" fill="#000000"/>
<circle cx="361.56" cy="428.31" r="2.50" fill="#000000"/>
<circle cx="367.14" cy="426.85" r="2.50" fill="#000000"/>
<circle cx="372.71" cy="423.61" r="2.50" fill="#000000"/>
<circle cx="378.29" cy="415.65" r="2.50" fill="#000000"/>
<circle cx="383.86" cy="401.05" r="2.50" fill="#000000"/>
<circle cx="389.44" cy="382.22" r="2.50" fill="#000000"/>
<circle cx="395.01" cy="360.15" r="2.50" fill="#000000"/>
<circle cx="400.59" cy="339.05" r="2.50" fill="#000000"/>
<circle cx="406.16" cy="318.44" r="2.50" fill="#000000"/>
<circle cx="411.74" cy="301.56" r="2.50" fill="#000000"/>
<circle cx="417.31" cy="289.22" r="2.50" fill="#000000"/>
<circle cx="422.89" cy="280.13" r="2.50" fill="#000000"/>
<circle cx="428.46" cy="273.97" r="2.50" fill="#000000"/>
<circle cx="434.04" cy="270.07" r="2.50" fill="#000000"/>
<circle cx="439.61" cy="267.80" r="2.50" fill="#000000"/>
<circle cx="445.19" cy="266.82" r="2.50" fill="#000000"/>
<circle cx="450.76" cy="266.54" r="2.50" fill="#000000"/>
<circle cx="456.34" cy="266.50" r="2.50" fill="#000000"/>
<circle cx="461.91" cy="266.50" r="2.50" fill="#000000"/>
<circle cx="467.49" cy="266.50" r="2.50" fill="#000000"/>
<circle cx="473.06" cy="266.50" r="2.50" fill="#000000"/>
<circle cx="478.64" cy="266.50" r="2.50" fill="#000000"/>
<circle cx="484.21" cy="266.50" r="2.50" fill="#000000"/>
<circle cx="489.79" cy="266.50" r="2.50" fill="#000000"/>
<circle cx="495.36" cy="266.50" r="2.50" fill="#000000"/>
<circle cx="500.94" cy="266.50" r="2.50" fill="#000000"/>
<circle cx="506.51" cy="266.50" r="2.50" fill="#000000"/>
<circle cx="512.09" cy="266.50" r="2.50" fill="#000000"/>
<circle cx="517.66" cy="266.50" r="2.50" fill="#000000"/>
<circle cx="523.24" cy="266.50" r="2.50" fill="#000000"/>
<circle cx="528.81" cy="266.50" r="2.50" fill="#000000"/>
<circle cx="534.39" cy="266.50" r="2.50" fill="#000000"/>
<circle cx="539.96" cy="266.50" r="2.50" fill="#000000"/>
<circle cx="545.54" cy="266.50" r="2.50" fill="#000000"/>
<circle cx="551.11" cy="266.50" r="2.50" fill="#000000"/>
<circle cx="556.69" cy="266.50" r="2.50" fill="#000000"/>
<circle cx="562.26" cy="266.50" r="2.50" fill="#000000"/>
<circle cx="567.84" cy="266.50" r="2.50" fill="#000000"/>
<circle cx="573.41" cy="266.50" r="2.50" fill="#000000"/>
<circle cx="355.99" cy="428.80" r="2.50" fill="#3f6fb5"/>
<circle cx="361.56" cy="428.74" r="2.50" fill="#3f6fb5"/>
<circle cx="367.14" cy="428.31" r="2.50" fill="#3f6fb5"/>
<circle cx="372.71" cy="426.85" r="2.50" fill="#3f6fb5"/>
<circle cx="378.29" cy="423.61" r="2.50" fill="#3f6fb5"/>
<circle cx="383.86" cy="415.65" r="2.50" fill="#3f6fb5"/>
<circle cx="389.44" cy="401.05" r="2.50" fill="#3f6fb5"/>
<circle cx="395.01" cy="382.22" r="2.50" fill="#3f6fb5"/>
<circle cx="400.59" cy="360.15" r="2.50" fill="#3f6fb5"/>
<circle cx="406.16" cy="339.05" r="2.50" fill="#3f6fb5"/>
<circle cx="411.74" cy="318.44" r="2.50" fill="#3f6fb5"/>
<circle cx="417.31" cy="301.56" r="2.50" fill="#3f6fb5"/>
<circle cx="422.89" cy="289.22" r="2.50" fill="#3f6fb5"/>
<circle cx="428.46" cy="280.13" r="2.50" fill="#3f6fb5"/>
<circle cx="434.04" cy="273.97" r="2.50" fill="#3f6fb5"/>
<circle cx="439.61" cy="270.07" r="2.50" fill="#3f6fb5"/>
<circle cx="445.19" cy="267.80" r="2.50" fill="#3f6fb5"/>
<circle cx="450.76" cy="266.82" r="2.50" fill="#3f6fb5"/>
<circle cx="456.34" cy="266.54" r="2.50" fill="#3f6fb5"/>
<circle cx="461.91" cy="266.50" r="2.50" fill="#3f6fb5"/>
<circle cx="467.49" cy="266.50" r="2.50" fill="#3f6fb5"/>
<circle cx="473.06" cy="266.50" r="2.50" fill="#3f6fb5"/>
<circle cx="478.64" cy="266.50" r="2.50" fill="#3f6fb5"/>
<circle cx="484.21" cy="266.50" r="2.50" fill="#3f6fb5"/>
<circle cx="489.79" cy="266.50" r="2.50" fill="#3f6fb5"/>
<circle cx="495.36" cy="266.50" r="2.50" fill="#3f6fb5"/>
<circle cx="500.94" cy="266.50" r="2.50" fill="#3f6fb5"/>
<circle cx="506.51" cy="266.50" r="2.50" fill="#3f6fb5"/>
<circle cx="512.09" cy="266.50" r="2.50" fill="#3f6fb5"/>
<circle cx="517.66" cy="266.50" r="2.50" fill="#3f6fb5"/>
<circle cx="523.24" cy="266.50" r="2.50" fill="#3f6fb5"/>
<circle cx="528.81" cy="266.50" r="2.50" fill="#3f6fb5"/>
<circle cx="534.39" cy="266.50" r="2.50" fill="#3f6fb5"/>
<circle cx="539.96" cy="266.50" r="2.50" fill="#3f6fb5"/>
<circle cx="545.54" cy="266.50" r="2.50" fill="#3f6fb5"/>
<circle cx="551.11" cy="266.50" r="2.50" fill="#3f6fb5"/>
<circle cx="556.69" cy="266.50" r="2.50" fill="#3f6fb5"/>
<circle cx="562.26" cy="266.50" r="2.50" fill="#3f6fb5"/>
<circle cx="567.84" cy="266.50" r="2.50" fill="#3f6fb5"/>
<circle cx="573.41" cy="266.50" r="2.50" fill="#3f6fb5"/>
<path d="M353.2,428.8 L353.5,428.8 L353.8,428.8 L354.0,428.8 L354.3,428.8 L354.6,428.8 L354.9,428.8 L355.2,428.8 L355.4,428.8 L355.7,428.8 L356.0,428.8 L356.3,428.8 L356.5,428.8 L356.8,428.8 L357.1,428.8 L357.4,428.8 L357.7,428.8 L357.9,428.7 L358.2,428.7 L358.5,428.7 L358.8,428.7 L359.1,428.7 L359.3,428.7 L359.6,428.7 L359.9,428.6 L360.2,428.6 L360.4,428.6 L360.7,428.6 L361.0,428.6 L361.3,428.5 L361.6,428.5 L361.8,428.5 L362.1,428.5 L362.4,428.4 L362.7,428.4 L363.0,428.4 L363.2,428.4 L363.5,428.3 L363.8,428.3 L364.1,428.3 L364.3,428.2 L364.6,428.2 L364.9,428.2 L365.2,428.1 L365.5,428.0 L365.7,428.0 L366.0,427.9 L366.3,427.8 L366.6,427.8 L366.9,427.7 L367.1,427.6 L367.4,427.5 L367.7,427.4 L368.0,427.3 L368.3,427.2 L368.5,427.1 L368.8,427.1 L369.1,427.0 L369.4,426.9 L369.6,426.7 L369.9,426.6 L370.2,426.5 L370.5,426.4 L370.8,426.3 L371.0,426.1 L371.3,426.0 L371.6,425.9 L371.9,425.7 L372.2,425.6 L372.4,425.4 L372.7,425.2 L373.0,425.0 L373.3,424.9 L373.5,424.7 L373.8,424.5 L374.1,424.3 L374.4,424.1 L374.7,423.8 L374.9,423.6 L375.2,423.4 L375.5,423.1 L375.8,422.8 L376.1,422.5 L376.3,422.2 L376.6,421.9 L376.9,421.5 L377.2,421.1 L377.5,420.7 L377.7,420.3 L378.0,419.9 L378.3,419.5 L378.6,419.1 L378.8,418.6 L379.1,418.1 L379.4,417.7 L379.7,417.2 L380.0,416.7 L380.2,416.2 L380.5,415.7 L380.8,415.1 L381.1,414.6 L381.4,414.0 L381.6,413.3 L381.9,412.7 L382.2,412.0 L382.5,411.3 L382.7,410.6 L383.0,409.9 L383.3,409.1 L383.6,408.4 L383.9,407.6 L384.1,406.8 L384.4,406.0 L384.7,405.2 L385.0,404.3 L385.3,403.5 L385.5,402.7 L385.8,401.9 L386.1,401.0 L386.4,400.2 L386.6,399.4 L386.9,398.5 L387.2,397.6 L387.5,396.7 L387.8,395.8 L388.0,394.9 L388.3,394.0 L388.6,393.1 L388.9,392.1 L389.2,391.2 L389.4,390.2 L389.7,389.2 L390.0,388.2 L390.3,387.2 L390.6,386.3 L390.8,385.3 L391.1,384.2 L391.4,383.2 L391.7,382.2 L391.9,381.2 L392.2,380.2 L392.5,379.1 L392.8,378.0 L393.1,376.9 L393.3,375.8 L393.6,374.7 L393.9,373.6 L394.2,372.5 L394.5,371.3 L394.7,370.2 L395.0,369.1 L395.3,367.9 L395.6,366.8 L395.8,365.7 L396.1,364.6 L396.4,363.4 L396.7,362.3 L397.0,361.2 L397.2,360.1 L397.5,359.1 L397.8,358.0 L398.1,356.9 L398.4,355.9 L398.6,354.8 L398.9,353.7 L399.2,352.7 L399.5,351.6 L399.8,350.6 L400.0,349.5 L400.3,348.5 L400.6,347.4 L400.9,346.4 L401.1,345.3 L401.4,344.3 L401.7,343.2 L402.0,342.2 L402.3,341.1 L402.5,340.1 L402.8,339.0 L403.1,338.0 L403.4,336.9 L403.7,335.9 L403.9,334.8 L404.2,333.8 L404.5,332.7 L404.8,331.6 L405.0,330.6 L405.3,329.5 L405.6,328.5 L405.9,327.4 L406.2,326.4 L406.4,325.3 L406.7,324.3 L407.0,323.3 L407.3,322.3 L407.6,321.3 L407.8,320.3 L408.1,319.4 L408.4,318.4 L408.7,317.5 L408.9,316.6 L409.2,315.7 L409.5,314.8 L409.8,313.9 L410.1,313.0 L410.3,312.1 L410.6,311.2 L410.9,310.3 L411.2,309.5 L411.5,308.6 L411.7,307.8 L412.0,306.9 L412.3,306.1 L412.6,305.3 L412.9,304.5 L413.1,303.8 L413.4,303.0 L413.7,302.3 L414.0,301.6 L414.2,300.8 L414.5,300.2 L414.8,299.5 L415.1,298.8 L415.4,298.1 L415.6,297.5 L415.9,296.8 L416.2,296.2 L416.5,295.5 L416.8,294.9 L417.0,294.3 L417.3,293.7 L417.6,293.1 L417.9,292.5 L418.1,292.0 L418.4,291.4 L418.7,290.8 L419.0,290.3 L419.3,289.7 L419.5,289.2 L419.8,288.7 L420.1,288.2 L420.4,287.7 L420.7,287.2 L420.9,286.7 L421.2,286.2 L421.5,285.7 L421.8,285.2 L422.1,284.8 L422.3,284.3 L422.6,283.8 L422.9,283.4 L423.2,282.9 L423.4,282.5 L423.7,282.1 L424.0,281.7 L424.3,281.3 L424.6,280.9 L424.8,280.5 L425.1,280.1 L425.4,279.8 L425.7,279.4 L426.0,279.1 L426.2,278.7 L426.5,278.4 L426.8,278.0 L427.1,277.7 L427.3,277.4 L427.6,277.0 L427.9,276.7 L428.2,276.4 L428.5,276.1 L428.7,275.8 L429.0,275.5 L429.3,275.3 L429.6,275.0 L429.9,274.7 L430.1,274.5 L430.4,274.2 L430.7,274.0 L431.0,273.7 L431.2,273.5 L431.5,273.3 L431.8,273.0 L432.1,272.8 L432.4,272.6 L432.6,272.4 L432.9,272.2 L433.2,272.0 L433.5,271.8 L433.8,271.6 L434.0,271.4 L434.3,271.2 L434.6,271.0 L434.9,270.9 L435.2,270.7 L435.4,270.5 L435.7,270.4 L436.0,270.2 L436.3,270.1 L436.5,269.9 L436.8,269.8 L437.1,269.6 L437.4,269.5 L437.7,269.4 L437.9,269.2 L438.2,269.1 L438.5,269.0 L438.8,268.9 L439.1,268.7 L439.3,268.6 L439.6,268.5 L439.9,268.4 L440.2,268.3 L440.4,268.2 L440.7,268.1 L441.0,268.0 L441.3,267.9 L441.6,267.9 L441.8,267.8 L442.1,267.7 L442.4,267.7 L442.7,267.6 L443.0,267.5 L443.2,267.5 L443.5,267.4 L443.8,267.4 L444.1,267.3 L444.4,267.2 L444.6,267.2 L444.9,267.1 L445.2,267.1 L445.5,267.0 L445.7,267.0 L446.0,267.0 L446.3,266.9 L446.6,266.9 L446.9,266.9 L447.1,266.8 L447.4,266.8 L447.7,266.8 L448.0,266.8 L448.3,266.8 L448.5,266.8 L448.8,266.7 L449.1,266.7 L449.4,266.7 L449.6,266.7 L449.9,266.7 L450.2,266.7 L450.5,266.6 L450.8,266.6 L451.0,266.6 L451.3,266.6 L451.6,266.6 L451.9,266.6 L452.2,266.6 L452.4,266.6 L452.7,266.6 L453.0,266.5 L453.3,266.5 L453.6,266.5 L453.8,266.5 L454.1,266.5 L454.4,266.5 L454.7,266.5 L454.9,266.5 L455.2,266.5 L455.5,266.5 L455.8,266.5 L456.1,266.5 L456.3,266.5 L456.6,266.5 L456.9,266.5 L457.2,266.5 L457.5,266.5 L457.7,266.5 L458.0,266.5 L458.3,266.5 L458.6,266.5 L458.8,266.5 L459.1,266.5 L459.4,266.5 L459.7,266.5 L460.0,266.5 L460.2,266.5 L460.5,266.5 L460.8,266.5 L461.1,266.5 L461.4,266.5 L461.6,266.5 L461.9,266.5 L462.2,266.5 L462.5,266.5 L462.7,266.5 L463.0,266.5 L463.3,266.5 L463.6,266.5 L463.9,266.5 L464.1,266.5 L464.4,266.5 L464.7,266.5 L465.0,266.5 L465.3,266.5 L465.5,266.5 L465.8,266.5 L466.1,266.5 L466.4,266.5 L466.7,266.5 L466.9,266.5 L467.2,266.5 L467.5,266.5 L467.8,266.5 L468.0,266.5 L468.3,266.5 L468.6,266.5 L468.9,266.5 L469.2,266.5 L469.4,266.5 L469.7,266.5 L470.0,266.5 L470.3,266.5 L470.6,266.5 L470.8,266.5 L471.1,266.5 L471.4,266.5 L471.7,266.5 L471.9,266.5 L472.2,266.5 L472.5,266.5 L472.8,266.5 L473.1,266.5 L473.3,266.5 L473.6,266.5 L473.9,266.5 L474.2,266.5 L474.5,266.5 L474.7,266.5 L475.0,266.5 L475.3,266.5 L475.6,266.5 L475.9,266.5 L476.1,266.5 L476.4,266.5 L476.7,266.5 L477.0,266.5 L477.2,266.5 L477.5,266.5 L477.8,266.5 L478.1,266.5 L478.4,266.5 L478.6,266.5 L478.9,266.5 L479.2,266.5 L479.5,266.5 L479.8,266.5 L480.0,266.5 L480.3,266.5 L480.6,266.5 L480.9,266.5 L481.1,266.5 L481.4,266.5 L481.7,266.5 L482.0,266.5 L482.3,266.5 L482.5,266.5 L482.8,266.5 L483.1,266.5 L483.4,266.5 L483.7,266.5 L483.9,266.5 L484.2,266.5 L484.5,266.5 L484.8,266.5 L485.0,266.5 L485.3,266.5 L485.6,266.5 L485.9,266.5 L486.2,266.5 L486.4,266.5 L486.7,266.5 L487.0,266.5 L487.3,266.5 L487.6,266.5 L487.8,266.5 L488.1,266.5 L488.4,266.5 L488.7,266.5 L489.0,266.5 L489.2,266.5 L489.5,266.5 L489.8,266.5 L490.1,266.5 L490.3,266.5 L490.6,266.5 L490.9,266.5 L491.2,266.5 L491.5,266.5 L491.7,266.5 L492.0,266.5 L492.3,266.5 L492.6,266.5 L492.9,266.5 L493.1,266.5 L493.4,266.5 L493.7,266.5 L494.0,266.5 L494.2,266.5 L494.5,266.5 L494.8,266.5 L495.1,266.5 L495.4,266.5 L495.6,266.5 L495.9,266.5 L496.2,266.5 L496.5,266.5 L496.8,266.5 L497.0,266.5 L497.3,266.5 L497.6,266.5 L497.9,266.5 L498.2,266.5 L498.4,266.5 L498.7,266.5 L499.0,266.5 L499.3,266.5 L499.5,266.5 L499.8,266.5 L500.1,266.5 L500.4,266.5 L500.7,266.5 L500.9,266.5 L501.2,266.5 L501.5,266.5 L501.8,266.5 L502.1,266.5 L502.3,266.5 L502.6,266.5 L502.9,266.5 L503.2,266.5 L503.4,266.5 L503.7,266.5 L504.0,266.5 L504.3,266.5 L504.6,266.5 L504.8,266.5 L505.1,266.5 L505.4,266.5 L505.7,266.5 L506.0,266.5 L506.2,266.5 L506.5,266.5 L506.8,266.5 L507.1,266.5 L507.3,266.5 L507.6,266.5 L507.9,266.5 L508.2,266.5 L508.5,266.5 L508.7,266.5 L509.0,266.5 L509.3,266.5 L509.6,266.5 L509.9,266.5 L510.1,266.5 L510.4,266.5 L510.7,266.5 L511.0,266.5 L511.3,266.5 L511.5,266.5 L511.8,266.5 L512.1,266.5 L512.4,266.5 L512.6,266.5 L512.9,266.5 L513.2,266.5 L513.5,266.5 L513.8,266.5 L514.0,266.5 L514.3,266.5 L514.6,266.5 L514.9,266.5 L515.2,266.5 L515.4,266.5 L515.7,266.5 L516.0,266.5 L516.3,266.5 L516.5,266.5 L516.8,266.5 L517.1,266.5 L517.4,266.5 L517.7,266.5 L517.9,266.5 L518.2,266.5 L518.5,266.5 L518.8,266.5 L519.1,266.5 L519.3,266.5 L519.6,266.5 L519.9,266.5 L520.2,266.5 L520.5,266.5 L520.7,266.5 L521.0,266.5 L521.3,266.5 L521.6,266.5 L521.8,266.5 L522.1,266.5 L522.4,266.5 L522.7,266.5 L523.0,266.5 L523.2,266.5 L523.5,266.5 L523.8,266.5 L524.1,266.5 L524.4,266.5 L524.6,266.5 L524.9,266.5 L525.2,266.5 L525.5,266.5 L525.7,266.5 L526.0,266.5 L526.3,266.5 L526.6,266.5 L526.9,266.5 L527.1,266.5 L527.4,266.5 L527.7,266.5 L528.0,266.5 L528.3,266.5 L528.5,266.5 L528.8,266.5 L529.1,266.5 L529.4,266.5 L529.6,266.5 L529.9,266.5 L530.2,266.5 L530.5,266.5 L530.8,266.5 L531.0,266.5 L531.3,266.5 L531.6,266.5 L531.9,266.5 L532.2,266.5 L532.4,266.5 L532.7,266.5 L533.0,266.5 L533.3,266.5 L533.6,266.5 L533.8,266.5 L534.1,266.5 L534.4,266.5 L534.7,266.5 L534.9,266.5 L535.2,266.5 L535.5,266.5 L535.8,266.5 L536.1,266.5 L536.3,266.5 L536.6,266.5 L536.9,266.5 L537.2,266.5 L537.5,266.5 L537.7,266.5 L538.0,266.5 L538.3,266.5 L538.6,266.5 L538.8,266.5 L539.1,266.5 L539.4,266.5 L539.7,266.5 L540.0,266.5 L540.2,266.5 L540.5,266.5 L540.8,266.5 L541.1,266.5 L541.4,266.5 L541.6,266.5 L541.9,266.5 L542.2,266.5 L542.5,266.5 L542.8,266.5 L543.0,266.5 L543.3,266.5 L543.6,266.5 L543.9,266.5 L544.1,266.5 L544.4,266.5 L544.7,266.5 L545.0,266.5 L545.3,266.5 L545.5,266.5 L545.8,266.5 L546.1,266.5 L546.4,266.5 L546.7,266.5 L546.9,266.5 L547.2,266.5 L547.5,266.5 L547.8,266.5 L548.0,266.5 L548.3,266.5 L548.6,266.5 L548.9,266.5 L549.2,266.5 L549.4,266.5 L549.7,266.5 L550.0,266.5 L550.3,266.5 L550.6,266.5 L550.8,266.5 L551.1,266.5 L551.4,266.5 L551.7,266.5 L551.9,266.5 L552.2,266.5 L552.5,266.5 L552.8,266.5 L553.1,266.5 L553.3,266.5 L553.6,266.5 L553.9,266.5 L554.2,266.5 L554.5,266.5 L554.7,266.5 L555.0,266.5 L555.3,266.5 L555.6,266.5 L555.9,266.5 L556.1,266.5 L556.4,266.5 L556.7,266.5 L557.0,266.5 L557.2,266.5 L557.5,266.5 L557.8,266.5 L558.1,266.5 L558.4,266.5 L558.6,266.5 L558.9,266.5 L559.2,266.5 L559.5,266.5 L559.8,266.5 L560.0,266.5 L560.3,266.5 L560.6,266.5 L560.9,266.5 L561.1,266.5 L561.4,266.5 L561.7,266.5 L562.0,266.5 L562.3,266.5 L562.5,266.5 L562.8,266.5 L563.1,266.5 L563.4,266.5 L563.7,266.5 L563.9,266.5 L564.2,266.5 L564.5,266.5 L564.8,266.5 L565.1,266.5 L565.3,266.5 L565.6,266.5 L565.9,266.5 L566.2,266.5 L566.4,266.5 L566.7,266.5 L567.0,266.5 L567.3,266.5 L567.6,266.5 L567.8,266.5 L568.1,266.5 L568.4,266.5 L568.7,266.5 L569.0,266.5 L569.2,266.5 L569.5,266.5 L569.8,266.5 L570.1,266.5 L570.3,266.5 L570.6,266.5 L570.9,266.5 L571.2,266.5 L571.5,266.5 L571.7,266.5 L572.0,266.5 L572.3,266.5 L572.6,266.5 L572.9,266.5 L573.1,266.5 L573.4,266.5 L573.7,266.5 L574.0,266.5 L574.2,266.5 L574.5,266.5 L574.8,266.5 L575.1,266.5 L575.4,266.5 L575.6,266.5 L575.9,266.5 L576.2,266.5" fill="none" stroke="#d01f20" stroke-width="1.90" stroke-dasharray="10.9,2.7,1.7,2.7" stroke-linejoin="round"/>
</g>
<path d="M353.20,266.00 V429.30 M576.40,266.00 V429.30 M352.70,266.50 H576.90 M352.70,428.80 H576.90" fill="none" stroke="#c8c8c8" stroke-width="1"/>
<line x1="350.90" y1="428.80" x2="353.20" y2="428.80" stroke="#333333" stroke-width="1"/>
<text transform="translate(349.40,434.20) scale(1,1.080)" text-anchor="end" class="tk">0.0</text>
<line x1="350.90" y1="396.34" x2="353.20" y2="396.34" stroke="#333333" stroke-width="1"/>
<text transform="translate(349.40,401.74) scale(1,1.080)" text-anchor="end" class="tk">0.2</text>
<line x1="350.90" y1="363.88" x2="353.20" y2="363.88" stroke="#333333" stroke-width="1"/>
<text transform="translate(349.40,369.28) scale(1,1.080)" text-anchor="end" class="tk">0.4</text>
<line x1="350.90" y1="331.42" x2="353.20" y2="331.42" stroke="#333333" stroke-width="1"/>
<text transform="translate(349.40,336.82) scale(1,1.080)" text-anchor="end" class="tk">0.6</text>
<line x1="350.90" y1="298.96" x2="353.20" y2="298.96" stroke="#333333" stroke-width="1"/>
<text transform="translate(349.40,304.36) scale(1,1.080)" text-anchor="end" class="tk">0.8</text>
<line x1="350.90" y1="266.50" x2="353.20" y2="266.50" stroke="#333333" stroke-width="1"/>
<text transform="translate(349.40,271.90) scale(1,1.080)" text-anchor="end" class="tk">1.0</text>
<line x1="353.20" y1="428.80" x2="353.20" y2="431.10" stroke="#333333" stroke-width="1"/>
<text transform="translate(353.20,442.75) scale(1,1.080)" text-anchor="middle" class="tk">0.0</text>
<line x1="408.95" y1="428.80" x2="408.95" y2="431.10" stroke="#333333" stroke-width="1"/>
<text transform="translate(408.95,442.75) scale(1,1.080)" text-anchor="middle" class="tk">2.5</text>
<line x1="464.70" y1="428.80" x2="464.70" y2="431.10" stroke="#333333" stroke-width="1"/>
<text transform="translate(464.70,442.75) scale(1,1.080)" text-anchor="middle" class="tk">5.0</text>
<line x1="520.45" y1="428.80" x2="520.45" y2="431.10" stroke="#333333" stroke-width="1"/>
<text transform="translate(520.45,442.75) scale(1,1.080)" text-anchor="middle" class="tk">7.5</text>
<line x1="576.20" y1="428.80" x2="576.20" y2="431.10" stroke="#333333" stroke-width="1"/>
<text transform="translate(576.20,442.75) scale(1,1.080)" text-anchor="middle" class="tk">10.0</text>
<text x="320.00" y="250.30" class="tk">d)</text>
<text x="455.10" y="459.45" class="mt" font-style="italic" font-size="14.2">t</text>
<line x1="460.10" y1="462.65" x2="466.10" y2="449.05" stroke="#000" stroke-width="1.1"/>
<text transform="translate(467.30,459.45) scale(1.4,1)" class="mt" font-style="italic" font-size="15">τ</text>
<g transform="translate(322.40,350.00) rotate(-90)"><text x="0" y="0" text-anchor="middle" class="yl">P<tspan font-size="12.6" dy="2.0">tot</tspan></text></g>
</svg></body></html>
